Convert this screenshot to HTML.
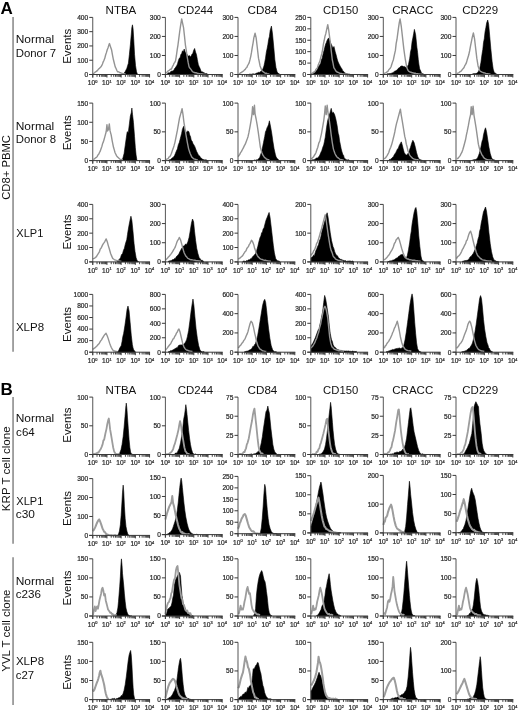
<!DOCTYPE html><html><head><meta charset="utf-8"><style>html,body{margin:0;padding:0;background:#fff;}svg{display:block;filter:blur(0.3px)}</style></head><body>
<svg width="520" height="712" viewBox="0 0 520 712" font-family="Liberation Sans, sans-serif">
<rect width="520" height="712" fill="#fff"/>
<g><path d="M123.23,74.5 L123.23,74.06 L124.15,72.99 L125.08,71.85 L126,69.97 L126.92,68.15 L127.66,65.46 L128.4,63.23 L129.38,54.62 L130.37,44.77 L131.23,34.92 L131.85,27.54 L132.46,24.83 L133.08,28.77 L133.69,38.62 L134.55,54.62 L135.54,65.69 L136.52,71.85 L137.38,74.06 L137.38,74.5 Z" fill="#000" stroke="#000" stroke-width="0.6" stroke-linejoin="round"/><path d="M93.08,73.69 L93.79,73.27 L94.51,72.73 L95.23,72.08 L95.95,71.74 L96.67,71.17 L97.38,70.62 L98.1,69.63 L98.82,68.79 L99.54,68.3 L100.26,67.4 L100.97,66.77 L101.69,65.69 L102.46,63.95 L103.23,61.85 L104,60.2 L104.77,58.31 L105.59,54.99 L106.41,52.63 L107.23,49.69 L107.97,47.94 L108.71,45.6 L109.45,43.54 L110.49,46.68 L111.54,49.69 L112.46,54.9 L113.38,59.54 L114.31,63.27 L115.23,66.92 L116.05,68.52 L116.87,70.5 L117.69,71.85 L118.41,71.75 L119.13,72.12 L119.85,72.68 L120.56,72.59 L121.28,73.17 L122,73.45 L122.74,73.44 L123.48,73.82 L124.22,73.8 L124.95,73.9 L125.69,74.06" fill="none" stroke="#939393" stroke-width="1.4" stroke-linejoin="round"/><path d="M166.92,74.5 L166.92,73.69 L167.69,73.74 L168.46,72.63 L169.23,72.97 L170,72.4 L170.77,71.72 L171.54,70.94 L172.31,71.18 L173.08,70.62 L173.82,70.45 L174.55,68.52 L175.29,68.03 L176.03,66.4 L176.77,65.69 L177.59,63.57 L178.41,60.46 L179.23,58.31 L180.05,57.69 L180.87,54.56 L181.69,53.38 L182.51,50.78 L183.33,52.11 L184.15,49.08 L185.08,51.51 L186,53.38 L186.92,54.1 L187.85,55.85 L188.67,56.12 L189.49,55.55 L190.31,57.08 L191.13,56.02 L191.95,54.24 L192.77,53.38 L193.69,50.35 L194.62,48.46 L195.54,52.09 L196.46,54.62 L197.38,59.65 L198.31,64.46 L199.08,66.39 L199.85,68.01 L200.62,70.04 L201.38,71.85 L202.15,72.25 L202.92,71.7 L203.69,72.7 L204.46,72.84 L205.23,73.65 L206,73.74 L206.77,73.56 L207.54,74.06 L207.54,74.5 Z" fill="#000" stroke="#000" stroke-width="0.6" stroke-linejoin="round"/><path d="M165.69,73.08 L166.46,72.45 L167.23,72.04 L168,70.99 L168.77,70.51 L169.54,70.14 L170.31,69.1 L171.08,69.3 L171.85,68.15 L172.58,66.34 L173.32,65.04 L174.06,63.18 L174.8,62.39 L175.54,60.77 L176.36,55.97 L177.18,49.84 L178,44.77 L178.82,38.44 L179.64,32 L180.46,26.31 L181.69,18.92 L182.62,23.34 L183.54,27.54 L184.46,35.89 L185.38,44.77 L186.31,50.58 L187.23,57.08 L188.15,62.42 L189.08,66.92 L189.82,67.98 L190.55,68.87 L191.29,69.88 L192.03,70.99 L192.77,71.85 L193.54,72.07 L194.31,72.53 L195.08,72.71 L195.85,72.63 L196.62,72.91 L197.38,73.41 L198.15,73.35 L198.92,73.69 L199.69,73.67 L200.46,73.87 L201.23,73.91 L202,73.82 L202.77,74 L203.54,74.14 L204.31,74.27 L205.08,74.31" fill="none" stroke="#939393" stroke-width="1.4" stroke-linejoin="round"/><path d="M249.15,74.5 L249.15,74.22 L249.93,74.1 L250.71,74.19 L251.49,74.23 L252.27,73.98 L253.05,73.73 L253.83,73.93 L254.61,73.97 L255.38,73.75 L256.16,73.26 L256.94,73.12 L257.72,72.84 L258.5,72.33 L259.28,72.4 L260.06,72.19 L260.84,71.22 L261.62,70.35 L262.39,69.86 L263.17,68.2 L263.95,65.96 L264.73,62.3 L265.51,58.17 L266.29,52.39 L267.07,48.83 L267.85,44.73 L268.62,39.48 L269.4,36.56 L270.18,30.45 L271.43,26.08 L272.52,34.03 L273.77,47.27 L274.86,59.73 L275.95,67.52 L277.19,72.19 L277.97,72.75 L278.75,73.61 L279.53,74.06 L279.53,74.5 Z" fill="#000" stroke="#000" stroke-width="0.6" stroke-linejoin="round"/><path d="M239.03,73.75 L239.81,73.39 L240.59,72.76 L241.37,72.55 L242.14,71.9 L242.92,71.41 L243.7,70.69 L244.48,69.92 L245.26,69.34 L246.04,68.01 L246.82,67.52 L247.6,65.48 L248.38,64.29 L249.15,62.85 L249.93,59.89 L250.71,56.62 L251.49,52.39 L252.27,47.27 L253.05,43.02 L253.83,37.92 L255.07,33.25 L256.16,37.92 L257.25,47.27 L258.5,58.17 L259.28,61.98 L260.06,65.96 L260.99,68.32 L261.93,70.63 L262.63,71.43 L263.33,71.81 L264.03,72.35 L264.73,72.97 L265.51,73.32 L266.29,73.11 L267.07,73.59 L267.85,73.83 L268.62,73.86 L269.4,74.06" fill="none" stroke="#939393" stroke-width="1.4" stroke-linejoin="round"/><path d="M311.25,74.5 L311.25,74.22 L312.03,73.92 L312.81,73.71 L313.59,73.38 L314.37,72.97 L315.14,72.17 L315.92,70.88 L316.7,70.6 L317.48,69.08 L318.26,66.58 L319.04,66.14 L319.82,64.4 L320.6,63.68 L321.38,59.68 L322.15,58.17 L323.09,53.93 L324.02,50.38 L324.8,47.2 L325.58,44.15 L326.36,42.53 L327.14,40.26 L327.92,38.91 L328.7,37.92 L329.94,41.04 L331.19,44.15 L331.97,45.69 L332.75,48.05 L333.99,46.49 L335.24,51.94 L336.1,54.79 L336.95,58.17 L337.73,61.01 L338.51,62.85 L339.52,64.89 L340.53,66.74 L341.26,68 L341.99,68.91 L342.72,70.63 L343.73,71.53 L344.74,72.97 L345.52,73.19 L346.3,73.72 L347.08,73.81 L347.86,74.06 L348.63,74.17 L349.41,74.29 L350.19,74.5 L350.19,74.5 Z" fill="#000" stroke="#000" stroke-width="0.6" stroke-linejoin="round"/><path d="M311.25,73.75 L312.03,73.24 L312.81,72.77 L313.59,72.15 L314.37,71.88 L315.14,71.14 L315.92,69.22 L316.7,68.71 L317.48,67.52 L318.26,64.85 L319.04,63.02 L319.82,61.29 L320.83,57.12 L321.84,53.5 L322.62,49.54 L323.4,44.15 L324.18,40.52 L324.96,36.37 L325.74,33.91 L326.52,30.13 L327.76,24.68 L328.7,30.13 L329.94,39.48 L331.19,50.38 L332.28,59.73 L333.06,63.41 L333.84,67.52 L334.62,68.79 L335.39,70.24 L336.17,71.41 L336.95,72.03 L337.73,72.23 L338.51,72.56 L339.29,72.97 L340.07,73.23 L340.85,73.36 L341.62,73.5 L342.4,73.81 L343.18,74.04 L343.96,74.06 L344.74,74.21 L345.52,74.05 L346.3,74.23 L347.08,74.29 L347.86,74.36 L348.63,74.39 L349.41,74.49 L350.19,74.5" fill="none" stroke="#939393" stroke-width="1.4" stroke-linejoin="round"/><path d="M386.37,74.5 L386.37,74.22 L387.14,73.81 L387.92,73.79 L388.7,73.65 L389.48,73.6 L390.26,73.53 L391.04,73.44 L391.82,73.02 L392.6,72.85 L393.38,72.17 L394.15,72.19 L394.93,70.85 L395.71,71.12 L396.49,70.17 L397.27,69.86 L398.05,68.61 L398.83,67.96 L399.61,67.52 L400.62,66.37 L401.63,65.96 L402.36,66.07 L403.08,66.31 L403.81,66.74 L404.51,66.44 L405.21,67.14 L405.91,67.31 L406.62,68.3 L407.55,66.25 L408.48,64.4 L409.73,58.17 L410.51,51.9 L411.29,48.83 L412.07,41.77 L412.85,37.92 L413.62,33.81 L414.4,29.36 L415.65,34.81 L416.9,47.27 L417.6,52.55 L418.3,59.73 L419,64.88 L419.7,69.08 L420.56,70.52 L421.41,72.97 L422.19,73.53 L422.97,73.63 L423.75,74.22 L423.75,74.5 Z" fill="#000" stroke="#000" stroke-width="0.6" stroke-linejoin="round"/><path d="M384.03,73.75 L384.81,73.11 L385.59,72.8 L386.37,72.37 L387.14,71.78 L387.92,71.41 L388.7,69.89 L389.48,69.04 L390.26,68.24 L391.04,66.74 L391.82,64.22 L392.6,61.87 L393.38,59.73 L394.39,54.95 L395.4,50.38 L396.18,43.4 L396.96,39.48 L397.74,33.54 L398.52,27.8 L399.29,22.68 L400.07,18.92 L401.32,26.71 L402.57,37.92 L403.81,48.83 L404.59,54.53 L405.37,59.73 L406.62,66.74 L407.39,69.03 L408.17,70.63 L408.95,71.41 L409.73,71.77 L410.51,72.19 L411.29,72.18 L412.07,72.87 L412.85,72.82 L413.62,73.04 L414.4,73.28 L415.18,73.19 L415.96,73.67 L416.74,73.74 L417.52,73.73 L418.3,73.97 L419.08,74.06 L419.86,74.21 L420.63,74.16 L421.41,74.25 L422.19,74.38 L422.97,74.35 L423.75,74.5" fill="none" stroke="#939393" stroke-width="1.4" stroke-linejoin="round"/><path d="M471.83,74.5 L471.83,74.22 L472.61,73.93 L473.38,73.64 L474.16,73.55 L474.94,73.64 L475.72,73.44 L476.5,73.37 L477.28,72.79 L478.06,72.19 L478.84,70.46 L479.62,69.08 L480.86,62.85 L482.11,53.5 L482.81,49.44 L483.51,42.6 L484.29,38.74 L485.07,31.69 L485.85,27.64 L486.62,23.12 L487.72,20.01 L488.65,24.22 L489.74,36.37 L490.83,48.83 L492.08,61.29 L493.17,69.08 L494.41,72.97 L495.19,72.83 L495.97,73.73 L496.75,74.22 L496.75,74.5 Z" fill="#000" stroke="#000" stroke-width="0.6" stroke-linejoin="round"/><path d="M457.03,73.75 L457.81,73.13 L458.59,72.94 L459.37,72.28 L460.14,71.65 L460.92,71.41 L461.7,70.23 L462.48,69.43 L463.26,68.42 L464.04,67.52 L464.82,65.59 L465.6,64.4 L466.38,62.85 L467.15,60.08 L467.93,57.57 L468.71,55.06 L469.65,50.75 L470.58,45.71 L471.36,41.91 L472.14,37.92 L473.38,32.94 L474.63,39.48 L475.72,48.83 L476.81,58.17 L478.06,65.96 L478.84,68.16 L479.62,70.32 L480.39,71.27 L481.17,71.69 L481.95,72.19 L482.73,72.41 L483.51,72.82 L484.29,72.81 L485.07,73.06 L485.85,73.44 L486.62,73.6 L487.4,73.62 L488.18,73.8 L488.96,73.87 L489.74,74.12 L490.52,74.22" fill="none" stroke="#939393" stroke-width="1.4" stroke-linejoin="round"/><path d="M121.29,160.6 L121.29,160.22 L122.07,159.45 L122.85,158.19 L124.09,153.52 L125.18,145.73 L126.27,137.94 L127.21,131.71 L128.3,132.49 L129.39,123.92 L130.32,116.13 L131.26,112.71 L131.88,108.03 L132.5,114.27 L133.44,122.37 L134.53,136.38 L135.31,147.29 L136.09,155.08 L136.87,159.75 L137.64,160.53 L137.64,160.6 Z" fill="#000" stroke="#000" stroke-width="0.6" stroke-linejoin="round"/><path d="M93.25,159.44 L94.03,159.07 L94.81,158.63 L95.59,157.84 L96.37,157.41 L97.14,156.63 L97.92,155.06 L98.7,154.3 L99.48,152.5 L100.26,151.12 L101.04,148.85 L101.82,146.64 L102.6,143.55 L103.38,141.84 L104.15,139.24 L104.93,136.38 L106.18,131.71 L106.96,124.7 L107.58,130.93 L108.52,129.38 L109.29,123.92 L110.07,130.93 L111.16,134.83 L112.25,141.06 L113.5,147.29 L114.28,149.85 L115.06,152.74 L115.84,154.22 L116.62,155.86 L117.39,156.95 L118.17,157.49 L118.95,158.33 L119.73,158.97 L120.51,159.48 L121.29,159.53 L122.07,159.7 L122.85,160.06" fill="none" stroke="#939393" stroke-width="1.4" stroke-linejoin="round"/><path d="M168.37,160.6 L168.37,160.22 L169.14,160.12 L169.92,159.58 L170.7,159.44 L171.48,158.52 L172.26,157.91 L173.04,157.41 L173.82,156.56 L174.6,155.45 L175.38,153.52 L176.39,151.07 L177.4,148.85 L178.33,144.65 L179.27,142.62 L180.05,139.5 L180.83,136.38 L181.61,133.5 L182.38,129.38 L183.63,126.26 L184.72,129.38 L185.5,130.29 L186.28,132.49 L187.06,131.65 L187.84,130.93 L188.93,131.71 L189.71,135.04 L190.48,136.38 L191.26,140.32 L192.04,141.06 L192.98,143.56 L193.91,144.95 L194.85,146.64 L195.78,149.16 L196.56,151.33 L197.34,152.74 L198.12,154.39 L198.9,155.39 L199.68,156.09 L200.45,157.41 L201.23,158.05 L202.01,158.82 L202.74,159.36 L203.47,159.6 L204.19,159.75 L204.89,159.98 L205.59,159.83 L206.3,159.9 L207,160.22 L207,160.6 Z" fill="#000" stroke="#000" stroke-width="0.6" stroke-linejoin="round"/><path d="M166.03,159.75 L166.81,159.06 L167.59,158.87 L168.37,158.19 L169.14,156.94 L169.92,156.54 L170.7,155.08 L171.48,153.25 L172.26,150.87 L173.04,148.85 L173.97,145.93 L174.91,142.62 L176.15,136.38 L177.4,130.15 L178.49,123.92 L179.58,117.69 L180.83,113.33 L182.07,108.66 L183.01,114.58 L183.94,122.37 L185.19,130.15 L186.28,136.38 L187.37,142.62 L188.62,148.85 L189.39,151.23 L190.17,153.52 L190.95,155.22 L191.73,156.95 L192.51,157.62 L193.29,158.41 L194.07,158.97 L194.85,159.1 L195.62,159.42 L196.4,159.76 L197.18,159.85 L197.96,160.06" fill="none" stroke="#939393" stroke-width="1.4" stroke-linejoin="round"/><path d="M253.83,160.6 L253.83,160.22 L254.61,160.01 L255.38,160.25 L256.16,159.81 L256.94,159.97 L257.72,159.75 L258.73,158.42 L259.75,157.41 L260.52,154.9 L261.3,152.74 L262.39,148.07 L263.48,142.62 L264.73,136.38 L265.51,131.69 L266.29,130.15 L267.07,127.69 L267.85,126.26 L268.62,124.34 L269.4,120.81 L270.65,127.04 L271.74,133.27 L272.83,141.06 L274.08,148.85 L275.32,154.3 L276.1,156.91 L276.88,158.19 L277.82,159.1 L278.75,160.06 L278.75,160.6 Z" fill="#000" stroke="#000" stroke-width="0.6" stroke-linejoin="round"/><path d="M238.25,156.63 L239.03,155.39 L239.81,154.27 L240.59,152.51 L241.37,151.65 L242.3,149.75 L243.23,148.22 L244.25,145.85 L245.26,144.17 L246.27,141.44 L247.28,138.72 L248.06,136.46 L248.84,132.96 L249.93,127.04 L251.02,120.81 L251.96,114.58 L252.58,106.79 L253.52,114.58 L254.45,105.23 L255.07,113.8 L256.16,119.25 L257.25,125.48 L258.19,131.71 L259.28,139.5 L260.37,147.29 L261.15,150.27 L261.93,152.74 L262.94,155.14 L263.95,156.63 L264.73,157.72 L265.51,158.05 L266.29,158.97 L267.07,159.26 L267.85,159.53 L268.62,159.77 L269.4,160.06" fill="none" stroke="#939393" stroke-width="1.4" stroke-linejoin="round"/><path d="M311.25,160.6 L311.25,160.22 L312.03,159.88 L312.81,159.67 L313.59,159.74 L314.37,159.44 L315.14,159.2 L315.92,158.29 L316.7,157.98 L317.48,157.88 L318.26,157.17 L319.04,156.47 L319.82,155.08 L320.83,152.5 L321.84,150.4 L322.78,147.3 L323.71,144.95 L324.49,141.26 L325.27,137.16 L326.52,127.82 L327.61,120.81 L328.7,116.91 L329.94,113.02 L331.19,108.35 L332.28,113.02 L333.37,112.24 L334.62,114.58 L335.86,119.25 L337.11,125.48 L338.2,133.27 L338.9,135.56 L339.6,141.06 L340.38,144.73 L341.16,148.85 L341.94,151.66 L342.72,154.3 L343.49,155.2 L344.27,157.88 L345.29,159.06 L346.3,159.75 L347.08,159.83 L347.86,160.12 L348.63,159.78 L349.41,160.22 L349.41,160.6 Z" fill="#000" stroke="#000" stroke-width="0.6" stroke-linejoin="round"/><path d="M311.25,158.97 L312.03,158.25 L312.81,157.38 L313.59,156.63 L314.37,155.29 L315.14,154.29 L315.92,152.74 L316.86,149.71 L317.79,147.29 L318.8,143.17 L319.82,141.06 L320.6,137.37 L321.38,134.05 L322.62,127.04 L323.71,120.81 L324.49,114.58 L325.27,106.01 L326.2,114.58 L327.14,105.23 L328.07,113.02 L329.16,119.25 L330.25,127.04 L331.19,134.83 L332.28,142.62 L333.37,148.85 L334.15,151.36 L334.93,153.52 L335.94,155.49 L336.95,156.95 L337.73,157.65 L338.51,158.19 L339.29,158.82 L340.07,159.44 L340.85,159.78 L341.62,159.56 L342.4,159.88 L343.18,160.19 L343.96,160.22" fill="none" stroke="#939393" stroke-width="1.4" stroke-linejoin="round"/><path d="M388.7,160.6 L388.7,160.22 L389.48,159.42 L390.26,159.48 L391.04,158.97 L391.82,158 L392.6,157.3 L393.38,156.63 L394.15,154.94 L394.93,153.76 L395.71,152.74 L396.65,150.63 L397.58,148.85 L398.36,148.21 L399.14,145.73 L400.38,143.39 L401.32,141.84 L402.25,144.95 L403.19,148.85 L404.28,152.74 L405.06,153.79 L405.84,155.08 L406.62,154.94 L407.39,154.3 L408.17,153.23 L408.95,151.96 L409.73,149.25 L410.51,147.29 L411.6,143.39 L412.85,140.28 L414.09,142.62 L415.34,147.29 L416.58,152.74 L417.83,156.95 L418.61,158.16 L419.39,159.44 L420.09,159.53 L420.79,159.89 L421.49,160.12 L422.19,160.22 L422.19,160.6 Z" fill="#000" stroke="#000" stroke-width="0.6" stroke-linejoin="round"/><path d="M384.03,158.97 L384.81,158.38 L385.59,157.77 L386.37,156.63 L387.14,155.66 L387.92,154.05 L388.7,152.74 L389.71,149.5 L390.73,147.29 L391.66,144.56 L392.6,141.06 L393.38,137.99 L394.15,134.83 L394.93,131.23 L395.71,127.04 L396.49,123.69 L397.27,120.81 L398.52,116.13 L399.76,111.46 L400.38,109.12 L401.16,114.58 L402.25,120.81 L403.5,128.6 L404.75,136.38 L405.52,139.45 L406.3,144.17 L407.08,146.8 L407.86,150.4 L408.8,152.85 L409.73,155.08 L410.51,156.12 L411.29,156.9 L412.07,157.88 L412.85,158.37 L413.62,158.76 L414.4,159.2 L415.18,159.44 L415.96,159.56 L416.74,159.86 L417.52,159.75 L418.3,160.1 L419.08,160.22" fill="none" stroke="#939393" stroke-width="1.4" stroke-linejoin="round"/><path d="M471.83,160.6 L471.83,160.22 L472.61,160.15 L473.38,159.87 L474.16,159.76 L474.94,159.47 L475.72,159.44 L476.73,158.99 L477.75,157.41 L478.52,155.58 L479.3,153.52 L480.08,150.45 L480.86,147.29 L482.11,141.06 L482.81,139.31 L483.51,134.83 L484.76,129.84 L485.53,127.82 L486.47,131.4 L487.72,139.5 L488.96,147.29 L490.21,153.52 L491.45,157.41 L492.23,158.8 L493.01,159.75 L493.74,159.83 L494.47,159.97 L495.19,160.22 L495.19,160.6 Z" fill="#000" stroke="#000" stroke-width="0.6" stroke-linejoin="round"/><path d="M457.03,158.97 L457.81,158.42 L458.59,157.54 L459.37,156.63 L460.14,155.59 L460.92,153.95 L461.7,152.74 L462.71,150.06 L463.73,146.51 L464.66,143.04 L465.6,139.5 L466.38,135.12 L467.15,131.71 L468.4,125.48 L469.49,119.25 L470.58,114.58 L471.2,106.79 L472.14,114.58 L473.07,106.17 L474.01,115.36 L474.94,120.81 L476.19,128.6 L477.28,136.38 L478.37,144.17 L479.15,147.4 L479.93,150.4 L480.94,152.52 L481.95,155.08 L482.73,155.84 L483.51,157.34 L484.29,158.19 L485.07,158.71 L485.85,159.07 L486.62,159.42 L487.4,159.75 L488.18,159.82 L488.96,160.04 L489.74,159.96 L490.52,160.13 L491.3,160.06 L492.08,160.22" fill="none" stroke="#939393" stroke-width="1.4" stroke-linejoin="round"/><path d="M117.39,261.9 L117.39,261.22 L118.17,260.03 L118.95,259.97 L119.73,258.81 L120.51,257.63 L121.52,254.6 L122.53,253.74 L123.47,250.26 L124.4,248.29 L125.18,244.76 L125.96,242.06 L126.74,239.76 L127.52,234.27 L128.3,229.33 L129.08,224.92 L130.32,218.69 L130.95,216.2 L131.88,220.56 L132.97,231.15 L134.06,243.62 L135,251.4 L136.09,257.63 L137.18,260.75 L138.42,261.53 L138.42,261.9 Z" fill="#000" stroke="#000" stroke-width="0.6" stroke-linejoin="round"/><path d="M92.75,258.88 L94.03,258.41 L94.81,258.03 L95.59,257.16 L96.37,256.86 L97.14,255.29 L97.92,254.2 L98.7,252.96 L99.48,251.54 L100.26,249 L101.04,248.29 L101.82,246.64 L102.6,244.9 L103.38,243.62 L104.15,242.63 L104.93,241.28 L106.18,238.94 L106.88,240.7 L107.58,242.84 L108.36,245.86 L109.14,248.29 L109.92,250.99 L110.7,253.74 L111.71,256.11 L112.72,258.41 L113.5,259.03 L114.28,259.53 L115.06,259.97 L115.84,260.19 L116.62,260.38 L117.39,260.59 L118.17,260.75 L118.95,260.91 L119.73,261.02 L120.51,261.09 L121.29,261.22" fill="none" stroke="#939393" stroke-width="1.4" stroke-linejoin="round"/><path d="M168.37,261.9 L168.37,261.22 L169.14,261.12 L169.92,260.74 L170.7,260.77 L171.48,260.44 L172.26,259.63 L173.04,259.68 L173.82,259.35 L174.6,258.41 L175.38,258.46 L176.15,256.99 L176.93,256.08 L177.95,255.16 L178.96,253.74 L179.74,251.99 L180.52,250.62 L181.76,248.29 L182.46,247.41 L183.16,245.95 L183.94,246.27 L184.72,245.17 L185.5,244.09 L186.28,244.39 L187.06,243.57 L187.84,242.06 L189.08,237.38 L190.17,231.15 L191.42,223.37 L192.51,219 L193.6,221.81 L194.53,231.15 L195.62,240.5 L196.72,248.29 L197.96,253.74 L199.21,257.63 L199.99,258.47 L200.77,259.97 L201.65,260.31 L202.53,260.43 L203.41,261.06 L203.41,261.9 Z" fill="#000" stroke="#000" stroke-width="0.6" stroke-linejoin="round"/><path d="M165.72,259.97 L166.65,259.01 L167.59,257.95 L168.37,256.97 L169.14,256.39 L169.92,255.3 L170.7,254.35 L171.48,253.3 L172.26,252.18 L173.04,250.84 L173.82,249.43 L174.6,248.29 L175.38,246.63 L176.15,244.39 L176.93,242.06 L177.71,240.19 L178.49,239.44 L179.27,237.38 L180.52,239.72 L181.61,243.62 L182.85,248.29 L183.55,250.8 L184.25,252.96 L185.03,254.51 L185.81,256.08 L186.82,257.07 L187.84,258.41 L188.62,258.68 L189.39,259.13 L190.17,259.5 L190.95,259.91 L191.73,259.59 L192.51,259.91 L193.29,260.13 L194.07,260.12 L194.85,260.2 L195.62,260.49 L196.4,260.72 L197.18,260.75 L197.96,260.79 L198.74,261.01 L199.52,260.98 L200.3,261.18 L201.08,261.22" fill="none" stroke="#939393" stroke-width="1.4" stroke-linejoin="round"/><path d="M242.92,261.9 L242.92,261.22 L243.7,261.05 L244.48,261.15 L245.26,261.45 L246.04,260.66 L246.82,260.75 L247.6,260.63 L248.38,259.75 L249.15,259.97 L250.09,259.15 L251.02,258.41 L251.8,258.16 L252.58,256.86 L253.36,255.93 L254.14,255.3 L255.38,253.74 L256.63,250.62 L257.72,246.73 L258.81,242.06 L260.06,237.38 L260.84,236.11 L261.62,232.71 L262.39,232.36 L263.17,228.82 L263.95,228.13 L264.73,224.92 L265.98,220.25 L267.22,217.13 L268.16,214.8 L269.09,212.46 L270.03,217.13 L270.96,224.92 L272.21,235.83 L273.3,245.17 L274.39,252.96 L275.63,258.41 L276.41,259.62 L277.19,260.75 L277.97,260.86 L278.75,261.02 L279.53,261.22 L279.53,261.9 Z" fill="#000" stroke="#000" stroke-width="0.6" stroke-linejoin="round"/><path d="M238.25,259.19 L239.03,258.62 L239.81,258.05 L240.59,257.63 L241.37,256.58 L242.14,256.19 L242.92,255.3 L243.7,253.75 L244.48,252.66 L245.26,251.4 L246.04,250.67 L246.82,248.44 L247.6,247.51 L248.38,246.64 L249.15,244.64 L249.93,243.62 L250.71,241.94 L251.49,240.19 L252.27,241.11 L253.05,242.84 L253.83,244.94 L254.61,248.29 L255.38,250.34 L256.16,252.96 L257.18,255.35 L258.19,256.86 L258.92,257.51 L259.64,258.28 L260.37,258.88 L261.07,259.19 L261.77,259.44 L262.47,259.56 L263.17,259.97 L263.95,260.1 L264.73,260.41 L265.51,260.21 L266.29,260.64 L267.07,260.75 L267.85,260.9 L268.62,261.07 L269.4,261.07 L270.18,261.21 L270.96,261.22" fill="none" stroke="#939393" stroke-width="1.4" stroke-linejoin="round"/><path d="M310.94,261.9 L310.94,258.41 L311.87,256.96 L312.81,256.86 L313.59,254.95 L314.37,255.63 L315.14,252.96 L315.92,250.46 L316.7,248.92 L317.48,246.73 L318.49,244.74 L319.51,240.5 L320.44,238.74 L321.38,234.27 L322.15,230.4 L322.93,228.04 L324.18,223.37 L325.27,219.47 L326.2,215.58 L327.14,212.77 L328.07,217.13 L329.16,224.92 L330.25,232.71 L331.5,240.5 L332.28,243.58 L333.06,246.73 L333.84,248.39 L334.62,251.4 L335.55,253.82 L336.48,255.3 L337.5,255.83 L338.51,257.95 L339.29,258.3 L340.07,259.03 L340.85,259.5 L341.62,259.45 L342.4,259.93 L343.18,260.33 L343.96,260.44 L344.74,260.79 L345.52,260.6 L346.3,261.38 L347.08,261.03 L347.86,261.24 L348.63,261.06 L349.41,260.94 L350.19,260.95 L350.97,261.31 L351.75,261.36 L352.53,261.04 L353.31,261.37 L353.31,261.9 Z" fill="#000" stroke="#000" stroke-width="0.6" stroke-linejoin="round"/><path d="M310.94,255.3 L311.87,254.06 L312.81,252.96 L313.59,250.93 L314.37,249.87 L315.14,248.29 L315.92,245.97 L316.7,243.32 L317.48,242.06 L318.49,239.12 L319.51,235.83 L320.44,232.26 L321.38,229.6 L322.15,226.07 L322.93,223.37 L324.18,218.69 L325.27,214.8 L326.2,220.25 L327.29,228.04 L328.38,235.83 L329.63,243.62 L330.41,247.76 L331.19,250.62 L332.12,252.63 L333.06,255.77 L333.84,257.01 L334.62,257.69 L335.39,258.88 L336.17,259.27 L336.95,259.76 L337.73,260.1 L338.51,260.44 L339.29,260.44 L340.07,260.86 L340.85,260.82 L341.62,261.23 L342.4,261.16 L343.18,261.22" fill="none" stroke="#939393" stroke-width="1.4" stroke-linejoin="round"/><path d="M387.92,261.9 L387.92,261.22 L388.7,261.59 L389.48,261.03 L390.26,260.72 L391.04,261.21 L391.82,260.44 L392.6,260.2 L393.38,260.02 L394.15,259.69 L394.93,259.19 L395.82,258.51 L396.7,258.03 L397.58,257.63 L398.59,256.33 L399.61,256.08 L400.38,254.88 L401.16,254.83 L402.25,254.21 L403.5,255.77 L404.28,257.32 L405.06,258.41 L406.3,258.41 L407.39,255.3 L408.48,249.85 L409.73,242.06 L410.51,235.65 L411.29,231.15 L412.07,224.23 L412.85,219.47 L414.09,212.46 L415.18,208.57 L415.96,207.48 L416.74,211.68 L417.83,223.37 L418.77,235.83 L419.86,246.73 L420.95,256.08 L421.88,259.97 L422.82,260.63 L423.75,261.22 L423.75,261.9 Z" fill="#000" stroke="#000" stroke-width="0.6" stroke-linejoin="round"/><path d="M384.03,259.97 L384.81,259.39 L385.59,258.77 L386.37,257.95 L387.14,257.24 L387.92,256.01 L388.7,255.3 L389.48,254.13 L390.26,252.65 L391.04,251.4 L391.82,250.13 L392.6,248.66 L393.38,246.73 L394.39,243.52 L395.4,242.06 L396.18,239.69 L396.96,238.94 L398.2,237.38 L399.29,239.72 L400.38,243.62 L401.63,248.29 L402.88,252.18 L403.58,253.9 L404.28,256.08 L405.29,257.26 L406.3,258.41 L407.19,258.95 L408.07,258.88 L408.95,259.5 L409.73,259.84 L410.51,259.76 L411.29,259.85 L412.07,260.25 L412.85,260.13 L413.62,260.27 L414.4,260.22 L415.18,260.4 L415.96,260.87 L416.74,260.75 L417.52,260.7 L418.3,261.09 L419.08,261.04 L419.86,261.14 L420.63,261.22" fill="none" stroke="#939393" stroke-width="1.4" stroke-linejoin="round"/><path d="M462.48,261.9 L462.48,261.22 L463.26,261.28 L464.04,260.64 L464.82,260.75 L465.6,260.5 L466.38,260.44 L467.26,260.35 L468.14,259.72 L469.02,258.88 L470.04,256.95 L471.05,256.39 L472.06,255.09 L473.07,253.74 L474.01,251.95 L474.94,249.85 L475.72,247.45 L476.5,245.17 L477.28,242.87 L478.06,238.94 L478.84,236.65 L479.62,231.15 L480.39,228.77 L481.17,223.37 L481.95,219.66 L482.73,215.58 L483.51,211.82 L484.29,210.12 L485.53,207.01 L486.47,210.9 L487.72,220.25 L488.96,232.71 L490.21,243.62 L491.45,251.4 L492.7,256.86 L493.95,259.97 L494.96,260.39 L495.97,261.06 L496.75,261.47 L497.53,261.46 L498.31,261.37 L498.31,261.9 Z" fill="#000" stroke="#000" stroke-width="0.6" stroke-linejoin="round"/><path d="M456.25,258.41 L457.03,257.82 L457.81,256.47 L458.59,256.08 L459.37,255.33 L460.14,254.19 L460.92,252.96 L461.7,251.25 L462.48,249.33 L463.26,248.29 L464.04,246.46 L464.82,244.85 L465.6,243.62 L466.38,240.85 L467.15,240.09 L467.93,237.38 L468.71,234.73 L469.49,232.71 L470.58,231.15 L471.83,235.05 L473.07,240.5 L473.85,243.71 L474.63,246.73 L475.41,249.13 L476.19,252.18 L477.12,254.31 L478.06,256.08 L478.84,256.71 L479.62,257.46 L480.39,258.73 L481.17,258.62 L481.95,259.56 L482.73,259.85 L483.51,260.13 L484.29,260.21 L485.07,260.25 L485.85,260.69 L486.62,260.58 L487.4,260.91 L488.18,261.04 L488.96,260.83 L489.74,261.08 L490.52,261.01 L491.3,261.37 L492.08,261.22" fill="none" stroke="#939393" stroke-width="1.4" stroke-linejoin="round"/><path d="M117.39,352.2 L117.39,351.84 L118.17,351.42 L118.95,349.97 L119.73,348.03 L120.51,346.86 L121.29,345.39 L122.07,341.4 L122.85,336.49 L123.62,333.62 L124.87,325.83 L125.96,318.04 L127.05,309.47 L127.99,306.04 L129.08,311.03 L130.17,322.71 L131.26,335.17 L132.35,344.52 L133.05,347.88 L133.75,349.97 L134.53,350.92 L135.31,351.68 L135.31,352.2 Z" fill="#000" stroke="#000" stroke-width="0.6" stroke-linejoin="round"/><path d="M92.75,349.5 L93.78,348.55 L94.81,347.95 L95.59,347.21 L96.37,346.5 L97.14,345.77 L97.92,344.79 L98.7,343.98 L99.48,342.96 L100.49,341.17 L101.51,339.85 L102.44,338.06 L103.38,336.73 L104.15,335.36 L104.93,334.39 L106.02,333.3 L107.27,335.95 L108.05,338.12 L108.83,340.62 L109.61,343.13 L110.38,345.3 L111.32,347.47 L112.25,349.19 L113.27,350.58 L114.28,351.06 L115.06,351.04 L115.84,351.36 L116.62,351.49 L117.39,351.68" fill="none" stroke="#939393" stroke-width="1.4" stroke-linejoin="round"/><path d="M168.37,352.2 L168.37,351.84 L169.14,351.48 L169.92,351.47 L170.7,350.51 L171.48,350.75 L172.18,350.27 L172.88,350.07 L173.58,349.55 L174.28,349.19 L175.22,348.58 L176.15,347.63 L177.09,348.23 L178.02,346.39 L179.04,345 L180.05,345.3 L180.83,344.85 L181.61,344.96 L182.38,344.52 L183.32,344.68 L184.25,343.74 L185.03,342.84 L185.81,341.4 L186.59,339.72 L187.37,336.73 L188.62,330.5 L189.86,321.15 L191.11,311.03 L192.2,303.71 L192.98,299.03 L193.91,305.58 L194.85,316.17 L196.09,328.94 L197.34,338.29 L198.58,345.3 L199.83,349.5 L200.61,350.94 L201.39,351.37 L202.09,351.93 L202.79,351.76 L203.49,351.64 L204.19,351.84 L204.19,352.2 Z" fill="#000" stroke="#000" stroke-width="0.6" stroke-linejoin="round"/><path d="M165.56,349.97 L166.57,348.87 L167.59,347.63 L168.37,346.44 L169.14,345.5 L169.92,344.52 L170.7,343.69 L171.48,341.95 L172.26,340.62 L173.04,338.97 L173.82,338.52 L174.6,336.73 L175.61,335.11 L176.62,332.84 L177.32,332.02 L178.02,330.19 L178.96,328.94 L180.05,332.06 L181.14,336.73 L182.38,342.18 L183.16,344.68 L183.94,346.86 L184.88,348.35 L185.81,349.5 L186.51,349.98 L187.21,350.38 L187.91,350.3 L188.62,350.75 L189.39,351.06 L190.17,351.08 L190.95,351.26 L191.73,351.43 L192.51,351.53" fill="none" stroke="#939393" stroke-width="1.4" stroke-linejoin="round"/><path d="M244.48,352.2 L244.48,351.84 L245.26,351.47 L246.04,351.5 L246.82,351.12 L247.6,351.06 L248.38,351.06 L249.15,349.94 L249.93,349.97 L250.95,349.28 L251.96,348.41 L252.89,346.35 L253.83,346.39 L254.61,344.49 L255.38,343.74 L256.63,339.85 L257.72,335.17 L258.81,328.94 L260.06,321.15 L261.3,313.37 L262.55,305.58 L263.8,300.9 L264.73,299.35 L265.67,302.46 L266.6,310.25 L267.53,319.6 L268.62,328.94 L269.87,338.29 L271.12,345.3 L271.82,347.38 L272.52,349.5 L273.3,350.6 L274.08,351.53 L274.86,351.94 L275.63,351.65 L276.41,351.84 L276.41,352.2 Z" fill="#000" stroke="#000" stroke-width="0.6" stroke-linejoin="round"/><path d="M238.25,347.95 L239.03,347.05 L239.81,345.89 L240.59,345.3 L241.37,344.1 L242.14,342.97 L242.92,342.18 L243.7,340.69 L244.48,339.62 L245.26,338.29 L246.27,335.77 L247.28,333.62 L248.06,331.24 L248.84,328.16 L250.09,323.49 L251.02,321.15 L252.27,322.71 L253.52,327.38 L254.76,333.62 L255.46,336.43 L256.16,339.85 L256.94,342.83 L257.72,345.3 L258.73,347.19 L259.75,348.88 L260.63,349.36 L261.51,350.07 L262.39,350.75 L263.17,350.91 L263.95,351.07 L264.73,351.24 L265.51,351.38 L266.29,351.53" fill="none" stroke="#939393" stroke-width="1.4" stroke-linejoin="round"/><path d="M310.94,352.2 L310.94,346.08 L311.72,344.67 L312.5,343.74 L313.43,342.12 L314.37,339.85 L315.3,337.84 L316.23,335.17 L317.25,332.53 L318.26,329.72 L319.12,328.6 L319.97,324.27 L320.67,321.74 L321.38,318.04 L322.62,311.81 L323.71,302.46 L324.65,295.45 L325.58,298.57 L326.52,304.02 L327.45,310.25 L328.38,316.48 L329.32,325.83 L330.25,333.62 L331.5,339.85 L332.28,341.21 L333.06,344.52 L333.99,346.38 L334.93,347.32 L335.94,348.22 L336.95,349.19 L337.83,349.58 L338.72,349.88 L339.6,350.28 L340.33,350.47 L341.05,349.98 L341.78,351.27 L342.51,350.77 L343.23,351.15 L343.96,350.91 L344.74,350.96 L345.52,351.09 L346.3,350.95 L347.08,351.14 L347.86,351.09 L348.63,350.95 L349.41,351.27 L350.19,351.22 L350.97,351.44 L351.75,351.45 L352.53,351.1 L353.31,351.29 L354.09,351.73 L354.87,351.23 L355.64,351.5 L356.42,351.37 L356.42,352.2 Z" fill="#000" stroke="#000" stroke-width="0.6" stroke-linejoin="round"/><path d="M310.94,347.95 L311.87,346.91 L312.81,346.08 L313.74,344.48 L314.68,342.96 L315.69,340.2 L316.7,338.29 L317.71,334.72 L318.73,332.06 L319.66,327.45 L320.6,324.27 L321.38,319.89 L322.15,316.48 L323.24,311.03 L324.02,307.91 L324.96,306.36 L325.89,308.38 L326.83,312.59 L327.76,318.04 L328.7,327.38 L329.63,336.73 L330.72,342.96 L331.97,346.86 L332.9,347.54 L333.84,348.88 L334.62,349.24 L335.39,349.6 L336.17,349.97 L336.95,349.95 L337.73,350.35 L338.51,350.76 L339.29,350.75 L340.07,350.8 L340.85,350.89 L341.62,351.18 L342.4,350.89 L343.18,351.23 L343.96,351.22" fill="none" stroke="#939393" stroke-width="1.4" stroke-linejoin="round"/><path d="M386.37,352.2 L386.37,351.68 L387.14,351.42 L387.92,351.63 L388.7,350.9 L389.48,350.75 L390.26,350.45 L391.04,350.08 L391.82,349.97 L392.6,349.41 L393.38,349.63 L394.15,349.19 L394.93,349.29 L395.71,348.66 L396.49,348.57 L397.5,348.39 L398.52,348.26 L399.45,347.96 L400.38,348.57 L401.32,348.16 L402.25,347.95 L403.03,346.97 L403.81,345.3 L405.06,339.85 L406.3,332.06 L407.55,322.71 L408.8,313.37 L410.04,304.02 L411.29,297.01 L412.07,293.89 L412.85,297.79 L413.78,309.47 L414.72,322.71 L415.65,333.62 L416.58,342.96 L417.52,348.41 L418.77,351.06 L419.49,351.35 L420.22,351.92 L420.95,351.68 L420.95,352.2 Z" fill="#000" stroke="#000" stroke-width="0.6" stroke-linejoin="round"/><path d="M383.72,347.95 L384.5,347.63 L385.28,345.83 L386.05,345.3 L386.94,343.53 L387.82,342.38 L388.7,341.4 L389.48,339.69 L390.26,338.52 L391.04,336.73 L391.82,334.97 L392.6,332.75 L393.38,331.28 L394.31,328.36 L395.24,326.61 L396.49,323.49 L397.27,321.15 L398.2,325.05 L399.29,330.5 L400.38,336.73 L401.63,342.18 L402.88,346.08 L403.81,347.17 L404.75,348.88 L405.63,349.5 L406.51,350.19 L407.39,350.44 L408.17,350.66 L408.95,350.83 L409.73,350.82 L410.51,351.01 L411.29,351.22" fill="none" stroke="#939393" stroke-width="1.4" stroke-linejoin="round"/><path d="M461.7,352.2 L461.7,351.84 L462.48,351.64 L463.26,351.49 L464.04,351.45 L464.82,351.06 L465.6,350.75 L466.38,350.4 L467.15,349.97 L468.09,348.87 L469.02,348.41 L469.96,347.48 L470.89,346.08 L471.67,344.71 L472.45,342.96 L473.7,338.29 L474.94,332.06 L476.19,324.27 L477.43,314.92 L478.68,305.58 L479.62,298.57 L480.55,295.61 L481.48,298.57 L482.42,307.13 L483.51,319.6 L484.6,328.94 L485.85,336.73 L487.09,342.96 L487.87,344.73 L488.65,347.63 L489.43,348.43 L490.21,350.44 L490.93,350.85 L491.66,351.48 L492.39,351.68 L492.39,352.2 Z" fill="#000" stroke="#000" stroke-width="0.6" stroke-linejoin="round"/><path d="M456.56,348.41 L457.57,347.24 L458.59,346.08 L459.37,344.68 L460.14,343.53 L460.92,342.96 L461.7,341.65 L462.48,340.32 L463.26,338.29 L464.27,335.36 L465.28,332.84 L466.22,330.58 L467.15,327.38 L467.93,324.41 L468.71,322.71 L469.65,321.15 L470.58,322.71 L471.83,327.38 L473.07,333.62 L474.32,339.85 L475.1,342.65 L475.88,345.3 L476.6,346.5 L477.33,347.89 L478.06,348.88 L478.76,349.67 L479.46,349.91 L480.16,350.27 L480.86,350.75 L481.72,350.97 L482.57,351.07 L483.43,351.24 L484.29,351.53" fill="none" stroke="#939393" stroke-width="1.4" stroke-linejoin="round"/><path d="M118.17,454.5 L118.17,454.37 L118.95,454.11 L119.73,452.97 L120.98,449.86 L122.07,444.4 L123.16,436.62 L124.09,427.27 L125.03,416.37 L125.81,407.02 L126.27,403.12 L126.9,408.58 L127.52,417.92 L128.3,428.83 L129.08,439.73 L129.86,447.52 L130.63,452.19 L131.57,454.06 L132.27,454.27 L132.97,454.37 L132.97,454.5 Z" fill="#000" stroke="#000" stroke-width="0.6" stroke-linejoin="round"/><path d="M93.25,454.06 L94.03,453.78 L94.81,453.71 L95.59,453.62 L96.37,453.75 L97.14,452.65 L97.92,452.81 L98.7,452.19 L99.71,450.43 L100.73,449.08 L101.66,446.86 L102.6,444.4 L103.38,440.47 L104.15,439.73 L105.4,433.5 L106.49,428.83 L107.27,424.15 L108.2,420.1 L108.83,418.55 L109.45,423.38 L110.07,429.14 L110.85,433.5 L111.63,438.17 L112.41,442.85 L113.19,447.52 L114.12,451.41 L115.37,453.44 L116.38,454.04 L117.39,454.06 L118.17,454.07 L118.95,454.27 L119.73,454.22" fill="none" stroke="#9c9c9c" stroke-width="1.8" stroke-linejoin="round"/><path d="M174.6,454.5 L174.6,454.37 L175.38,453.07 L176.15,452.97 L176.93,453.18 L177.71,451.41 L178.49,449.9 L179.27,448.3 L180.52,442.85 L181.61,436.62 L182.7,428.83 L183.63,419.48 L184.57,414.81 L185.19,410.13 L185.81,404.68 L186.43,408.58 L187.06,414.81 L187.84,422.6 L188.62,430.38 L189.55,438.17 L190.48,444.4 L191.42,449.08 L192.51,452.5 L193.29,453.73 L194.07,454.06 L194.85,454.44 L195.62,453.89 L196.4,454.37 L196.4,454.5 Z" fill="#000" stroke="#000" stroke-width="0.6" stroke-linejoin="round"/><path d="M166.03,454.22 L166.81,454.27 L167.59,454.11 L168.37,453.82 L169.14,453.75 L169.92,453.09 L170.7,452.61 L171.48,451.88 L172.42,450.58 L173.35,448.3 L174.13,445.48 L174.91,443.62 L176.15,438.95 L177.4,434.28 L178.49,429.61 L179.27,424.93 L180.05,421.04 L180.83,424.15 L181.45,428.83 L182.07,433.5 L182.85,438.17 L183.63,442.85 L184.41,447.52 L185.5,451.41 L186.28,452.15 L187.06,453.44 L187.84,454.25 L188.62,453.84 L189.39,454.22" fill="none" stroke="#9c9c9c" stroke-width="1.8" stroke-linejoin="round"/><path d="M249.15,454.5 L249.15,454.37 L249.93,454.38 L250.71,454.15 L251.49,453.88 L252.27,454.32 L253.05,454.45 L253.83,453.75 L254.61,453.76 L255.38,453.66 L256.16,452.95 L256.94,452.97 L257.88,451.49 L258.81,451.41 L260.06,448.3 L261.3,442.85 L262.39,436.62 L263.17,430.38 L264.11,424.15 L265.04,417.92 L265.98,411.69 L266.91,410.13 L267.85,406.08 L268.62,410.13 L269.4,413.25 L270.18,421.04 L270.96,428.83 L271.9,436.62 L272.83,444.4 L273.77,449.08 L274.86,452.19 L275.63,452.76 L276.41,453.75 L277.19,454.44 L277.97,454.5 L278.75,454.37 L278.75,454.5 Z" fill="#000" stroke="#000" stroke-width="0.6" stroke-linejoin="round"/><path d="M239.03,454.22 L239.81,453.86 L240.59,453.97 L241.37,454.13 L242.14,453.75 L242.92,453.09 L243.7,452 L244.48,452.19 L245.26,449.95 L246.04,448.3 L246.82,444.4 L247.6,442.85 L248.84,438.17 L249.93,431.94 L251.02,425.71 L251.96,421.04 L252.89,414.81 L253.83,410.45 L254.45,408.58 L255.07,414.03 L255.7,420.26 L256.32,425.71 L256.94,431.94 L257.72,439.73 L258.5,445.96 L259.43,450.63 L260.14,451.62 L260.84,452.97 L261.62,453.47 L262.39,453.41 L263.17,454.06" fill="none" stroke="#9c9c9c" stroke-width="1.8" stroke-linejoin="round"/><path d="M319.04,454.5 L319.04,454.37 L319.82,453.97 L320.6,453.93 L321.38,453.44 L322.15,453 L322.93,451.88 L323.71,450.51 L324.49,449.08 L325.58,444.4 L326.52,438.17 L327.45,430.38 L328.38,422.6 L329.16,414.81 L329.94,408.27 L330.57,402.35 L331.19,407.02 L331.81,414.81 L332.43,422.6 L333.06,430.38 L333.84,438.17 L334.62,444.4 L335.55,449.08 L336.64,452.19 L337.34,453.36 L338.04,453.75 L339.05,454.27 L340.07,454.37 L340.07,454.5 Z" fill="#000" stroke="#000" stroke-width="0.6" stroke-linejoin="round"/><path d="M312.03,454.22 L312.81,454.15 L313.59,454.08 L314.37,454.13 L315.14,453.75 L315.92,453.52 L316.7,451.58 L317.48,451.88 L318.42,449.43 L319.35,448.3 L320.13,444.68 L320.91,442.85 L322.15,438.17 L323.4,433.5 L324.49,428.83 L325.58,424.15 L326.52,419.48 L327.14,418.7 L327.76,424.15 L328.38,430.38 L329.16,436.62 L329.94,442.85 L330.88,448.3 L332.12,451.88 L332.98,453.38 L333.84,453.75 L334.62,453.84 L335.39,454.34 L336.17,454.22" fill="none" stroke="#9c9c9c" stroke-width="1.8" stroke-linejoin="round"/><path d="M389.48,454.5 L389.48,454.37 L390.26,454.1 L391.04,454.14 L391.82,453.94 L392.6,453.75 L393.38,454.43 L394.15,452.73 L394.93,452.97 L395.71,452.47 L396.49,452.2 L397.27,452.19 L398.05,451.98 L398.83,452.73 L399.61,451.41 L400.38,451.6 L401.16,450.93 L401.94,450.63 L402.88,448.99 L403.81,448.3 L404.59,446.66 L405.37,444.4 L406.62,438.17 L407.55,430.38 L408.48,422.6 L409.42,414.81 L410.2,408.58 L410.82,407.8 L411.44,411.69 L412.22,417.92 L413.16,425.71 L414.09,431.94 L415.18,436.62 L416.27,441.29 L417.52,446.74 L418.77,450.63 L420.01,452.97 L420.95,454.11 L421.88,454.06 L422.76,453.84 L423.65,454.38 L424.53,454.37 L424.53,454.5 Z" fill="#000" stroke="#000" stroke-width="0.6" stroke-linejoin="round"/><path d="M384.03,454.22 L384.81,453.69 L385.59,453.83 L386.37,453.94 L387.14,453.75 L388.16,452.32 L389.17,451.88 L389.95,450.4 L390.73,448.3 L391.51,447.17 L392.28,442.85 L393.06,440.31 L393.84,436.62 L395.09,430.38 L396.18,422.6 L397.27,416.37 L398.2,410.13 L398.83,409.36 L399.45,414.81 L400.07,422.6 L400.85,430.38 L401.63,436.62 L402.57,442.85 L403.5,447.52 L404.75,451.41 L405.52,452.66 L406.3,453.75 L407.19,454.24 L408.07,454.08 L408.95,454.22" fill="none" stroke="#9c9c9c" stroke-width="1.8" stroke-linejoin="round"/><path d="M461.7,454.5 L461.7,454.37 L462.48,454.16 L463.26,454.14 L464.04,453.75 L464.82,452.49 L465.6,450.95 L466.53,449.3 L467.47,447.52 L468.4,445.14 L469.33,443.16 L470.58,438.17 L471.83,433.5 L472.76,423.84 L473.38,414.81 L474.01,407.02 L474.94,403.9 L475.88,401.72 L476.81,403.59 L477.75,405.46 L478.52,406.71 L478.99,414.18 L479.93,423.84 L481.17,433.5 L482.11,443.16 L483.04,448.3 L483.82,450.79 L485.07,452.97 L486,453.68 L486.94,454.37 L486.94,454.5 Z" fill="#000" stroke="#000" stroke-width="0.6" stroke-linejoin="round"/><path d="M457.03,454.22 L457.81,454.24 L458.59,454.02 L459.37,453.91 L460.14,453.75 L461.16,452.59 L462.17,452.19 L462.95,450.64 L463.73,449.08 L464.51,446.12 L465.28,444.4 L466.53,438.17 L467.78,431.94 L468.71,425.71 L469.65,419.48 L470.58,413.25 L471.52,408.58 L472.45,407.02 L473.07,410.13 L473.7,416.37 L474.32,424.15 L474.94,431.94 L475.72,439.73 L476.5,445.96 L477.43,450.63 L478.14,452.23 L478.84,453.44 L479.62,453.38 L480.39,453.79 L481.17,454.22" fill="none" stroke="#9c9c9c" stroke-width="1.8" stroke-linejoin="round"/><path d="M117.39,535.4 L117.39,535.4 L118.48,534.19 L119.42,531.08 L120.35,524.85 L121.13,515.5 L121.91,503.04 L122.53,492.13 L123.16,485.12 L123.78,492.13 L124.4,506.15 L125.18,518.62 L125.96,526.4 L126.9,531.08 L127.83,534.19 L129.08,535.4 L129.08,535.4 Z" fill="#000" stroke="#000" stroke-width="0.6" stroke-linejoin="round"/><path d="M92.78,531.08 L94.03,529.52 L94.81,528.11 L95.59,526.4 L96.37,524.33 L97.14,522.51 L98.39,520.17 L99.17,519.39 L100.26,521.73 L101.35,524.85 L102.6,528.74 L103.38,530.13 L104.15,531.86 L105.09,532.16 L106.02,533.88 L106.85,534.54 L107.68,534.53 L108.52,534.97 L109.37,535.19 L110.23,535.4 L111.09,535.2 L111.94,535.4 L112.72,535.4 L113.5,535.4 L114.28,535.29 L115.06,535.1 L115.84,535.4 L116.62,535.4" fill="none" stroke="#9c9c9c" stroke-width="2.0" stroke-linejoin="round"/><path d="M165.4,534.6 L165.4,534.6 L166.13,534.53 L166.86,534.37 L167.59,533.88 L168.37,533.67 L169.14,532.81 L169.92,532.63 L170.86,531.44 L171.79,530.3 L172.57,528.67 L173.35,526.4 L174.13,524.02 L174.91,521.73 L176.15,517.06 L177.24,510.83 L178.18,503.04 L178.96,495.25 L179.74,487.46 L180.52,481.23 L181.14,478.12 L181.76,481.23 L182.38,487.46 L183.16,495.25 L183.94,503.04 L184.88,510.83 L185.81,517.06 L187.06,523.29 L188.3,527.96 L189.08,530.04 L189.86,531.39 L190.8,532.57 L191.73,533.41 L192.51,533.86 L193.29,534.3 L194.07,534.35 L194.85,534.49 L195.62,534.58 L196.4,534.3 L197.18,534.36 L197.96,534.6 L197.96,534.6 Z" fill="#000" stroke="#000" stroke-width="0.6" stroke-linejoin="round"/><path d="M165.4,519.39 L166.03,517.06 L166.81,513.94 L168.05,510.05 L169.14,506.93 L170.23,504.6 L171.48,502.26 L172.26,496.03 L173.04,503.04 L173.97,506.15 L174.91,510.83 L175.84,515.5 L176.93,520.17 L178.02,524.85 L179.27,528.74 L180.05,530.11 L180.83,531.86 L181.61,532.65 L182.38,532.12 L183.16,533.41 L183.94,533.46 L184.72,533.79 L185.5,534.45 L186.28,534.19 L187.06,534.22 L187.84,534.56 L188.62,534.11 L189.39,534.6 L190.17,534.6" fill="none" stroke="#9c9c9c" stroke-width="2.0" stroke-linejoin="round"/><path d="M259.28,533.7 L259.28,533.7 L260.37,532.63 L261.3,527.96 L262.24,518.62 L263.17,506.15 L263.95,493.69 L264.73,484.35 L265.51,487.46 L266.29,498.37 L267.22,509.27 L268.16,518.62 L269.09,524.85 L270.18,528.74 L271.27,531.39 L272.52,532.95 L273.45,533.3 L274.39,533.7 L275.09,533.7 L275.79,533.52 L276.49,533.7 L277.19,533.7 L277.19,533.7 Z" fill="#000" stroke="#000" stroke-width="0.6" stroke-linejoin="round"/><path d="M238,528.74 L239.03,526.4 L239.81,522.96 L240.59,521.73 L241.37,519.29 L242.14,517.84 L242.92,516.5 L243.7,514.72 L244.79,513.94 L245.73,515.5 L246.82,519.39 L247.91,523.29 L249.15,527.18 L249.93,528.5 L250.71,529.83 L251.65,530.98 L252.58,531.39 L253.59,531.34 L254.61,532.63 L255.38,533.38 L256.16,533.57 L256.94,533.41 L257.72,533.48 L258.5,533.68 L259.28,533.64 L260.06,533.7" fill="none" stroke="#9c9c9c" stroke-width="2.0" stroke-linejoin="round"/><path d="M310.94,532.9 L310.94,526.4 L311.72,524.07 L312.81,520.17 L314.05,514.72 L315.14,509.27 L316.39,503.04 L317.48,497.59 L318.42,492.13 L319.35,487.46 L320.28,484.35 L320.91,482.01 L321.53,484.35 L322.15,489.02 L322.93,493.69 L323.71,499.92 L324.65,506.15 L325.58,512.38 L326.52,517.06 L327.61,520.95 L328.7,524.07 L329.94,527.18 L330.72,528.7 L331.5,529.83 L332.43,530.58 L333.37,531.86 L334.38,532.54 L335.39,532.9 L336.17,532.85 L336.95,532.9 L337.73,532.9 L338.51,532.9 L339.29,532.9 L340.07,532.7 L340.85,532.9 L340.85,532.9 Z" fill="#000" stroke="#000" stroke-width="0.6" stroke-linejoin="round"/><path d="M310.94,520.95 L311.72,518.62 L312.81,516.28 L314.05,512.38 L315.14,508.49 L316.23,504.6 L317.17,501.48 L317.95,499.14 L318.57,497.59 L319.35,501.48 L320.13,506.15 L320.91,510.83 L321.69,515.5 L322.62,520.17 L323.71,524.07 L324.49,526.7 L325.27,527.18 L326.2,529 L327.14,529.21 L328.15,530.04 L329.16,530.77 L329.94,531.06 L330.72,531.15 L331.5,531.86 L332.28,531.87 L333.06,532.03 L333.84,532.22 L334.62,532.63 L335.39,532.49 L336.17,532.9 L336.95,532.83 L337.73,532.9" fill="none" stroke="#9c9c9c" stroke-width="2.0" stroke-linejoin="round"/><path d="M403.81,532.9 L403.81,532.9 L404.75,531.08 L405.68,526.4 L406.62,517.06 L407.55,504.6 L408.33,495.25 L408.95,487.46 L409.42,481.23 L410.04,486.68 L410.67,494.47 L411.6,503.04 L412.53,512.38 L413.62,520.17 L414.72,525.62 L415.96,529.52 L417.21,532.32 L417.99,532.9 L418.77,532.9 L418.77,532.9 Z" fill="#000" stroke="#000" stroke-width="0.6" stroke-linejoin="round"/><path d="M383.41,524.85 L384.11,521.69 L384.81,521.73 L385.59,517.79 L386.37,517.06 L387.14,515.8 L387.92,512.38 L389.17,508.49 L390.26,506.15 L391.04,504.6 L391.82,506.93 L392.6,510.83 L393.53,516.28 L394.47,520.95 L395.71,525.62 L396.49,527.37 L397.27,528.74 L398.05,529.24 L398.83,529.58 L399.61,530.77 L400.38,530.47 L401.16,531.61 L401.94,531.86 L402.72,531.98 L403.5,532.2 L404.28,532.68 L405.06,532.9" fill="none" stroke="#9c9c9c" stroke-width="2.0" stroke-linejoin="round"/><path d="M457.81,532.7 L457.81,532.7 L458.59,532.7 L459.37,532.53 L460.14,532.32 L460.92,531.49 L461.7,531.08 L462.48,529.52 L463.26,528.74 L464.04,526.57 L464.82,524.85 L466.06,520.17 L467.15,513.94 L468.09,507.71 L469.02,501.48 L469.96,495.25 L470.89,490.58 L471.67,488.24 L472.45,491.36 L473.38,493.69 L474.32,496.03 L475.25,499.92 L476.19,506.15 L477.12,512.38 L478.06,518.62 L478.99,523.29 L479.93,527.18 L480.86,529.83 L482.11,531.86 L482.83,532.48 L483.56,532.39 L484.29,532.7 L485.07,532.7 L485.85,532.56 L486.62,532.59 L487.4,532.7 L487.4,532.7 Z" fill="#000" stroke="#000" stroke-width="0.6" stroke-linejoin="round"/><path d="M456.72,521.73 L457.81,518.62 L459.05,514.72 L460.14,510.83 L461.23,507.71 L462.17,504.6 L463.1,501.48 L463.73,499.14 L464.51,502.26 L465.28,506.15 L466.06,510.83 L467,515.5 L468.09,520.17 L469.33,524.07 L470.11,526.12 L470.89,527.18 L471.83,528.84 L472.76,529.52 L473.49,530.18 L474.22,529.77 L474.94,531.08 L475.72,531.08 L476.5,532.07 L477.28,531.7 L478.06,532.32 L478.84,532.16 L479.62,532.7 L480.39,532.7 L481.17,532.7" fill="none" stroke="#9c9c9c" stroke-width="2.0" stroke-linejoin="round"/><path d="M114.28,616 L114.28,615.75 L115.06,615.42 L115.84,614.97 L116.93,612.63 L117.86,607.96 L118.48,601.73 L119.11,593.94 L119.73,586.15 L120.35,576.81 L120.98,564.35 L121.44,558.89 L122.07,565.9 L122.53,573.69 L123.16,579.92 L123.78,586.15 L124.4,593.94 L125.18,601.73 L125.96,607.96 L126.9,611.86 L127.83,614.19 L129.08,615.44 L129.86,616 L130.63,616 L131.41,615.75 L131.41,616 Z" fill="#000" stroke="#000" stroke-width="0.6" stroke-linejoin="round"/><path d="M92.94,614.97 L94.03,609.52 L94.81,606.4 L95.59,611.08 L96.37,607.96 L97.14,606.4 L97.92,608.74 L98.7,604.85 L99.48,600.17 L100.26,597.06 L101.04,593.94 L101.82,589.27 L102.6,587.71 L103.38,590.83 L104.15,595.5 L104.93,593.94 L105.71,600.17 L106.49,603.29 L107.27,606.4 L108.05,609.52 L109.14,611.08 L110.38,612.95 L111.16,612.65 L111.94,614.19 L112.72,613.89 L113.5,615.63 L114.28,615.13 L115.06,615.37 L115.84,614.95 L116.62,615.44" fill="none" stroke="#9c9c9c" stroke-width="1.8" stroke-linejoin="round"/><path d="M165.4,616 L165.4,615.44 L166.18,613.3 L166.96,612.01 L167.7,609.17 L168.44,608.58 L169.18,608.51 L169.92,607.03 L170.94,606.6 L171.95,602.98 L172.73,598.19 L173.51,595.03 L174.44,585.06 L175.53,579.92 L176.47,578.05 L177.4,576.03 L178.49,574 L179.43,572.45 L180.52,576.03 L181.14,585.06 L181.92,595.03 L183.01,602.04 L183.71,606.13 L184.41,607.03 L185.19,608.2 L185.97,611.08 L186.98,613.24 L187.99,613.57 L188.73,613.31 L189.47,613.38 L190.21,615.11 L190.95,615.44 L191.73,615.17 L192.51,615.84 L193.29,615.91 L193.29,616 Z" fill="#000" stroke="#000" stroke-width="0.6" stroke-linejoin="round"/><path d="M165.4,614.04 L166.18,609.39 L166.96,605.94 L167.98,602.85 L168.99,602.04 L169.77,599.53 L170.55,597.99 L171.25,593.43 L171.95,592.07 L173.04,585.06 L173.97,579.92 L175.06,578.05 L176,569.95 L176.78,567.11 L177.56,566.06 L178.49,574.94 L179.43,585.06 L180.52,592.07 L181.45,597.99 L182.23,599.43 L183.01,604.07 L184.02,604.96 L185.03,609.05 L185.77,610.72 L186.51,610.77 L187.25,610.37 L187.99,612.95 L188.8,612.97 L189.61,613.8 L190.42,613.12 L191.23,616 L192.04,614.97" fill="none" stroke="#9c9c9c" stroke-width="1.8" stroke-linejoin="round"/><path d="M253.52,616 L253.52,615.75 L254.76,613.41 L255.54,608.74 L256.01,601.73 L256.48,595.03 L257.25,587.71 L258.19,581.48 L259.12,576.81 L260.06,573.69 L260.99,571.82 L261.62,570.58 L262.39,572.13 L263.17,576.03 L264.11,579.92 L265.04,581.79 L265.82,586.15 L266.44,591.61 L267.07,595.81 L267.69,601.73 L268.31,607.96 L269.25,612.63 L270.34,614.97 L271.12,615.49 L271.9,615.75 L271.9,616 Z" fill="#000" stroke="#000" stroke-width="0.6" stroke-linejoin="round"/><path d="M238.72,614.19 L239.81,609.52 L240.59,605.62 L241.37,609.52 L242.14,608.74 L242.92,609.52 L243.7,606.4 L244.48,601.73 L245.26,598.62 L246.04,593.94 L246.82,589.27 L247.6,586.93 L248.38,590.83 L249.15,593.94 L249.93,593.16 L250.71,598.62 L251.49,604.85 L252.27,608.74 L253.52,611.08 L254.76,612.63 L255.46,612.33 L256.16,613.88 L256.94,614.06 L257.72,614.66 L258.5,614.36 L259.28,614.88 L260.06,615.13" fill="none" stroke="#9c9c9c" stroke-width="1.8" stroke-linejoin="round"/><path d="M316.7,616 L316.7,615.44 L317.48,615.47 L318.26,614.19 L319.04,613.34 L319.82,611.86 L321.06,609.52 L321.84,606.4 L322.62,604.85 L323.4,604.85 L324.18,600.17 L324.96,595.5 L325.74,589.27 L326.52,586.15 L327.29,581.48 L328.07,578.37 L328.7,575.25 L329.16,573.69 L329.79,578.37 L330.41,584.6 L331.19,590.83 L331.97,595.5 L332.75,600.17 L333.68,604.85 L334.62,608.74 L335.86,611.86 L337.11,613.88 L337.81,613.91 L338.51,615.13 L339.29,614.83 L340.07,616 L340.85,615.59 L340.85,616 Z" fill="#000" stroke="#000" stroke-width="0.6" stroke-linejoin="round"/><path d="M311.25,614.19 L312.34,609.52 L313.12,605.62 L313.9,610.3 L314.68,608.74 L315.61,609.52 L316.39,606.4 L317.17,601.73 L317.95,598.62 L318.73,595.5 L319.51,590.83 L320.28,587.71 L320.91,590.05 L321.53,592.38 L322.15,595.5 L322.93,600.17 L323.71,604.85 L324.49,608.74 L325.58,611.08 L326.83,612.95 L327.61,613.9 L328.38,614.19 L329.16,613.89 L329.94,614.87 L330.72,614.97 L331.5,614.67 L332.28,614.95 L333.06,615.44" fill="none" stroke="#9c9c9c" stroke-width="1.8" stroke-linejoin="round"/><path d="M400.38,616 L400.38,615.59 L401.32,613.41 L402.25,608.74 L403.03,601.73 L403.81,593.94 L404.43,586.15 L405.06,578.37 L405.68,570.58 L406.3,563.57 L406.62,561.23 L407.08,565.9 L407.55,572.13 L408.17,579.92 L408.8,587.71 L409.42,595.5 L410.04,601.73 L410.67,607.18 L411.29,611.08 L412.07,613.88 L413.16,615.28 L413.94,615.6 L414.72,615.59 L414.72,616 Z" fill="#000" stroke="#000" stroke-width="0.6" stroke-linejoin="round"/><path d="M384.03,612.63 L385.12,614.19 L386.05,611.08 L387.14,607.18 L387.92,601.73 L388.7,600.17 L389.48,601.73 L390.26,598.62 L391.04,593.94 L391.82,590.83 L392.6,586.15 L393.22,576.81 L393.84,583.04 L394.47,590.83 L395.24,595.5 L396.02,600.17 L396.96,604.85 L398.05,608.74 L399.14,611.86 L400.38,613.88 L401.16,613.84 L401.94,614.97 L402.72,614.77 L403.5,614.72 L404.28,615.44" fill="none" stroke="#9c9c9c" stroke-width="1.8" stroke-linejoin="round"/><path d="M467.15,616 L467.15,615.59 L467.93,616 L468.71,614.97 L469.49,613.47 L470.27,613.41 L471.52,610.3 L472.61,608.74 L473.38,604.85 L474.16,598.62 L474.94,590.83 L475.57,584.6 L476.19,580.7 L476.81,578.37 L477.43,580.7 L478.06,584.6 L478.68,589.27 L479.3,595.5 L479.93,601.73 L480.55,607.18 L481.48,611.08 L482.73,613.41 L483.51,614.28 L484.29,614.66 L485.07,614.69 L485.85,615.03 L486.62,615.28 L487.4,615.23 L488.18,615.9 L488.96,615.59 L488.96,616 Z" fill="#000" stroke="#000" stroke-width="0.6" stroke-linejoin="round"/><path d="M457.03,614.97 L458.12,609.52 L458.9,605.62 L459.68,610.3 L460.46,608.74 L461.39,609.52 L462.17,606.4 L462.95,601.73 L463.73,598.62 L464.51,593.94 L465.28,590.05 L466.06,587.71 L466.84,590.83 L467.62,593.94 L468.4,598.62 L469.18,603.29 L469.96,607.96 L470.89,610.3 L472.14,611.39 L473.38,612.95 L474.16,613.18 L474.94,614.19 L475.72,613.93 L476.5,613.89 L477.28,615.13 L478.06,614.83 L478.84,615.95 L479.62,615.12 L480.39,615.3 L481.17,615.59" fill="none" stroke="#9c9c9c" stroke-width="1.8" stroke-linejoin="round"/><path d="M110.38,699.6 L110.38,699.37 L111.16,698.93 L111.94,699.08 L112.72,698.45 L113.5,698.75 L114.28,698.32 L115.06,699 L115.84,699.04 L116.62,698.44 L117.39,698.53 L118.17,697.8 L118.95,697.97 L119.73,697.2 L120.51,696.88 L121.29,695.51 L122.07,695.63 L123.16,693.3 L124.09,690.18 L125.18,684.73 L126.27,676.94 L127.21,669.15 L128.14,661.37 L129.08,655.13 L130.01,652.02 L130.63,650.46 L131.26,655.13 L131.88,664.48 L132.5,676.94 L133.13,687.85 L133.75,694.86 L134.53,698.44 L135.31,699.37 L135.31,699.6 Z" fill="#000" stroke="#000" stroke-width="0.6" stroke-linejoin="round"/><path d="M92.78,689.4 L93.56,690.96 L94.5,689.4 L95.59,686.29 L96.68,683.17 L97.61,680.84 L98.39,678.5 L99.17,675.38 L99.79,672.27 L100.42,670.71 L101.04,673.83 L101.82,676.16 L102.6,678.5 L103.38,681.62 L104.15,684.73 L104.93,689.4 L105.71,693.3 L106.65,696.41 L107.58,698.44 L108.83,699.22" fill="none" stroke="#9c9c9c" stroke-width="2.0" stroke-linejoin="round"/><path d="M166.03,699.6 L166.03,699.22 L166.81,699.31 L167.59,698.83 L168.37,698.44 L169.14,697.54 L169.92,697.39 L170.7,696.88 L171.71,695.46 L172.73,694.08 L173.51,692.02 L174.28,690.96 L175.38,687.85 L176.15,684.73 L176.93,680.06 L177.71,673.83 L178.49,667.6 L179.27,662.92 L179.89,659.81 L180.52,658.25 L181.14,662.14 L181.76,669.15 L182.38,676.94 L183.16,684.73 L183.94,690.96 L184.88,694.86 L186.12,697.19 L186.98,697.9 L187.84,698.44 L188.62,698.57 L189.39,699.01 L190.17,699.36 L190.95,699.22 L190.95,699.6 Z" fill="#000" stroke="#000" stroke-width="0.6" stroke-linejoin="round"/><path d="M165.4,697.97 L166.34,694.08 L167.28,690.18 L168.37,686.29 L169.61,683.17 L170.7,681.62 L171.79,680.06 L173.04,678.81 L173.97,679.28 L174.91,680.84 L175.69,683.17 L176.47,686.29 L177.4,689.4 L178.33,692.52 L179.27,694.86 L180.52,696.41 L181.45,697.03 L182.38,697.97 L183.16,698.11 L183.94,698.24 L184.72,698.75 L185.5,698.85 L186.28,698.97 L187.06,699.42 L187.84,699.22" fill="none" stroke="#9c9c9c" stroke-width="2.0" stroke-linejoin="round"/><path d="M238.41,699.6 L238.41,698.91 L239.12,697.71 L239.84,697.51 L240.56,696.4 L241.27,696.83 L241.99,695.63 L242.87,694.3 L243.75,693.92 L244.64,693.14 L245.47,692.01 L246.3,692.56 L247.13,690.49 L247.86,687.44 L248.58,688.6 L249.31,686.13 L250.4,685.51 L251.49,683.95 L251.96,681.77 L252.58,675.38 L253.2,668.69 L253.9,669.19 L254.61,667.91 L255.85,665.26 L256.63,664.72 L257.41,662.61 L258.19,662.73 L258.97,666.04 L260.21,671.33 L260.91,673.6 L261.62,678.34 L262.86,685.35 L263.72,687.76 L264.57,692.36 L265.43,694.73 L266.29,696.57 L267.15,697.5 L268,698.44 L268.78,698.93 L269.56,698.81 L270.34,698.69 L271.12,699.17 L271.9,699.37 L271.9,699.6 Z" fill="#000" stroke="#000" stroke-width="0.6" stroke-linejoin="round"/><path d="M238,688.16 L238.87,687.07 L239.76,683.43 L240.64,679.54 L241.52,676.63 L242.25,674.43 L242.97,672.42 L243.7,667.91 L244.64,661.37 L245.42,656.54 L246.19,659.81 L247.13,662.61 L247.99,667.25 L248.84,668.69 L250.09,674.76 L251.02,681.77 L252.27,687.85 L253.2,692.36 L254.06,694.15 L254.92,697.19 L255.93,697.54 L256.94,698.44 L257.72,698.86 L258.5,699.45 L259.28,699.06" fill="none" stroke="#9c9c9c" stroke-width="2.0" stroke-linejoin="round"/><path d="M310.94,699.6 L310.94,690.96 L312.03,689.4 L313.12,687.07 L314.37,684.73 L315.46,682.39 L316.39,680.06 L317.48,676.94 L318.42,673.83 L319.04,672.27 L319.82,674.61 L320.6,675.38 L321.53,678.5 L322.47,682.39 L323.4,686.29 L324.33,690.18 L325.27,694.08 L326.2,696.88 L326.9,697.82 L327.61,698.44 L328.38,698.74 L329.16,698.64 L329.94,699.22 L329.94,699.6 Z" fill="#000" stroke="#000" stroke-width="0.6" stroke-linejoin="round"/><path d="M310.94,683.95 L311.72,684.73 L312.5,683.17 L313.27,681.62 L314.37,679.28 L315.46,676.16 L316.39,672.27 L317.17,667.6 L317.95,662.92 L318.57,656.69 L319.35,661.37 L320.13,662.92 L320.91,666.04 L321.69,670.71 L322.62,676.94 L323.4,683.17 L324.18,687.85 L324.96,691.74 L325.89,694.86 L327.14,696.88 L328.15,697.84 L329.16,697.97 L329.94,698.14 L330.72,698.93 L331.5,698.77 L332.28,698.75 L333.06,698.61 L333.84,699.09 L334.62,699.05 L335.39,698.58 L336.17,699.14 L336.95,699.34 L337.73,699.22" fill="none" stroke="#9c9c9c" stroke-width="2.0" stroke-linejoin="round"/><path d="M390.26,699.6 L390.26,699.22 L391.04,699.05 L391.82,698.44 L392.6,698.18 L393.38,698.4 L394.15,697.97 L394.93,697.91 L395.71,697.45 L396.49,697.66 L397.5,697.11 L398.52,696.88 L399.45,695.85 L400.38,695.63 L401.32,694.72 L402.25,694.39 L403.27,693.92 L404.28,692.83 L405.06,691.25 L405.84,690.96 L407.08,686.29 L408.17,676.94 L409.11,666.04 L409.89,655.13 L410.51,647.35 L411.13,652.02 L411.76,661.37 L412.53,672.27 L413.31,681.62 L414.09,689.4 L415.03,694.86 L415.96,697.97 L416.74,698.07 L417.52,699.22 L417.52,699.6 Z" fill="#000" stroke="#000" stroke-width="0.6" stroke-linejoin="round"/><path d="M383.72,697.19 L384.81,694.08 L386.05,690.18 L387.14,687.07 L388.23,684.73 L389.48,682.39 L390.73,680.84 L391.82,679.28 L392.91,678.19 L393.84,677.72 L394.62,680.06 L395.4,683.17 L396.18,687.07 L396.96,690.96 L397.74,694.08 L398.83,696.41 L399.61,697.53 L400.38,697.97 L401.16,698.29 L401.94,697.77 L402.72,698.75 L403.5,698.92 L404.28,698.98 L405.06,699.2 L405.84,699.22" fill="none" stroke="#9c9c9c" stroke-width="2.0" stroke-linejoin="round"/><path d="M467.15,699.6 L467.15,699.22 L467.93,699.04 L468.71,699.02 L469.49,698.75 L470.5,697.67 L471.52,697.97 L472.45,698.59 L473.38,696.41 L474.63,694.08 L475.72,690.18 L476.81,684.73 L477.75,676.94 L478.68,669.15 L479.62,661.37 L480.24,656.69 L480.86,661.37 L481.48,670.71 L482.11,680.06 L482.73,687.85 L483.51,693.3 L484.29,696.88 L485.53,698.75 L486.47,699.15 L487.4,699.22 L487.4,699.6 Z" fill="#000" stroke="#000" stroke-width="0.6" stroke-linejoin="round"/><path d="M456.72,694.08 L457.81,692.52 L459.05,690.18 L460.14,687.85 L461.23,685.51 L462.48,683.17 L463.42,680.84 L464.35,678.81 L465.28,681.62 L466.22,684.73 L467.15,687.85 L468.09,690.96 L469.02,694.08 L470.27,696.41 L471.05,697.58 L471.83,697.97 L472.61,698.11 L473.38,698.46 L474.16,698.75 L474.94,698.65 L475.72,698.94 L476.5,699.43 L477.28,699.22" fill="none" stroke="#9c9c9c" stroke-width="2.0" stroke-linejoin="round"/></g>
<g stroke="#3a3a3a" stroke-width="1"><line x1="92.75" y1="17.4" x2="92.75" y2="77.5" stroke="#555"/><line x1="89.25" y1="74.5" x2="150.05" y2="74.5"/><line x1="89.25" y1="17.4" x2="92.75" y2="17.4"/><line x1="89.25" y1="31.67" x2="92.75" y2="31.67"/><line x1="89.25" y1="45.95" x2="92.75" y2="45.95"/><line x1="89.25" y1="60.23" x2="92.75" y2="60.23"/><line x1="89.25" y1="74.5" x2="92.75" y2="74.5"/><line x1="92.75" y1="74.5" x2="92.75" y2="77.5"/><line x1="97.02" y1="74.5" x2="97.02" y2="76.8" stroke-width="0.95"/><line x1="99.53" y1="74.5" x2="99.53" y2="76.8" stroke-width="0.95"/><line x1="101.3" y1="74.5" x2="101.3" y2="76.8" stroke-width="0.95"/><line x1="102.68" y1="74.5" x2="102.68" y2="76.8" stroke-width="0.95"/><line x1="103.8" y1="74.5" x2="103.8" y2="76.8" stroke-width="0.95"/><line x1="104.75" y1="74.5" x2="104.75" y2="76.8" stroke-width="0.95"/><line x1="105.57" y1="74.5" x2="105.57" y2="76.8" stroke-width="0.95"/><line x1="106.3" y1="74.5" x2="106.3" y2="76.8" stroke-width="0.95"/><line x1="106.95" y1="74.5" x2="106.95" y2="77.5"/><line x1="111.22" y1="74.5" x2="111.22" y2="76.8" stroke-width="0.95"/><line x1="113.73" y1="74.5" x2="113.73" y2="76.8" stroke-width="0.95"/><line x1="115.5" y1="74.5" x2="115.5" y2="76.8" stroke-width="0.95"/><line x1="116.88" y1="74.5" x2="116.88" y2="76.8" stroke-width="0.95"/><line x1="118" y1="74.5" x2="118" y2="76.8" stroke-width="0.95"/><line x1="118.95" y1="74.5" x2="118.95" y2="76.8" stroke-width="0.95"/><line x1="119.77" y1="74.5" x2="119.77" y2="76.8" stroke-width="0.95"/><line x1="120.5" y1="74.5" x2="120.5" y2="76.8" stroke-width="0.95"/><line x1="121.15" y1="74.5" x2="121.15" y2="77.5"/><line x1="125.42" y1="74.5" x2="125.42" y2="76.8" stroke-width="0.95"/><line x1="127.93" y1="74.5" x2="127.93" y2="76.8" stroke-width="0.95"/><line x1="129.7" y1="74.5" x2="129.7" y2="76.8" stroke-width="0.95"/><line x1="131.08" y1="74.5" x2="131.08" y2="76.8" stroke-width="0.95"/><line x1="132.2" y1="74.5" x2="132.2" y2="76.8" stroke-width="0.95"/><line x1="133.15" y1="74.5" x2="133.15" y2="76.8" stroke-width="0.95"/><line x1="133.97" y1="74.5" x2="133.97" y2="76.8" stroke-width="0.95"/><line x1="134.7" y1="74.5" x2="134.7" y2="76.8" stroke-width="0.95"/><line x1="135.35" y1="74.5" x2="135.35" y2="77.5"/><line x1="139.62" y1="74.5" x2="139.62" y2="76.8" stroke-width="0.95"/><line x1="142.13" y1="74.5" x2="142.13" y2="76.8" stroke-width="0.95"/><line x1="143.9" y1="74.5" x2="143.9" y2="76.8" stroke-width="0.95"/><line x1="145.28" y1="74.5" x2="145.28" y2="76.8" stroke-width="0.95"/><line x1="146.4" y1="74.5" x2="146.4" y2="76.8" stroke-width="0.95"/><line x1="147.35" y1="74.5" x2="147.35" y2="76.8" stroke-width="0.95"/><line x1="148.17" y1="74.5" x2="148.17" y2="76.8" stroke-width="0.95"/><line x1="148.9" y1="74.5" x2="148.9" y2="76.8" stroke-width="0.95"/><line x1="149.55" y1="74.5" x2="149.55" y2="77.5"/><line x1="165.4" y1="17.4" x2="165.4" y2="77.5" stroke="#555"/><line x1="161.9" y1="74.5" x2="222.7" y2="74.5"/><line x1="161.9" y1="17.4" x2="165.4" y2="17.4"/><line x1="161.9" y1="36.43" x2="165.4" y2="36.43"/><line x1="161.9" y1="55.47" x2="165.4" y2="55.47"/><line x1="161.9" y1="74.5" x2="165.4" y2="74.5"/><line x1="165.4" y1="74.5" x2="165.4" y2="77.5"/><line x1="169.67" y1="74.5" x2="169.67" y2="76.8" stroke-width="0.95"/><line x1="172.18" y1="74.5" x2="172.18" y2="76.8" stroke-width="0.95"/><line x1="173.95" y1="74.5" x2="173.95" y2="76.8" stroke-width="0.95"/><line x1="175.33" y1="74.5" x2="175.33" y2="76.8" stroke-width="0.95"/><line x1="176.45" y1="74.5" x2="176.45" y2="76.8" stroke-width="0.95"/><line x1="177.4" y1="74.5" x2="177.4" y2="76.8" stroke-width="0.95"/><line x1="178.22" y1="74.5" x2="178.22" y2="76.8" stroke-width="0.95"/><line x1="178.95" y1="74.5" x2="178.95" y2="76.8" stroke-width="0.95"/><line x1="179.6" y1="74.5" x2="179.6" y2="77.5"/><line x1="183.87" y1="74.5" x2="183.87" y2="76.8" stroke-width="0.95"/><line x1="186.38" y1="74.5" x2="186.38" y2="76.8" stroke-width="0.95"/><line x1="188.15" y1="74.5" x2="188.15" y2="76.8" stroke-width="0.95"/><line x1="189.53" y1="74.5" x2="189.53" y2="76.8" stroke-width="0.95"/><line x1="190.65" y1="74.5" x2="190.65" y2="76.8" stroke-width="0.95"/><line x1="191.6" y1="74.5" x2="191.6" y2="76.8" stroke-width="0.95"/><line x1="192.42" y1="74.5" x2="192.42" y2="76.8" stroke-width="0.95"/><line x1="193.15" y1="74.5" x2="193.15" y2="76.8" stroke-width="0.95"/><line x1="193.8" y1="74.5" x2="193.8" y2="77.5"/><line x1="198.07" y1="74.5" x2="198.07" y2="76.8" stroke-width="0.95"/><line x1="200.58" y1="74.5" x2="200.58" y2="76.8" stroke-width="0.95"/><line x1="202.35" y1="74.5" x2="202.35" y2="76.8" stroke-width="0.95"/><line x1="203.73" y1="74.5" x2="203.73" y2="76.8" stroke-width="0.95"/><line x1="204.85" y1="74.5" x2="204.85" y2="76.8" stroke-width="0.95"/><line x1="205.8" y1="74.5" x2="205.8" y2="76.8" stroke-width="0.95"/><line x1="206.62" y1="74.5" x2="206.62" y2="76.8" stroke-width="0.95"/><line x1="207.35" y1="74.5" x2="207.35" y2="76.8" stroke-width="0.95"/><line x1="208" y1="74.5" x2="208" y2="77.5"/><line x1="212.27" y1="74.5" x2="212.27" y2="76.8" stroke-width="0.95"/><line x1="214.78" y1="74.5" x2="214.78" y2="76.8" stroke-width="0.95"/><line x1="216.55" y1="74.5" x2="216.55" y2="76.8" stroke-width="0.95"/><line x1="217.93" y1="74.5" x2="217.93" y2="76.8" stroke-width="0.95"/><line x1="219.05" y1="74.5" x2="219.05" y2="76.8" stroke-width="0.95"/><line x1="220" y1="74.5" x2="220" y2="76.8" stroke-width="0.95"/><line x1="220.82" y1="74.5" x2="220.82" y2="76.8" stroke-width="0.95"/><line x1="221.55" y1="74.5" x2="221.55" y2="76.8" stroke-width="0.95"/><line x1="222.2" y1="74.5" x2="222.2" y2="77.5"/><line x1="238" y1="17.4" x2="238" y2="77.5" stroke="#555"/><line x1="234.5" y1="74.5" x2="295.3" y2="74.5"/><line x1="234.5" y1="17.4" x2="238" y2="17.4"/><line x1="234.5" y1="36.43" x2="238" y2="36.43"/><line x1="234.5" y1="55.47" x2="238" y2="55.47"/><line x1="234.5" y1="74.5" x2="238" y2="74.5"/><line x1="238" y1="74.5" x2="238" y2="77.5"/><line x1="242.27" y1="74.5" x2="242.27" y2="76.8" stroke-width="0.95"/><line x1="244.78" y1="74.5" x2="244.78" y2="76.8" stroke-width="0.95"/><line x1="246.55" y1="74.5" x2="246.55" y2="76.8" stroke-width="0.95"/><line x1="247.93" y1="74.5" x2="247.93" y2="76.8" stroke-width="0.95"/><line x1="249.05" y1="74.5" x2="249.05" y2="76.8" stroke-width="0.95"/><line x1="250" y1="74.5" x2="250" y2="76.8" stroke-width="0.95"/><line x1="250.82" y1="74.5" x2="250.82" y2="76.8" stroke-width="0.95"/><line x1="251.55" y1="74.5" x2="251.55" y2="76.8" stroke-width="0.95"/><line x1="252.2" y1="74.5" x2="252.2" y2="77.5"/><line x1="256.47" y1="74.5" x2="256.47" y2="76.8" stroke-width="0.95"/><line x1="258.98" y1="74.5" x2="258.98" y2="76.8" stroke-width="0.95"/><line x1="260.75" y1="74.5" x2="260.75" y2="76.8" stroke-width="0.95"/><line x1="262.13" y1="74.5" x2="262.13" y2="76.8" stroke-width="0.95"/><line x1="263.25" y1="74.5" x2="263.25" y2="76.8" stroke-width="0.95"/><line x1="264.2" y1="74.5" x2="264.2" y2="76.8" stroke-width="0.95"/><line x1="265.02" y1="74.5" x2="265.02" y2="76.8" stroke-width="0.95"/><line x1="265.75" y1="74.5" x2="265.75" y2="76.8" stroke-width="0.95"/><line x1="266.4" y1="74.5" x2="266.4" y2="77.5"/><line x1="270.67" y1="74.5" x2="270.67" y2="76.8" stroke-width="0.95"/><line x1="273.18" y1="74.5" x2="273.18" y2="76.8" stroke-width="0.95"/><line x1="274.95" y1="74.5" x2="274.95" y2="76.8" stroke-width="0.95"/><line x1="276.33" y1="74.5" x2="276.33" y2="76.8" stroke-width="0.95"/><line x1="277.45" y1="74.5" x2="277.45" y2="76.8" stroke-width="0.95"/><line x1="278.4" y1="74.5" x2="278.4" y2="76.8" stroke-width="0.95"/><line x1="279.22" y1="74.5" x2="279.22" y2="76.8" stroke-width="0.95"/><line x1="279.95" y1="74.5" x2="279.95" y2="76.8" stroke-width="0.95"/><line x1="280.6" y1="74.5" x2="280.6" y2="77.5"/><line x1="284.87" y1="74.5" x2="284.87" y2="76.8" stroke-width="0.95"/><line x1="287.38" y1="74.5" x2="287.38" y2="76.8" stroke-width="0.95"/><line x1="289.15" y1="74.5" x2="289.15" y2="76.8" stroke-width="0.95"/><line x1="290.53" y1="74.5" x2="290.53" y2="76.8" stroke-width="0.95"/><line x1="291.65" y1="74.5" x2="291.65" y2="76.8" stroke-width="0.95"/><line x1="292.6" y1="74.5" x2="292.6" y2="76.8" stroke-width="0.95"/><line x1="293.42" y1="74.5" x2="293.42" y2="76.8" stroke-width="0.95"/><line x1="294.15" y1="74.5" x2="294.15" y2="76.8" stroke-width="0.95"/><line x1="294.8" y1="74.5" x2="294.8" y2="77.5"/><line x1="310.8" y1="17.4" x2="310.8" y2="77.5" stroke="#555"/><line x1="307.3" y1="74.5" x2="368.1" y2="74.5"/><line x1="307.3" y1="17.4" x2="310.8" y2="17.4"/><line x1="307.3" y1="28.82" x2="310.8" y2="28.82"/><line x1="307.3" y1="40.24" x2="310.8" y2="40.24"/><line x1="307.3" y1="51.66" x2="310.8" y2="51.66"/><line x1="307.3" y1="63.08" x2="310.8" y2="63.08"/><line x1="307.3" y1="74.5" x2="310.8" y2="74.5"/><line x1="310.8" y1="74.5" x2="310.8" y2="77.5"/><line x1="315.07" y1="74.5" x2="315.07" y2="76.8" stroke-width="0.95"/><line x1="317.58" y1="74.5" x2="317.58" y2="76.8" stroke-width="0.95"/><line x1="319.35" y1="74.5" x2="319.35" y2="76.8" stroke-width="0.95"/><line x1="320.73" y1="74.5" x2="320.73" y2="76.8" stroke-width="0.95"/><line x1="321.85" y1="74.5" x2="321.85" y2="76.8" stroke-width="0.95"/><line x1="322.8" y1="74.5" x2="322.8" y2="76.8" stroke-width="0.95"/><line x1="323.62" y1="74.5" x2="323.62" y2="76.8" stroke-width="0.95"/><line x1="324.35" y1="74.5" x2="324.35" y2="76.8" stroke-width="0.95"/><line x1="325" y1="74.5" x2="325" y2="77.5"/><line x1="329.27" y1="74.5" x2="329.27" y2="76.8" stroke-width="0.95"/><line x1="331.78" y1="74.5" x2="331.78" y2="76.8" stroke-width="0.95"/><line x1="333.55" y1="74.5" x2="333.55" y2="76.8" stroke-width="0.95"/><line x1="334.93" y1="74.5" x2="334.93" y2="76.8" stroke-width="0.95"/><line x1="336.05" y1="74.5" x2="336.05" y2="76.8" stroke-width="0.95"/><line x1="337" y1="74.5" x2="337" y2="76.8" stroke-width="0.95"/><line x1="337.82" y1="74.5" x2="337.82" y2="76.8" stroke-width="0.95"/><line x1="338.55" y1="74.5" x2="338.55" y2="76.8" stroke-width="0.95"/><line x1="339.2" y1="74.5" x2="339.2" y2="77.5"/><line x1="343.47" y1="74.5" x2="343.47" y2="76.8" stroke-width="0.95"/><line x1="345.98" y1="74.5" x2="345.98" y2="76.8" stroke-width="0.95"/><line x1="347.75" y1="74.5" x2="347.75" y2="76.8" stroke-width="0.95"/><line x1="349.13" y1="74.5" x2="349.13" y2="76.8" stroke-width="0.95"/><line x1="350.25" y1="74.5" x2="350.25" y2="76.8" stroke-width="0.95"/><line x1="351.2" y1="74.5" x2="351.2" y2="76.8" stroke-width="0.95"/><line x1="352.02" y1="74.5" x2="352.02" y2="76.8" stroke-width="0.95"/><line x1="352.75" y1="74.5" x2="352.75" y2="76.8" stroke-width="0.95"/><line x1="353.4" y1="74.5" x2="353.4" y2="77.5"/><line x1="357.67" y1="74.5" x2="357.67" y2="76.8" stroke-width="0.95"/><line x1="360.18" y1="74.5" x2="360.18" y2="76.8" stroke-width="0.95"/><line x1="361.95" y1="74.5" x2="361.95" y2="76.8" stroke-width="0.95"/><line x1="363.33" y1="74.5" x2="363.33" y2="76.8" stroke-width="0.95"/><line x1="364.45" y1="74.5" x2="364.45" y2="76.8" stroke-width="0.95"/><line x1="365.4" y1="74.5" x2="365.4" y2="76.8" stroke-width="0.95"/><line x1="366.22" y1="74.5" x2="366.22" y2="76.8" stroke-width="0.95"/><line x1="366.95" y1="74.5" x2="366.95" y2="76.8" stroke-width="0.95"/><line x1="367.6" y1="74.5" x2="367.6" y2="77.5"/><line x1="383.3" y1="17.4" x2="383.3" y2="77.5" stroke="#555"/><line x1="379.8" y1="74.5" x2="440.6" y2="74.5"/><line x1="379.8" y1="17.4" x2="383.3" y2="17.4"/><line x1="379.8" y1="36.43" x2="383.3" y2="36.43"/><line x1="379.8" y1="55.47" x2="383.3" y2="55.47"/><line x1="379.8" y1="74.5" x2="383.3" y2="74.5"/><line x1="383.3" y1="74.5" x2="383.3" y2="77.5"/><line x1="387.57" y1="74.5" x2="387.57" y2="76.8" stroke-width="0.95"/><line x1="390.08" y1="74.5" x2="390.08" y2="76.8" stroke-width="0.95"/><line x1="391.85" y1="74.5" x2="391.85" y2="76.8" stroke-width="0.95"/><line x1="393.23" y1="74.5" x2="393.23" y2="76.8" stroke-width="0.95"/><line x1="394.35" y1="74.5" x2="394.35" y2="76.8" stroke-width="0.95"/><line x1="395.3" y1="74.5" x2="395.3" y2="76.8" stroke-width="0.95"/><line x1="396.12" y1="74.5" x2="396.12" y2="76.8" stroke-width="0.95"/><line x1="396.85" y1="74.5" x2="396.85" y2="76.8" stroke-width="0.95"/><line x1="397.5" y1="74.5" x2="397.5" y2="77.5"/><line x1="401.77" y1="74.5" x2="401.77" y2="76.8" stroke-width="0.95"/><line x1="404.28" y1="74.5" x2="404.28" y2="76.8" stroke-width="0.95"/><line x1="406.05" y1="74.5" x2="406.05" y2="76.8" stroke-width="0.95"/><line x1="407.43" y1="74.5" x2="407.43" y2="76.8" stroke-width="0.95"/><line x1="408.55" y1="74.5" x2="408.55" y2="76.8" stroke-width="0.95"/><line x1="409.5" y1="74.5" x2="409.5" y2="76.8" stroke-width="0.95"/><line x1="410.32" y1="74.5" x2="410.32" y2="76.8" stroke-width="0.95"/><line x1="411.05" y1="74.5" x2="411.05" y2="76.8" stroke-width="0.95"/><line x1="411.7" y1="74.5" x2="411.7" y2="77.5"/><line x1="415.97" y1="74.5" x2="415.97" y2="76.8" stroke-width="0.95"/><line x1="418.48" y1="74.5" x2="418.48" y2="76.8" stroke-width="0.95"/><line x1="420.25" y1="74.5" x2="420.25" y2="76.8" stroke-width="0.95"/><line x1="421.63" y1="74.5" x2="421.63" y2="76.8" stroke-width="0.95"/><line x1="422.75" y1="74.5" x2="422.75" y2="76.8" stroke-width="0.95"/><line x1="423.7" y1="74.5" x2="423.7" y2="76.8" stroke-width="0.95"/><line x1="424.52" y1="74.5" x2="424.52" y2="76.8" stroke-width="0.95"/><line x1="425.25" y1="74.5" x2="425.25" y2="76.8" stroke-width="0.95"/><line x1="425.9" y1="74.5" x2="425.9" y2="77.5"/><line x1="430.17" y1="74.5" x2="430.17" y2="76.8" stroke-width="0.95"/><line x1="432.68" y1="74.5" x2="432.68" y2="76.8" stroke-width="0.95"/><line x1="434.45" y1="74.5" x2="434.45" y2="76.8" stroke-width="0.95"/><line x1="435.83" y1="74.5" x2="435.83" y2="76.8" stroke-width="0.95"/><line x1="436.95" y1="74.5" x2="436.95" y2="76.8" stroke-width="0.95"/><line x1="437.9" y1="74.5" x2="437.9" y2="76.8" stroke-width="0.95"/><line x1="438.72" y1="74.5" x2="438.72" y2="76.8" stroke-width="0.95"/><line x1="439.45" y1="74.5" x2="439.45" y2="76.8" stroke-width="0.95"/><line x1="440.1" y1="74.5" x2="440.1" y2="77.5"/><line x1="456" y1="17.4" x2="456" y2="77.5" stroke="#555"/><line x1="452.5" y1="74.5" x2="513.3" y2="74.5"/><line x1="452.5" y1="17.4" x2="456" y2="17.4"/><line x1="452.5" y1="36.43" x2="456" y2="36.43"/><line x1="452.5" y1="55.47" x2="456" y2="55.47"/><line x1="452.5" y1="74.5" x2="456" y2="74.5"/><line x1="456" y1="74.5" x2="456" y2="77.5"/><line x1="460.27" y1="74.5" x2="460.27" y2="76.8" stroke-width="0.95"/><line x1="462.78" y1="74.5" x2="462.78" y2="76.8" stroke-width="0.95"/><line x1="464.55" y1="74.5" x2="464.55" y2="76.8" stroke-width="0.95"/><line x1="465.93" y1="74.5" x2="465.93" y2="76.8" stroke-width="0.95"/><line x1="467.05" y1="74.5" x2="467.05" y2="76.8" stroke-width="0.95"/><line x1="468" y1="74.5" x2="468" y2="76.8" stroke-width="0.95"/><line x1="468.82" y1="74.5" x2="468.82" y2="76.8" stroke-width="0.95"/><line x1="469.55" y1="74.5" x2="469.55" y2="76.8" stroke-width="0.95"/><line x1="470.2" y1="74.5" x2="470.2" y2="77.5"/><line x1="474.47" y1="74.5" x2="474.47" y2="76.8" stroke-width="0.95"/><line x1="476.98" y1="74.5" x2="476.98" y2="76.8" stroke-width="0.95"/><line x1="478.75" y1="74.5" x2="478.75" y2="76.8" stroke-width="0.95"/><line x1="480.13" y1="74.5" x2="480.13" y2="76.8" stroke-width="0.95"/><line x1="481.25" y1="74.5" x2="481.25" y2="76.8" stroke-width="0.95"/><line x1="482.2" y1="74.5" x2="482.2" y2="76.8" stroke-width="0.95"/><line x1="483.02" y1="74.5" x2="483.02" y2="76.8" stroke-width="0.95"/><line x1="483.75" y1="74.5" x2="483.75" y2="76.8" stroke-width="0.95"/><line x1="484.4" y1="74.5" x2="484.4" y2="77.5"/><line x1="488.67" y1="74.5" x2="488.67" y2="76.8" stroke-width="0.95"/><line x1="491.18" y1="74.5" x2="491.18" y2="76.8" stroke-width="0.95"/><line x1="492.95" y1="74.5" x2="492.95" y2="76.8" stroke-width="0.95"/><line x1="494.33" y1="74.5" x2="494.33" y2="76.8" stroke-width="0.95"/><line x1="495.45" y1="74.5" x2="495.45" y2="76.8" stroke-width="0.95"/><line x1="496.4" y1="74.5" x2="496.4" y2="76.8" stroke-width="0.95"/><line x1="497.22" y1="74.5" x2="497.22" y2="76.8" stroke-width="0.95"/><line x1="497.95" y1="74.5" x2="497.95" y2="76.8" stroke-width="0.95"/><line x1="498.6" y1="74.5" x2="498.6" y2="77.5"/><line x1="502.87" y1="74.5" x2="502.87" y2="76.8" stroke-width="0.95"/><line x1="505.38" y1="74.5" x2="505.38" y2="76.8" stroke-width="0.95"/><line x1="507.15" y1="74.5" x2="507.15" y2="76.8" stroke-width="0.95"/><line x1="508.53" y1="74.5" x2="508.53" y2="76.8" stroke-width="0.95"/><line x1="509.65" y1="74.5" x2="509.65" y2="76.8" stroke-width="0.95"/><line x1="510.6" y1="74.5" x2="510.6" y2="76.8" stroke-width="0.95"/><line x1="511.42" y1="74.5" x2="511.42" y2="76.8" stroke-width="0.95"/><line x1="512.15" y1="74.5" x2="512.15" y2="76.8" stroke-width="0.95"/><line x1="512.8" y1="74.5" x2="512.8" y2="77.5"/><line x1="92.75" y1="103.1" x2="92.75" y2="163.6" stroke="#555"/><line x1="89.25" y1="160.6" x2="150.05" y2="160.6"/><line x1="89.25" y1="103.1" x2="92.75" y2="103.1"/><line x1="89.25" y1="122.27" x2="92.75" y2="122.27"/><line x1="89.25" y1="141.43" x2="92.75" y2="141.43"/><line x1="89.25" y1="160.6" x2="92.75" y2="160.6"/><line x1="92.75" y1="160.6" x2="92.75" y2="163.6"/><line x1="97.02" y1="160.6" x2="97.02" y2="162.9" stroke-width="0.95"/><line x1="99.53" y1="160.6" x2="99.53" y2="162.9" stroke-width="0.95"/><line x1="101.3" y1="160.6" x2="101.3" y2="162.9" stroke-width="0.95"/><line x1="102.68" y1="160.6" x2="102.68" y2="162.9" stroke-width="0.95"/><line x1="103.8" y1="160.6" x2="103.8" y2="162.9" stroke-width="0.95"/><line x1="104.75" y1="160.6" x2="104.75" y2="162.9" stroke-width="0.95"/><line x1="105.57" y1="160.6" x2="105.57" y2="162.9" stroke-width="0.95"/><line x1="106.3" y1="160.6" x2="106.3" y2="162.9" stroke-width="0.95"/><line x1="106.95" y1="160.6" x2="106.95" y2="163.6"/><line x1="111.22" y1="160.6" x2="111.22" y2="162.9" stroke-width="0.95"/><line x1="113.73" y1="160.6" x2="113.73" y2="162.9" stroke-width="0.95"/><line x1="115.5" y1="160.6" x2="115.5" y2="162.9" stroke-width="0.95"/><line x1="116.88" y1="160.6" x2="116.88" y2="162.9" stroke-width="0.95"/><line x1="118" y1="160.6" x2="118" y2="162.9" stroke-width="0.95"/><line x1="118.95" y1="160.6" x2="118.95" y2="162.9" stroke-width="0.95"/><line x1="119.77" y1="160.6" x2="119.77" y2="162.9" stroke-width="0.95"/><line x1="120.5" y1="160.6" x2="120.5" y2="162.9" stroke-width="0.95"/><line x1="121.15" y1="160.6" x2="121.15" y2="163.6"/><line x1="125.42" y1="160.6" x2="125.42" y2="162.9" stroke-width="0.95"/><line x1="127.93" y1="160.6" x2="127.93" y2="162.9" stroke-width="0.95"/><line x1="129.7" y1="160.6" x2="129.7" y2="162.9" stroke-width="0.95"/><line x1="131.08" y1="160.6" x2="131.08" y2="162.9" stroke-width="0.95"/><line x1="132.2" y1="160.6" x2="132.2" y2="162.9" stroke-width="0.95"/><line x1="133.15" y1="160.6" x2="133.15" y2="162.9" stroke-width="0.95"/><line x1="133.97" y1="160.6" x2="133.97" y2="162.9" stroke-width="0.95"/><line x1="134.7" y1="160.6" x2="134.7" y2="162.9" stroke-width="0.95"/><line x1="135.35" y1="160.6" x2="135.35" y2="163.6"/><line x1="139.62" y1="160.6" x2="139.62" y2="162.9" stroke-width="0.95"/><line x1="142.13" y1="160.6" x2="142.13" y2="162.9" stroke-width="0.95"/><line x1="143.9" y1="160.6" x2="143.9" y2="162.9" stroke-width="0.95"/><line x1="145.28" y1="160.6" x2="145.28" y2="162.9" stroke-width="0.95"/><line x1="146.4" y1="160.6" x2="146.4" y2="162.9" stroke-width="0.95"/><line x1="147.35" y1="160.6" x2="147.35" y2="162.9" stroke-width="0.95"/><line x1="148.17" y1="160.6" x2="148.17" y2="162.9" stroke-width="0.95"/><line x1="148.9" y1="160.6" x2="148.9" y2="162.9" stroke-width="0.95"/><line x1="149.55" y1="160.6" x2="149.55" y2="163.6"/><line x1="165.4" y1="103.1" x2="165.4" y2="163.6" stroke="#555"/><line x1="161.9" y1="160.6" x2="222.7" y2="160.6"/><line x1="161.9" y1="103.1" x2="165.4" y2="103.1"/><line x1="161.9" y1="131.85" x2="165.4" y2="131.85"/><line x1="161.9" y1="160.6" x2="165.4" y2="160.6"/><line x1="165.4" y1="160.6" x2="165.4" y2="163.6"/><line x1="169.67" y1="160.6" x2="169.67" y2="162.9" stroke-width="0.95"/><line x1="172.18" y1="160.6" x2="172.18" y2="162.9" stroke-width="0.95"/><line x1="173.95" y1="160.6" x2="173.95" y2="162.9" stroke-width="0.95"/><line x1="175.33" y1="160.6" x2="175.33" y2="162.9" stroke-width="0.95"/><line x1="176.45" y1="160.6" x2="176.45" y2="162.9" stroke-width="0.95"/><line x1="177.4" y1="160.6" x2="177.4" y2="162.9" stroke-width="0.95"/><line x1="178.22" y1="160.6" x2="178.22" y2="162.9" stroke-width="0.95"/><line x1="178.95" y1="160.6" x2="178.95" y2="162.9" stroke-width="0.95"/><line x1="179.6" y1="160.6" x2="179.6" y2="163.6"/><line x1="183.87" y1="160.6" x2="183.87" y2="162.9" stroke-width="0.95"/><line x1="186.38" y1="160.6" x2="186.38" y2="162.9" stroke-width="0.95"/><line x1="188.15" y1="160.6" x2="188.15" y2="162.9" stroke-width="0.95"/><line x1="189.53" y1="160.6" x2="189.53" y2="162.9" stroke-width="0.95"/><line x1="190.65" y1="160.6" x2="190.65" y2="162.9" stroke-width="0.95"/><line x1="191.6" y1="160.6" x2="191.6" y2="162.9" stroke-width="0.95"/><line x1="192.42" y1="160.6" x2="192.42" y2="162.9" stroke-width="0.95"/><line x1="193.15" y1="160.6" x2="193.15" y2="162.9" stroke-width="0.95"/><line x1="193.8" y1="160.6" x2="193.8" y2="163.6"/><line x1="198.07" y1="160.6" x2="198.07" y2="162.9" stroke-width="0.95"/><line x1="200.58" y1="160.6" x2="200.58" y2="162.9" stroke-width="0.95"/><line x1="202.35" y1="160.6" x2="202.35" y2="162.9" stroke-width="0.95"/><line x1="203.73" y1="160.6" x2="203.73" y2="162.9" stroke-width="0.95"/><line x1="204.85" y1="160.6" x2="204.85" y2="162.9" stroke-width="0.95"/><line x1="205.8" y1="160.6" x2="205.8" y2="162.9" stroke-width="0.95"/><line x1="206.62" y1="160.6" x2="206.62" y2="162.9" stroke-width="0.95"/><line x1="207.35" y1="160.6" x2="207.35" y2="162.9" stroke-width="0.95"/><line x1="208" y1="160.6" x2="208" y2="163.6"/><line x1="212.27" y1="160.6" x2="212.27" y2="162.9" stroke-width="0.95"/><line x1="214.78" y1="160.6" x2="214.78" y2="162.9" stroke-width="0.95"/><line x1="216.55" y1="160.6" x2="216.55" y2="162.9" stroke-width="0.95"/><line x1="217.93" y1="160.6" x2="217.93" y2="162.9" stroke-width="0.95"/><line x1="219.05" y1="160.6" x2="219.05" y2="162.9" stroke-width="0.95"/><line x1="220" y1="160.6" x2="220" y2="162.9" stroke-width="0.95"/><line x1="220.82" y1="160.6" x2="220.82" y2="162.9" stroke-width="0.95"/><line x1="221.55" y1="160.6" x2="221.55" y2="162.9" stroke-width="0.95"/><line x1="222.2" y1="160.6" x2="222.2" y2="163.6"/><line x1="238" y1="103.1" x2="238" y2="163.6" stroke="#555"/><line x1="234.5" y1="160.6" x2="295.3" y2="160.6"/><line x1="234.5" y1="103.1" x2="238" y2="103.1"/><line x1="234.5" y1="131.85" x2="238" y2="131.85"/><line x1="234.5" y1="160.6" x2="238" y2="160.6"/><line x1="238" y1="160.6" x2="238" y2="163.6"/><line x1="242.27" y1="160.6" x2="242.27" y2="162.9" stroke-width="0.95"/><line x1="244.78" y1="160.6" x2="244.78" y2="162.9" stroke-width="0.95"/><line x1="246.55" y1="160.6" x2="246.55" y2="162.9" stroke-width="0.95"/><line x1="247.93" y1="160.6" x2="247.93" y2="162.9" stroke-width="0.95"/><line x1="249.05" y1="160.6" x2="249.05" y2="162.9" stroke-width="0.95"/><line x1="250" y1="160.6" x2="250" y2="162.9" stroke-width="0.95"/><line x1="250.82" y1="160.6" x2="250.82" y2="162.9" stroke-width="0.95"/><line x1="251.55" y1="160.6" x2="251.55" y2="162.9" stroke-width="0.95"/><line x1="252.2" y1="160.6" x2="252.2" y2="163.6"/><line x1="256.47" y1="160.6" x2="256.47" y2="162.9" stroke-width="0.95"/><line x1="258.98" y1="160.6" x2="258.98" y2="162.9" stroke-width="0.95"/><line x1="260.75" y1="160.6" x2="260.75" y2="162.9" stroke-width="0.95"/><line x1="262.13" y1="160.6" x2="262.13" y2="162.9" stroke-width="0.95"/><line x1="263.25" y1="160.6" x2="263.25" y2="162.9" stroke-width="0.95"/><line x1="264.2" y1="160.6" x2="264.2" y2="162.9" stroke-width="0.95"/><line x1="265.02" y1="160.6" x2="265.02" y2="162.9" stroke-width="0.95"/><line x1="265.75" y1="160.6" x2="265.75" y2="162.9" stroke-width="0.95"/><line x1="266.4" y1="160.6" x2="266.4" y2="163.6"/><line x1="270.67" y1="160.6" x2="270.67" y2="162.9" stroke-width="0.95"/><line x1="273.18" y1="160.6" x2="273.18" y2="162.9" stroke-width="0.95"/><line x1="274.95" y1="160.6" x2="274.95" y2="162.9" stroke-width="0.95"/><line x1="276.33" y1="160.6" x2="276.33" y2="162.9" stroke-width="0.95"/><line x1="277.45" y1="160.6" x2="277.45" y2="162.9" stroke-width="0.95"/><line x1="278.4" y1="160.6" x2="278.4" y2="162.9" stroke-width="0.95"/><line x1="279.22" y1="160.6" x2="279.22" y2="162.9" stroke-width="0.95"/><line x1="279.95" y1="160.6" x2="279.95" y2="162.9" stroke-width="0.95"/><line x1="280.6" y1="160.6" x2="280.6" y2="163.6"/><line x1="284.87" y1="160.6" x2="284.87" y2="162.9" stroke-width="0.95"/><line x1="287.38" y1="160.6" x2="287.38" y2="162.9" stroke-width="0.95"/><line x1="289.15" y1="160.6" x2="289.15" y2="162.9" stroke-width="0.95"/><line x1="290.53" y1="160.6" x2="290.53" y2="162.9" stroke-width="0.95"/><line x1="291.65" y1="160.6" x2="291.65" y2="162.9" stroke-width="0.95"/><line x1="292.6" y1="160.6" x2="292.6" y2="162.9" stroke-width="0.95"/><line x1="293.42" y1="160.6" x2="293.42" y2="162.9" stroke-width="0.95"/><line x1="294.15" y1="160.6" x2="294.15" y2="162.9" stroke-width="0.95"/><line x1="294.8" y1="160.6" x2="294.8" y2="163.6"/><line x1="310.8" y1="103.1" x2="310.8" y2="163.6" stroke="#555"/><line x1="307.3" y1="160.6" x2="368.1" y2="160.6"/><line x1="307.3" y1="103.1" x2="310.8" y2="103.1"/><line x1="307.3" y1="131.85" x2="310.8" y2="131.85"/><line x1="307.3" y1="160.6" x2="310.8" y2="160.6"/><line x1="310.8" y1="160.6" x2="310.8" y2="163.6"/><line x1="315.07" y1="160.6" x2="315.07" y2="162.9" stroke-width="0.95"/><line x1="317.58" y1="160.6" x2="317.58" y2="162.9" stroke-width="0.95"/><line x1="319.35" y1="160.6" x2="319.35" y2="162.9" stroke-width="0.95"/><line x1="320.73" y1="160.6" x2="320.73" y2="162.9" stroke-width="0.95"/><line x1="321.85" y1="160.6" x2="321.85" y2="162.9" stroke-width="0.95"/><line x1="322.8" y1="160.6" x2="322.8" y2="162.9" stroke-width="0.95"/><line x1="323.62" y1="160.6" x2="323.62" y2="162.9" stroke-width="0.95"/><line x1="324.35" y1="160.6" x2="324.35" y2="162.9" stroke-width="0.95"/><line x1="325" y1="160.6" x2="325" y2="163.6"/><line x1="329.27" y1="160.6" x2="329.27" y2="162.9" stroke-width="0.95"/><line x1="331.78" y1="160.6" x2="331.78" y2="162.9" stroke-width="0.95"/><line x1="333.55" y1="160.6" x2="333.55" y2="162.9" stroke-width="0.95"/><line x1="334.93" y1="160.6" x2="334.93" y2="162.9" stroke-width="0.95"/><line x1="336.05" y1="160.6" x2="336.05" y2="162.9" stroke-width="0.95"/><line x1="337" y1="160.6" x2="337" y2="162.9" stroke-width="0.95"/><line x1="337.82" y1="160.6" x2="337.82" y2="162.9" stroke-width="0.95"/><line x1="338.55" y1="160.6" x2="338.55" y2="162.9" stroke-width="0.95"/><line x1="339.2" y1="160.6" x2="339.2" y2="163.6"/><line x1="343.47" y1="160.6" x2="343.47" y2="162.9" stroke-width="0.95"/><line x1="345.98" y1="160.6" x2="345.98" y2="162.9" stroke-width="0.95"/><line x1="347.75" y1="160.6" x2="347.75" y2="162.9" stroke-width="0.95"/><line x1="349.13" y1="160.6" x2="349.13" y2="162.9" stroke-width="0.95"/><line x1="350.25" y1="160.6" x2="350.25" y2="162.9" stroke-width="0.95"/><line x1="351.2" y1="160.6" x2="351.2" y2="162.9" stroke-width="0.95"/><line x1="352.02" y1="160.6" x2="352.02" y2="162.9" stroke-width="0.95"/><line x1="352.75" y1="160.6" x2="352.75" y2="162.9" stroke-width="0.95"/><line x1="353.4" y1="160.6" x2="353.4" y2="163.6"/><line x1="357.67" y1="160.6" x2="357.67" y2="162.9" stroke-width="0.95"/><line x1="360.18" y1="160.6" x2="360.18" y2="162.9" stroke-width="0.95"/><line x1="361.95" y1="160.6" x2="361.95" y2="162.9" stroke-width="0.95"/><line x1="363.33" y1="160.6" x2="363.33" y2="162.9" stroke-width="0.95"/><line x1="364.45" y1="160.6" x2="364.45" y2="162.9" stroke-width="0.95"/><line x1="365.4" y1="160.6" x2="365.4" y2="162.9" stroke-width="0.95"/><line x1="366.22" y1="160.6" x2="366.22" y2="162.9" stroke-width="0.95"/><line x1="366.95" y1="160.6" x2="366.95" y2="162.9" stroke-width="0.95"/><line x1="367.6" y1="160.6" x2="367.6" y2="163.6"/><line x1="383.3" y1="103.1" x2="383.3" y2="163.6" stroke="#555"/><line x1="379.8" y1="160.6" x2="440.6" y2="160.6"/><line x1="379.8" y1="103.1" x2="383.3" y2="103.1"/><line x1="379.8" y1="131.85" x2="383.3" y2="131.85"/><line x1="379.8" y1="160.6" x2="383.3" y2="160.6"/><line x1="383.3" y1="160.6" x2="383.3" y2="163.6"/><line x1="387.57" y1="160.6" x2="387.57" y2="162.9" stroke-width="0.95"/><line x1="390.08" y1="160.6" x2="390.08" y2="162.9" stroke-width="0.95"/><line x1="391.85" y1="160.6" x2="391.85" y2="162.9" stroke-width="0.95"/><line x1="393.23" y1="160.6" x2="393.23" y2="162.9" stroke-width="0.95"/><line x1="394.35" y1="160.6" x2="394.35" y2="162.9" stroke-width="0.95"/><line x1="395.3" y1="160.6" x2="395.3" y2="162.9" stroke-width="0.95"/><line x1="396.12" y1="160.6" x2="396.12" y2="162.9" stroke-width="0.95"/><line x1="396.85" y1="160.6" x2="396.85" y2="162.9" stroke-width="0.95"/><line x1="397.5" y1="160.6" x2="397.5" y2="163.6"/><line x1="401.77" y1="160.6" x2="401.77" y2="162.9" stroke-width="0.95"/><line x1="404.28" y1="160.6" x2="404.28" y2="162.9" stroke-width="0.95"/><line x1="406.05" y1="160.6" x2="406.05" y2="162.9" stroke-width="0.95"/><line x1="407.43" y1="160.6" x2="407.43" y2="162.9" stroke-width="0.95"/><line x1="408.55" y1="160.6" x2="408.55" y2="162.9" stroke-width="0.95"/><line x1="409.5" y1="160.6" x2="409.5" y2="162.9" stroke-width="0.95"/><line x1="410.32" y1="160.6" x2="410.32" y2="162.9" stroke-width="0.95"/><line x1="411.05" y1="160.6" x2="411.05" y2="162.9" stroke-width="0.95"/><line x1="411.7" y1="160.6" x2="411.7" y2="163.6"/><line x1="415.97" y1="160.6" x2="415.97" y2="162.9" stroke-width="0.95"/><line x1="418.48" y1="160.6" x2="418.48" y2="162.9" stroke-width="0.95"/><line x1="420.25" y1="160.6" x2="420.25" y2="162.9" stroke-width="0.95"/><line x1="421.63" y1="160.6" x2="421.63" y2="162.9" stroke-width="0.95"/><line x1="422.75" y1="160.6" x2="422.75" y2="162.9" stroke-width="0.95"/><line x1="423.7" y1="160.6" x2="423.7" y2="162.9" stroke-width="0.95"/><line x1="424.52" y1="160.6" x2="424.52" y2="162.9" stroke-width="0.95"/><line x1="425.25" y1="160.6" x2="425.25" y2="162.9" stroke-width="0.95"/><line x1="425.9" y1="160.6" x2="425.9" y2="163.6"/><line x1="430.17" y1="160.6" x2="430.17" y2="162.9" stroke-width="0.95"/><line x1="432.68" y1="160.6" x2="432.68" y2="162.9" stroke-width="0.95"/><line x1="434.45" y1="160.6" x2="434.45" y2="162.9" stroke-width="0.95"/><line x1="435.83" y1="160.6" x2="435.83" y2="162.9" stroke-width="0.95"/><line x1="436.95" y1="160.6" x2="436.95" y2="162.9" stroke-width="0.95"/><line x1="437.9" y1="160.6" x2="437.9" y2="162.9" stroke-width="0.95"/><line x1="438.72" y1="160.6" x2="438.72" y2="162.9" stroke-width="0.95"/><line x1="439.45" y1="160.6" x2="439.45" y2="162.9" stroke-width="0.95"/><line x1="440.1" y1="160.6" x2="440.1" y2="163.6"/><line x1="456" y1="103.1" x2="456" y2="163.6" stroke="#555"/><line x1="452.5" y1="160.6" x2="513.3" y2="160.6"/><line x1="452.5" y1="103.1" x2="456" y2="103.1"/><line x1="452.5" y1="131.85" x2="456" y2="131.85"/><line x1="452.5" y1="160.6" x2="456" y2="160.6"/><line x1="456" y1="160.6" x2="456" y2="163.6"/><line x1="460.27" y1="160.6" x2="460.27" y2="162.9" stroke-width="0.95"/><line x1="462.78" y1="160.6" x2="462.78" y2="162.9" stroke-width="0.95"/><line x1="464.55" y1="160.6" x2="464.55" y2="162.9" stroke-width="0.95"/><line x1="465.93" y1="160.6" x2="465.93" y2="162.9" stroke-width="0.95"/><line x1="467.05" y1="160.6" x2="467.05" y2="162.9" stroke-width="0.95"/><line x1="468" y1="160.6" x2="468" y2="162.9" stroke-width="0.95"/><line x1="468.82" y1="160.6" x2="468.82" y2="162.9" stroke-width="0.95"/><line x1="469.55" y1="160.6" x2="469.55" y2="162.9" stroke-width="0.95"/><line x1="470.2" y1="160.6" x2="470.2" y2="163.6"/><line x1="474.47" y1="160.6" x2="474.47" y2="162.9" stroke-width="0.95"/><line x1="476.98" y1="160.6" x2="476.98" y2="162.9" stroke-width="0.95"/><line x1="478.75" y1="160.6" x2="478.75" y2="162.9" stroke-width="0.95"/><line x1="480.13" y1="160.6" x2="480.13" y2="162.9" stroke-width="0.95"/><line x1="481.25" y1="160.6" x2="481.25" y2="162.9" stroke-width="0.95"/><line x1="482.2" y1="160.6" x2="482.2" y2="162.9" stroke-width="0.95"/><line x1="483.02" y1="160.6" x2="483.02" y2="162.9" stroke-width="0.95"/><line x1="483.75" y1="160.6" x2="483.75" y2="162.9" stroke-width="0.95"/><line x1="484.4" y1="160.6" x2="484.4" y2="163.6"/><line x1="488.67" y1="160.6" x2="488.67" y2="162.9" stroke-width="0.95"/><line x1="491.18" y1="160.6" x2="491.18" y2="162.9" stroke-width="0.95"/><line x1="492.95" y1="160.6" x2="492.95" y2="162.9" stroke-width="0.95"/><line x1="494.33" y1="160.6" x2="494.33" y2="162.9" stroke-width="0.95"/><line x1="495.45" y1="160.6" x2="495.45" y2="162.9" stroke-width="0.95"/><line x1="496.4" y1="160.6" x2="496.4" y2="162.9" stroke-width="0.95"/><line x1="497.22" y1="160.6" x2="497.22" y2="162.9" stroke-width="0.95"/><line x1="497.95" y1="160.6" x2="497.95" y2="162.9" stroke-width="0.95"/><line x1="498.6" y1="160.6" x2="498.6" y2="163.6"/><line x1="502.87" y1="160.6" x2="502.87" y2="162.9" stroke-width="0.95"/><line x1="505.38" y1="160.6" x2="505.38" y2="162.9" stroke-width="0.95"/><line x1="507.15" y1="160.6" x2="507.15" y2="162.9" stroke-width="0.95"/><line x1="508.53" y1="160.6" x2="508.53" y2="162.9" stroke-width="0.95"/><line x1="509.65" y1="160.6" x2="509.65" y2="162.9" stroke-width="0.95"/><line x1="510.6" y1="160.6" x2="510.6" y2="162.9" stroke-width="0.95"/><line x1="511.42" y1="160.6" x2="511.42" y2="162.9" stroke-width="0.95"/><line x1="512.15" y1="160.6" x2="512.15" y2="162.9" stroke-width="0.95"/><line x1="512.8" y1="160.6" x2="512.8" y2="163.6"/><line x1="92.75" y1="204.4" x2="92.75" y2="264.9" stroke="#555"/><line x1="89.25" y1="261.9" x2="150.05" y2="261.9"/><line x1="89.25" y1="204.4" x2="92.75" y2="204.4"/><line x1="89.25" y1="218.78" x2="92.75" y2="218.78"/><line x1="89.25" y1="233.15" x2="92.75" y2="233.15"/><line x1="89.25" y1="247.52" x2="92.75" y2="247.52"/><line x1="89.25" y1="261.9" x2="92.75" y2="261.9"/><line x1="92.75" y1="261.9" x2="92.75" y2="264.9"/><line x1="97.02" y1="261.9" x2="97.02" y2="264.2" stroke-width="0.95"/><line x1="99.53" y1="261.9" x2="99.53" y2="264.2" stroke-width="0.95"/><line x1="101.3" y1="261.9" x2="101.3" y2="264.2" stroke-width="0.95"/><line x1="102.68" y1="261.9" x2="102.68" y2="264.2" stroke-width="0.95"/><line x1="103.8" y1="261.9" x2="103.8" y2="264.2" stroke-width="0.95"/><line x1="104.75" y1="261.9" x2="104.75" y2="264.2" stroke-width="0.95"/><line x1="105.57" y1="261.9" x2="105.57" y2="264.2" stroke-width="0.95"/><line x1="106.3" y1="261.9" x2="106.3" y2="264.2" stroke-width="0.95"/><line x1="106.95" y1="261.9" x2="106.95" y2="264.9"/><line x1="111.22" y1="261.9" x2="111.22" y2="264.2" stroke-width="0.95"/><line x1="113.73" y1="261.9" x2="113.73" y2="264.2" stroke-width="0.95"/><line x1="115.5" y1="261.9" x2="115.5" y2="264.2" stroke-width="0.95"/><line x1="116.88" y1="261.9" x2="116.88" y2="264.2" stroke-width="0.95"/><line x1="118" y1="261.9" x2="118" y2="264.2" stroke-width="0.95"/><line x1="118.95" y1="261.9" x2="118.95" y2="264.2" stroke-width="0.95"/><line x1="119.77" y1="261.9" x2="119.77" y2="264.2" stroke-width="0.95"/><line x1="120.5" y1="261.9" x2="120.5" y2="264.2" stroke-width="0.95"/><line x1="121.15" y1="261.9" x2="121.15" y2="264.9"/><line x1="125.42" y1="261.9" x2="125.42" y2="264.2" stroke-width="0.95"/><line x1="127.93" y1="261.9" x2="127.93" y2="264.2" stroke-width="0.95"/><line x1="129.7" y1="261.9" x2="129.7" y2="264.2" stroke-width="0.95"/><line x1="131.08" y1="261.9" x2="131.08" y2="264.2" stroke-width="0.95"/><line x1="132.2" y1="261.9" x2="132.2" y2="264.2" stroke-width="0.95"/><line x1="133.15" y1="261.9" x2="133.15" y2="264.2" stroke-width="0.95"/><line x1="133.97" y1="261.9" x2="133.97" y2="264.2" stroke-width="0.95"/><line x1="134.7" y1="261.9" x2="134.7" y2="264.2" stroke-width="0.95"/><line x1="135.35" y1="261.9" x2="135.35" y2="264.9"/><line x1="139.62" y1="261.9" x2="139.62" y2="264.2" stroke-width="0.95"/><line x1="142.13" y1="261.9" x2="142.13" y2="264.2" stroke-width="0.95"/><line x1="143.9" y1="261.9" x2="143.9" y2="264.2" stroke-width="0.95"/><line x1="145.28" y1="261.9" x2="145.28" y2="264.2" stroke-width="0.95"/><line x1="146.4" y1="261.9" x2="146.4" y2="264.2" stroke-width="0.95"/><line x1="147.35" y1="261.9" x2="147.35" y2="264.2" stroke-width="0.95"/><line x1="148.17" y1="261.9" x2="148.17" y2="264.2" stroke-width="0.95"/><line x1="148.9" y1="261.9" x2="148.9" y2="264.2" stroke-width="0.95"/><line x1="149.55" y1="261.9" x2="149.55" y2="264.9"/><line x1="165.4" y1="204.4" x2="165.4" y2="264.9" stroke="#555"/><line x1="161.9" y1="261.9" x2="222.7" y2="261.9"/><line x1="161.9" y1="204.4" x2="165.4" y2="204.4"/><line x1="161.9" y1="223.57" x2="165.4" y2="223.57"/><line x1="161.9" y1="242.73" x2="165.4" y2="242.73"/><line x1="161.9" y1="261.9" x2="165.4" y2="261.9"/><line x1="165.4" y1="261.9" x2="165.4" y2="264.9"/><line x1="169.67" y1="261.9" x2="169.67" y2="264.2" stroke-width="0.95"/><line x1="172.18" y1="261.9" x2="172.18" y2="264.2" stroke-width="0.95"/><line x1="173.95" y1="261.9" x2="173.95" y2="264.2" stroke-width="0.95"/><line x1="175.33" y1="261.9" x2="175.33" y2="264.2" stroke-width="0.95"/><line x1="176.45" y1="261.9" x2="176.45" y2="264.2" stroke-width="0.95"/><line x1="177.4" y1="261.9" x2="177.4" y2="264.2" stroke-width="0.95"/><line x1="178.22" y1="261.9" x2="178.22" y2="264.2" stroke-width="0.95"/><line x1="178.95" y1="261.9" x2="178.95" y2="264.2" stroke-width="0.95"/><line x1="179.6" y1="261.9" x2="179.6" y2="264.9"/><line x1="183.87" y1="261.9" x2="183.87" y2="264.2" stroke-width="0.95"/><line x1="186.38" y1="261.9" x2="186.38" y2="264.2" stroke-width="0.95"/><line x1="188.15" y1="261.9" x2="188.15" y2="264.2" stroke-width="0.95"/><line x1="189.53" y1="261.9" x2="189.53" y2="264.2" stroke-width="0.95"/><line x1="190.65" y1="261.9" x2="190.65" y2="264.2" stroke-width="0.95"/><line x1="191.6" y1="261.9" x2="191.6" y2="264.2" stroke-width="0.95"/><line x1="192.42" y1="261.9" x2="192.42" y2="264.2" stroke-width="0.95"/><line x1="193.15" y1="261.9" x2="193.15" y2="264.2" stroke-width="0.95"/><line x1="193.8" y1="261.9" x2="193.8" y2="264.9"/><line x1="198.07" y1="261.9" x2="198.07" y2="264.2" stroke-width="0.95"/><line x1="200.58" y1="261.9" x2="200.58" y2="264.2" stroke-width="0.95"/><line x1="202.35" y1="261.9" x2="202.35" y2="264.2" stroke-width="0.95"/><line x1="203.73" y1="261.9" x2="203.73" y2="264.2" stroke-width="0.95"/><line x1="204.85" y1="261.9" x2="204.85" y2="264.2" stroke-width="0.95"/><line x1="205.8" y1="261.9" x2="205.8" y2="264.2" stroke-width="0.95"/><line x1="206.62" y1="261.9" x2="206.62" y2="264.2" stroke-width="0.95"/><line x1="207.35" y1="261.9" x2="207.35" y2="264.2" stroke-width="0.95"/><line x1="208" y1="261.9" x2="208" y2="264.9"/><line x1="212.27" y1="261.9" x2="212.27" y2="264.2" stroke-width="0.95"/><line x1="214.78" y1="261.9" x2="214.78" y2="264.2" stroke-width="0.95"/><line x1="216.55" y1="261.9" x2="216.55" y2="264.2" stroke-width="0.95"/><line x1="217.93" y1="261.9" x2="217.93" y2="264.2" stroke-width="0.95"/><line x1="219.05" y1="261.9" x2="219.05" y2="264.2" stroke-width="0.95"/><line x1="220" y1="261.9" x2="220" y2="264.2" stroke-width="0.95"/><line x1="220.82" y1="261.9" x2="220.82" y2="264.2" stroke-width="0.95"/><line x1="221.55" y1="261.9" x2="221.55" y2="264.2" stroke-width="0.95"/><line x1="222.2" y1="261.9" x2="222.2" y2="264.9"/><line x1="238" y1="204.4" x2="238" y2="264.9" stroke="#555"/><line x1="234.5" y1="261.9" x2="295.3" y2="261.9"/><line x1="234.5" y1="204.4" x2="238" y2="204.4"/><line x1="234.5" y1="218.78" x2="238" y2="218.78"/><line x1="234.5" y1="233.15" x2="238" y2="233.15"/><line x1="234.5" y1="247.52" x2="238" y2="247.52"/><line x1="234.5" y1="261.9" x2="238" y2="261.9"/><line x1="238" y1="261.9" x2="238" y2="264.9"/><line x1="242.27" y1="261.9" x2="242.27" y2="264.2" stroke-width="0.95"/><line x1="244.78" y1="261.9" x2="244.78" y2="264.2" stroke-width="0.95"/><line x1="246.55" y1="261.9" x2="246.55" y2="264.2" stroke-width="0.95"/><line x1="247.93" y1="261.9" x2="247.93" y2="264.2" stroke-width="0.95"/><line x1="249.05" y1="261.9" x2="249.05" y2="264.2" stroke-width="0.95"/><line x1="250" y1="261.9" x2="250" y2="264.2" stroke-width="0.95"/><line x1="250.82" y1="261.9" x2="250.82" y2="264.2" stroke-width="0.95"/><line x1="251.55" y1="261.9" x2="251.55" y2="264.2" stroke-width="0.95"/><line x1="252.2" y1="261.9" x2="252.2" y2="264.9"/><line x1="256.47" y1="261.9" x2="256.47" y2="264.2" stroke-width="0.95"/><line x1="258.98" y1="261.9" x2="258.98" y2="264.2" stroke-width="0.95"/><line x1="260.75" y1="261.9" x2="260.75" y2="264.2" stroke-width="0.95"/><line x1="262.13" y1="261.9" x2="262.13" y2="264.2" stroke-width="0.95"/><line x1="263.25" y1="261.9" x2="263.25" y2="264.2" stroke-width="0.95"/><line x1="264.2" y1="261.9" x2="264.2" y2="264.2" stroke-width="0.95"/><line x1="265.02" y1="261.9" x2="265.02" y2="264.2" stroke-width="0.95"/><line x1="265.75" y1="261.9" x2="265.75" y2="264.2" stroke-width="0.95"/><line x1="266.4" y1="261.9" x2="266.4" y2="264.9"/><line x1="270.67" y1="261.9" x2="270.67" y2="264.2" stroke-width="0.95"/><line x1="273.18" y1="261.9" x2="273.18" y2="264.2" stroke-width="0.95"/><line x1="274.95" y1="261.9" x2="274.95" y2="264.2" stroke-width="0.95"/><line x1="276.33" y1="261.9" x2="276.33" y2="264.2" stroke-width="0.95"/><line x1="277.45" y1="261.9" x2="277.45" y2="264.2" stroke-width="0.95"/><line x1="278.4" y1="261.9" x2="278.4" y2="264.2" stroke-width="0.95"/><line x1="279.22" y1="261.9" x2="279.22" y2="264.2" stroke-width="0.95"/><line x1="279.95" y1="261.9" x2="279.95" y2="264.2" stroke-width="0.95"/><line x1="280.6" y1="261.9" x2="280.6" y2="264.9"/><line x1="284.87" y1="261.9" x2="284.87" y2="264.2" stroke-width="0.95"/><line x1="287.38" y1="261.9" x2="287.38" y2="264.2" stroke-width="0.95"/><line x1="289.15" y1="261.9" x2="289.15" y2="264.2" stroke-width="0.95"/><line x1="290.53" y1="261.9" x2="290.53" y2="264.2" stroke-width="0.95"/><line x1="291.65" y1="261.9" x2="291.65" y2="264.2" stroke-width="0.95"/><line x1="292.6" y1="261.9" x2="292.6" y2="264.2" stroke-width="0.95"/><line x1="293.42" y1="261.9" x2="293.42" y2="264.2" stroke-width="0.95"/><line x1="294.15" y1="261.9" x2="294.15" y2="264.2" stroke-width="0.95"/><line x1="294.8" y1="261.9" x2="294.8" y2="264.9"/><line x1="310.8" y1="204.4" x2="310.8" y2="264.9" stroke="#555"/><line x1="307.3" y1="261.9" x2="368.1" y2="261.9"/><line x1="307.3" y1="204.4" x2="310.8" y2="204.4"/><line x1="307.3" y1="233.15" x2="310.8" y2="233.15"/><line x1="307.3" y1="261.9" x2="310.8" y2="261.9"/><line x1="310.8" y1="261.9" x2="310.8" y2="264.9"/><line x1="315.07" y1="261.9" x2="315.07" y2="264.2" stroke-width="0.95"/><line x1="317.58" y1="261.9" x2="317.58" y2="264.2" stroke-width="0.95"/><line x1="319.35" y1="261.9" x2="319.35" y2="264.2" stroke-width="0.95"/><line x1="320.73" y1="261.9" x2="320.73" y2="264.2" stroke-width="0.95"/><line x1="321.85" y1="261.9" x2="321.85" y2="264.2" stroke-width="0.95"/><line x1="322.8" y1="261.9" x2="322.8" y2="264.2" stroke-width="0.95"/><line x1="323.62" y1="261.9" x2="323.62" y2="264.2" stroke-width="0.95"/><line x1="324.35" y1="261.9" x2="324.35" y2="264.2" stroke-width="0.95"/><line x1="325" y1="261.9" x2="325" y2="264.9"/><line x1="329.27" y1="261.9" x2="329.27" y2="264.2" stroke-width="0.95"/><line x1="331.78" y1="261.9" x2="331.78" y2="264.2" stroke-width="0.95"/><line x1="333.55" y1="261.9" x2="333.55" y2="264.2" stroke-width="0.95"/><line x1="334.93" y1="261.9" x2="334.93" y2="264.2" stroke-width="0.95"/><line x1="336.05" y1="261.9" x2="336.05" y2="264.2" stroke-width="0.95"/><line x1="337" y1="261.9" x2="337" y2="264.2" stroke-width="0.95"/><line x1="337.82" y1="261.9" x2="337.82" y2="264.2" stroke-width="0.95"/><line x1="338.55" y1="261.9" x2="338.55" y2="264.2" stroke-width="0.95"/><line x1="339.2" y1="261.9" x2="339.2" y2="264.9"/><line x1="343.47" y1="261.9" x2="343.47" y2="264.2" stroke-width="0.95"/><line x1="345.98" y1="261.9" x2="345.98" y2="264.2" stroke-width="0.95"/><line x1="347.75" y1="261.9" x2="347.75" y2="264.2" stroke-width="0.95"/><line x1="349.13" y1="261.9" x2="349.13" y2="264.2" stroke-width="0.95"/><line x1="350.25" y1="261.9" x2="350.25" y2="264.2" stroke-width="0.95"/><line x1="351.2" y1="261.9" x2="351.2" y2="264.2" stroke-width="0.95"/><line x1="352.02" y1="261.9" x2="352.02" y2="264.2" stroke-width="0.95"/><line x1="352.75" y1="261.9" x2="352.75" y2="264.2" stroke-width="0.95"/><line x1="353.4" y1="261.9" x2="353.4" y2="264.9"/><line x1="357.67" y1="261.9" x2="357.67" y2="264.2" stroke-width="0.95"/><line x1="360.18" y1="261.9" x2="360.18" y2="264.2" stroke-width="0.95"/><line x1="361.95" y1="261.9" x2="361.95" y2="264.2" stroke-width="0.95"/><line x1="363.33" y1="261.9" x2="363.33" y2="264.2" stroke-width="0.95"/><line x1="364.45" y1="261.9" x2="364.45" y2="264.2" stroke-width="0.95"/><line x1="365.4" y1="261.9" x2="365.4" y2="264.2" stroke-width="0.95"/><line x1="366.22" y1="261.9" x2="366.22" y2="264.2" stroke-width="0.95"/><line x1="366.95" y1="261.9" x2="366.95" y2="264.2" stroke-width="0.95"/><line x1="367.6" y1="261.9" x2="367.6" y2="264.9"/><line x1="383.3" y1="204.4" x2="383.3" y2="264.9" stroke="#555"/><line x1="379.8" y1="261.9" x2="440.6" y2="261.9"/><line x1="379.8" y1="204.4" x2="383.3" y2="204.4"/><line x1="379.8" y1="223.57" x2="383.3" y2="223.57"/><line x1="379.8" y1="242.73" x2="383.3" y2="242.73"/><line x1="379.8" y1="261.9" x2="383.3" y2="261.9"/><line x1="383.3" y1="261.9" x2="383.3" y2="264.9"/><line x1="387.57" y1="261.9" x2="387.57" y2="264.2" stroke-width="0.95"/><line x1="390.08" y1="261.9" x2="390.08" y2="264.2" stroke-width="0.95"/><line x1="391.85" y1="261.9" x2="391.85" y2="264.2" stroke-width="0.95"/><line x1="393.23" y1="261.9" x2="393.23" y2="264.2" stroke-width="0.95"/><line x1="394.35" y1="261.9" x2="394.35" y2="264.2" stroke-width="0.95"/><line x1="395.3" y1="261.9" x2="395.3" y2="264.2" stroke-width="0.95"/><line x1="396.12" y1="261.9" x2="396.12" y2="264.2" stroke-width="0.95"/><line x1="396.85" y1="261.9" x2="396.85" y2="264.2" stroke-width="0.95"/><line x1="397.5" y1="261.9" x2="397.5" y2="264.9"/><line x1="401.77" y1="261.9" x2="401.77" y2="264.2" stroke-width="0.95"/><line x1="404.28" y1="261.9" x2="404.28" y2="264.2" stroke-width="0.95"/><line x1="406.05" y1="261.9" x2="406.05" y2="264.2" stroke-width="0.95"/><line x1="407.43" y1="261.9" x2="407.43" y2="264.2" stroke-width="0.95"/><line x1="408.55" y1="261.9" x2="408.55" y2="264.2" stroke-width="0.95"/><line x1="409.5" y1="261.9" x2="409.5" y2="264.2" stroke-width="0.95"/><line x1="410.32" y1="261.9" x2="410.32" y2="264.2" stroke-width="0.95"/><line x1="411.05" y1="261.9" x2="411.05" y2="264.2" stroke-width="0.95"/><line x1="411.7" y1="261.9" x2="411.7" y2="264.9"/><line x1="415.97" y1="261.9" x2="415.97" y2="264.2" stroke-width="0.95"/><line x1="418.48" y1="261.9" x2="418.48" y2="264.2" stroke-width="0.95"/><line x1="420.25" y1="261.9" x2="420.25" y2="264.2" stroke-width="0.95"/><line x1="421.63" y1="261.9" x2="421.63" y2="264.2" stroke-width="0.95"/><line x1="422.75" y1="261.9" x2="422.75" y2="264.2" stroke-width="0.95"/><line x1="423.7" y1="261.9" x2="423.7" y2="264.2" stroke-width="0.95"/><line x1="424.52" y1="261.9" x2="424.52" y2="264.2" stroke-width="0.95"/><line x1="425.25" y1="261.9" x2="425.25" y2="264.2" stroke-width="0.95"/><line x1="425.9" y1="261.9" x2="425.9" y2="264.9"/><line x1="430.17" y1="261.9" x2="430.17" y2="264.2" stroke-width="0.95"/><line x1="432.68" y1="261.9" x2="432.68" y2="264.2" stroke-width="0.95"/><line x1="434.45" y1="261.9" x2="434.45" y2="264.2" stroke-width="0.95"/><line x1="435.83" y1="261.9" x2="435.83" y2="264.2" stroke-width="0.95"/><line x1="436.95" y1="261.9" x2="436.95" y2="264.2" stroke-width="0.95"/><line x1="437.9" y1="261.9" x2="437.9" y2="264.2" stroke-width="0.95"/><line x1="438.72" y1="261.9" x2="438.72" y2="264.2" stroke-width="0.95"/><line x1="439.45" y1="261.9" x2="439.45" y2="264.2" stroke-width="0.95"/><line x1="440.1" y1="261.9" x2="440.1" y2="264.9"/><line x1="456" y1="204.4" x2="456" y2="264.9" stroke="#555"/><line x1="452.5" y1="261.9" x2="513.3" y2="261.9"/><line x1="452.5" y1="204.4" x2="456" y2="204.4"/><line x1="452.5" y1="223.57" x2="456" y2="223.57"/><line x1="452.5" y1="242.73" x2="456" y2="242.73"/><line x1="452.5" y1="261.9" x2="456" y2="261.9"/><line x1="456" y1="261.9" x2="456" y2="264.9"/><line x1="460.27" y1="261.9" x2="460.27" y2="264.2" stroke-width="0.95"/><line x1="462.78" y1="261.9" x2="462.78" y2="264.2" stroke-width="0.95"/><line x1="464.55" y1="261.9" x2="464.55" y2="264.2" stroke-width="0.95"/><line x1="465.93" y1="261.9" x2="465.93" y2="264.2" stroke-width="0.95"/><line x1="467.05" y1="261.9" x2="467.05" y2="264.2" stroke-width="0.95"/><line x1="468" y1="261.9" x2="468" y2="264.2" stroke-width="0.95"/><line x1="468.82" y1="261.9" x2="468.82" y2="264.2" stroke-width="0.95"/><line x1="469.55" y1="261.9" x2="469.55" y2="264.2" stroke-width="0.95"/><line x1="470.2" y1="261.9" x2="470.2" y2="264.9"/><line x1="474.47" y1="261.9" x2="474.47" y2="264.2" stroke-width="0.95"/><line x1="476.98" y1="261.9" x2="476.98" y2="264.2" stroke-width="0.95"/><line x1="478.75" y1="261.9" x2="478.75" y2="264.2" stroke-width="0.95"/><line x1="480.13" y1="261.9" x2="480.13" y2="264.2" stroke-width="0.95"/><line x1="481.25" y1="261.9" x2="481.25" y2="264.2" stroke-width="0.95"/><line x1="482.2" y1="261.9" x2="482.2" y2="264.2" stroke-width="0.95"/><line x1="483.02" y1="261.9" x2="483.02" y2="264.2" stroke-width="0.95"/><line x1="483.75" y1="261.9" x2="483.75" y2="264.2" stroke-width="0.95"/><line x1="484.4" y1="261.9" x2="484.4" y2="264.9"/><line x1="488.67" y1="261.9" x2="488.67" y2="264.2" stroke-width="0.95"/><line x1="491.18" y1="261.9" x2="491.18" y2="264.2" stroke-width="0.95"/><line x1="492.95" y1="261.9" x2="492.95" y2="264.2" stroke-width="0.95"/><line x1="494.33" y1="261.9" x2="494.33" y2="264.2" stroke-width="0.95"/><line x1="495.45" y1="261.9" x2="495.45" y2="264.2" stroke-width="0.95"/><line x1="496.4" y1="261.9" x2="496.4" y2="264.2" stroke-width="0.95"/><line x1="497.22" y1="261.9" x2="497.22" y2="264.2" stroke-width="0.95"/><line x1="497.95" y1="261.9" x2="497.95" y2="264.2" stroke-width="0.95"/><line x1="498.6" y1="261.9" x2="498.6" y2="264.9"/><line x1="502.87" y1="261.9" x2="502.87" y2="264.2" stroke-width="0.95"/><line x1="505.38" y1="261.9" x2="505.38" y2="264.2" stroke-width="0.95"/><line x1="507.15" y1="261.9" x2="507.15" y2="264.2" stroke-width="0.95"/><line x1="508.53" y1="261.9" x2="508.53" y2="264.2" stroke-width="0.95"/><line x1="509.65" y1="261.9" x2="509.65" y2="264.2" stroke-width="0.95"/><line x1="510.6" y1="261.9" x2="510.6" y2="264.2" stroke-width="0.95"/><line x1="511.42" y1="261.9" x2="511.42" y2="264.2" stroke-width="0.95"/><line x1="512.15" y1="261.9" x2="512.15" y2="264.2" stroke-width="0.95"/><line x1="512.8" y1="261.9" x2="512.8" y2="264.9"/><line x1="92.75" y1="294.4" x2="92.75" y2="355.2" stroke="#555"/><line x1="89.25" y1="352.2" x2="150.05" y2="352.2"/><line x1="89.25" y1="294.4" x2="92.75" y2="294.4"/><line x1="89.25" y1="305.96" x2="92.75" y2="305.96"/><line x1="89.25" y1="317.52" x2="92.75" y2="317.52"/><line x1="89.25" y1="329.08" x2="92.75" y2="329.08"/><line x1="89.25" y1="340.64" x2="92.75" y2="340.64"/><line x1="89.25" y1="352.2" x2="92.75" y2="352.2"/><line x1="92.75" y1="352.2" x2="92.75" y2="355.2"/><line x1="97.02" y1="352.2" x2="97.02" y2="354.5" stroke-width="0.95"/><line x1="99.53" y1="352.2" x2="99.53" y2="354.5" stroke-width="0.95"/><line x1="101.3" y1="352.2" x2="101.3" y2="354.5" stroke-width="0.95"/><line x1="102.68" y1="352.2" x2="102.68" y2="354.5" stroke-width="0.95"/><line x1="103.8" y1="352.2" x2="103.8" y2="354.5" stroke-width="0.95"/><line x1="104.75" y1="352.2" x2="104.75" y2="354.5" stroke-width="0.95"/><line x1="105.57" y1="352.2" x2="105.57" y2="354.5" stroke-width="0.95"/><line x1="106.3" y1="352.2" x2="106.3" y2="354.5" stroke-width="0.95"/><line x1="106.95" y1="352.2" x2="106.95" y2="355.2"/><line x1="111.22" y1="352.2" x2="111.22" y2="354.5" stroke-width="0.95"/><line x1="113.73" y1="352.2" x2="113.73" y2="354.5" stroke-width="0.95"/><line x1="115.5" y1="352.2" x2="115.5" y2="354.5" stroke-width="0.95"/><line x1="116.88" y1="352.2" x2="116.88" y2="354.5" stroke-width="0.95"/><line x1="118" y1="352.2" x2="118" y2="354.5" stroke-width="0.95"/><line x1="118.95" y1="352.2" x2="118.95" y2="354.5" stroke-width="0.95"/><line x1="119.77" y1="352.2" x2="119.77" y2="354.5" stroke-width="0.95"/><line x1="120.5" y1="352.2" x2="120.5" y2="354.5" stroke-width="0.95"/><line x1="121.15" y1="352.2" x2="121.15" y2="355.2"/><line x1="125.42" y1="352.2" x2="125.42" y2="354.5" stroke-width="0.95"/><line x1="127.93" y1="352.2" x2="127.93" y2="354.5" stroke-width="0.95"/><line x1="129.7" y1="352.2" x2="129.7" y2="354.5" stroke-width="0.95"/><line x1="131.08" y1="352.2" x2="131.08" y2="354.5" stroke-width="0.95"/><line x1="132.2" y1="352.2" x2="132.2" y2="354.5" stroke-width="0.95"/><line x1="133.15" y1="352.2" x2="133.15" y2="354.5" stroke-width="0.95"/><line x1="133.97" y1="352.2" x2="133.97" y2="354.5" stroke-width="0.95"/><line x1="134.7" y1="352.2" x2="134.7" y2="354.5" stroke-width="0.95"/><line x1="135.35" y1="352.2" x2="135.35" y2="355.2"/><line x1="139.62" y1="352.2" x2="139.62" y2="354.5" stroke-width="0.95"/><line x1="142.13" y1="352.2" x2="142.13" y2="354.5" stroke-width="0.95"/><line x1="143.9" y1="352.2" x2="143.9" y2="354.5" stroke-width="0.95"/><line x1="145.28" y1="352.2" x2="145.28" y2="354.5" stroke-width="0.95"/><line x1="146.4" y1="352.2" x2="146.4" y2="354.5" stroke-width="0.95"/><line x1="147.35" y1="352.2" x2="147.35" y2="354.5" stroke-width="0.95"/><line x1="148.17" y1="352.2" x2="148.17" y2="354.5" stroke-width="0.95"/><line x1="148.9" y1="352.2" x2="148.9" y2="354.5" stroke-width="0.95"/><line x1="149.55" y1="352.2" x2="149.55" y2="355.2"/><line x1="165.4" y1="294.4" x2="165.4" y2="355.2" stroke="#555"/><line x1="161.9" y1="352.2" x2="222.7" y2="352.2"/><line x1="161.9" y1="294.4" x2="165.4" y2="294.4"/><line x1="161.9" y1="308.85" x2="165.4" y2="308.85"/><line x1="161.9" y1="323.3" x2="165.4" y2="323.3"/><line x1="161.9" y1="337.75" x2="165.4" y2="337.75"/><line x1="161.9" y1="352.2" x2="165.4" y2="352.2"/><line x1="165.4" y1="352.2" x2="165.4" y2="355.2"/><line x1="169.67" y1="352.2" x2="169.67" y2="354.5" stroke-width="0.95"/><line x1="172.18" y1="352.2" x2="172.18" y2="354.5" stroke-width="0.95"/><line x1="173.95" y1="352.2" x2="173.95" y2="354.5" stroke-width="0.95"/><line x1="175.33" y1="352.2" x2="175.33" y2="354.5" stroke-width="0.95"/><line x1="176.45" y1="352.2" x2="176.45" y2="354.5" stroke-width="0.95"/><line x1="177.4" y1="352.2" x2="177.4" y2="354.5" stroke-width="0.95"/><line x1="178.22" y1="352.2" x2="178.22" y2="354.5" stroke-width="0.95"/><line x1="178.95" y1="352.2" x2="178.95" y2="354.5" stroke-width="0.95"/><line x1="179.6" y1="352.2" x2="179.6" y2="355.2"/><line x1="183.87" y1="352.2" x2="183.87" y2="354.5" stroke-width="0.95"/><line x1="186.38" y1="352.2" x2="186.38" y2="354.5" stroke-width="0.95"/><line x1="188.15" y1="352.2" x2="188.15" y2="354.5" stroke-width="0.95"/><line x1="189.53" y1="352.2" x2="189.53" y2="354.5" stroke-width="0.95"/><line x1="190.65" y1="352.2" x2="190.65" y2="354.5" stroke-width="0.95"/><line x1="191.6" y1="352.2" x2="191.6" y2="354.5" stroke-width="0.95"/><line x1="192.42" y1="352.2" x2="192.42" y2="354.5" stroke-width="0.95"/><line x1="193.15" y1="352.2" x2="193.15" y2="354.5" stroke-width="0.95"/><line x1="193.8" y1="352.2" x2="193.8" y2="355.2"/><line x1="198.07" y1="352.2" x2="198.07" y2="354.5" stroke-width="0.95"/><line x1="200.58" y1="352.2" x2="200.58" y2="354.5" stroke-width="0.95"/><line x1="202.35" y1="352.2" x2="202.35" y2="354.5" stroke-width="0.95"/><line x1="203.73" y1="352.2" x2="203.73" y2="354.5" stroke-width="0.95"/><line x1="204.85" y1="352.2" x2="204.85" y2="354.5" stroke-width="0.95"/><line x1="205.8" y1="352.2" x2="205.8" y2="354.5" stroke-width="0.95"/><line x1="206.62" y1="352.2" x2="206.62" y2="354.5" stroke-width="0.95"/><line x1="207.35" y1="352.2" x2="207.35" y2="354.5" stroke-width="0.95"/><line x1="208" y1="352.2" x2="208" y2="355.2"/><line x1="212.27" y1="352.2" x2="212.27" y2="354.5" stroke-width="0.95"/><line x1="214.78" y1="352.2" x2="214.78" y2="354.5" stroke-width="0.95"/><line x1="216.55" y1="352.2" x2="216.55" y2="354.5" stroke-width="0.95"/><line x1="217.93" y1="352.2" x2="217.93" y2="354.5" stroke-width="0.95"/><line x1="219.05" y1="352.2" x2="219.05" y2="354.5" stroke-width="0.95"/><line x1="220" y1="352.2" x2="220" y2="354.5" stroke-width="0.95"/><line x1="220.82" y1="352.2" x2="220.82" y2="354.5" stroke-width="0.95"/><line x1="221.55" y1="352.2" x2="221.55" y2="354.5" stroke-width="0.95"/><line x1="222.2" y1="352.2" x2="222.2" y2="355.2"/><line x1="238" y1="294.4" x2="238" y2="355.2" stroke="#555"/><line x1="234.5" y1="352.2" x2="295.3" y2="352.2"/><line x1="234.5" y1="294.4" x2="238" y2="294.4"/><line x1="234.5" y1="313.67" x2="238" y2="313.67"/><line x1="234.5" y1="332.93" x2="238" y2="332.93"/><line x1="234.5" y1="352.2" x2="238" y2="352.2"/><line x1="238" y1="352.2" x2="238" y2="355.2"/><line x1="242.27" y1="352.2" x2="242.27" y2="354.5" stroke-width="0.95"/><line x1="244.78" y1="352.2" x2="244.78" y2="354.5" stroke-width="0.95"/><line x1="246.55" y1="352.2" x2="246.55" y2="354.5" stroke-width="0.95"/><line x1="247.93" y1="352.2" x2="247.93" y2="354.5" stroke-width="0.95"/><line x1="249.05" y1="352.2" x2="249.05" y2="354.5" stroke-width="0.95"/><line x1="250" y1="352.2" x2="250" y2="354.5" stroke-width="0.95"/><line x1="250.82" y1="352.2" x2="250.82" y2="354.5" stroke-width="0.95"/><line x1="251.55" y1="352.2" x2="251.55" y2="354.5" stroke-width="0.95"/><line x1="252.2" y1="352.2" x2="252.2" y2="355.2"/><line x1="256.47" y1="352.2" x2="256.47" y2="354.5" stroke-width="0.95"/><line x1="258.98" y1="352.2" x2="258.98" y2="354.5" stroke-width="0.95"/><line x1="260.75" y1="352.2" x2="260.75" y2="354.5" stroke-width="0.95"/><line x1="262.13" y1="352.2" x2="262.13" y2="354.5" stroke-width="0.95"/><line x1="263.25" y1="352.2" x2="263.25" y2="354.5" stroke-width="0.95"/><line x1="264.2" y1="352.2" x2="264.2" y2="354.5" stroke-width="0.95"/><line x1="265.02" y1="352.2" x2="265.02" y2="354.5" stroke-width="0.95"/><line x1="265.75" y1="352.2" x2="265.75" y2="354.5" stroke-width="0.95"/><line x1="266.4" y1="352.2" x2="266.4" y2="355.2"/><line x1="270.67" y1="352.2" x2="270.67" y2="354.5" stroke-width="0.95"/><line x1="273.18" y1="352.2" x2="273.18" y2="354.5" stroke-width="0.95"/><line x1="274.95" y1="352.2" x2="274.95" y2="354.5" stroke-width="0.95"/><line x1="276.33" y1="352.2" x2="276.33" y2="354.5" stroke-width="0.95"/><line x1="277.45" y1="352.2" x2="277.45" y2="354.5" stroke-width="0.95"/><line x1="278.4" y1="352.2" x2="278.4" y2="354.5" stroke-width="0.95"/><line x1="279.22" y1="352.2" x2="279.22" y2="354.5" stroke-width="0.95"/><line x1="279.95" y1="352.2" x2="279.95" y2="354.5" stroke-width="0.95"/><line x1="280.6" y1="352.2" x2="280.6" y2="355.2"/><line x1="284.87" y1="352.2" x2="284.87" y2="354.5" stroke-width="0.95"/><line x1="287.38" y1="352.2" x2="287.38" y2="354.5" stroke-width="0.95"/><line x1="289.15" y1="352.2" x2="289.15" y2="354.5" stroke-width="0.95"/><line x1="290.53" y1="352.2" x2="290.53" y2="354.5" stroke-width="0.95"/><line x1="291.65" y1="352.2" x2="291.65" y2="354.5" stroke-width="0.95"/><line x1="292.6" y1="352.2" x2="292.6" y2="354.5" stroke-width="0.95"/><line x1="293.42" y1="352.2" x2="293.42" y2="354.5" stroke-width="0.95"/><line x1="294.15" y1="352.2" x2="294.15" y2="354.5" stroke-width="0.95"/><line x1="294.8" y1="352.2" x2="294.8" y2="355.2"/><line x1="310.8" y1="294.4" x2="310.8" y2="355.2" stroke="#555"/><line x1="307.3" y1="352.2" x2="368.1" y2="352.2"/><line x1="307.3" y1="294.4" x2="310.8" y2="294.4"/><line x1="307.3" y1="308.85" x2="310.8" y2="308.85"/><line x1="307.3" y1="323.3" x2="310.8" y2="323.3"/><line x1="307.3" y1="337.75" x2="310.8" y2="337.75"/><line x1="307.3" y1="352.2" x2="310.8" y2="352.2"/><line x1="310.8" y1="352.2" x2="310.8" y2="355.2"/><line x1="315.07" y1="352.2" x2="315.07" y2="354.5" stroke-width="0.95"/><line x1="317.58" y1="352.2" x2="317.58" y2="354.5" stroke-width="0.95"/><line x1="319.35" y1="352.2" x2="319.35" y2="354.5" stroke-width="0.95"/><line x1="320.73" y1="352.2" x2="320.73" y2="354.5" stroke-width="0.95"/><line x1="321.85" y1="352.2" x2="321.85" y2="354.5" stroke-width="0.95"/><line x1="322.8" y1="352.2" x2="322.8" y2="354.5" stroke-width="0.95"/><line x1="323.62" y1="352.2" x2="323.62" y2="354.5" stroke-width="0.95"/><line x1="324.35" y1="352.2" x2="324.35" y2="354.5" stroke-width="0.95"/><line x1="325" y1="352.2" x2="325" y2="355.2"/><line x1="329.27" y1="352.2" x2="329.27" y2="354.5" stroke-width="0.95"/><line x1="331.78" y1="352.2" x2="331.78" y2="354.5" stroke-width="0.95"/><line x1="333.55" y1="352.2" x2="333.55" y2="354.5" stroke-width="0.95"/><line x1="334.93" y1="352.2" x2="334.93" y2="354.5" stroke-width="0.95"/><line x1="336.05" y1="352.2" x2="336.05" y2="354.5" stroke-width="0.95"/><line x1="337" y1="352.2" x2="337" y2="354.5" stroke-width="0.95"/><line x1="337.82" y1="352.2" x2="337.82" y2="354.5" stroke-width="0.95"/><line x1="338.55" y1="352.2" x2="338.55" y2="354.5" stroke-width="0.95"/><line x1="339.2" y1="352.2" x2="339.2" y2="355.2"/><line x1="343.47" y1="352.2" x2="343.47" y2="354.5" stroke-width="0.95"/><line x1="345.98" y1="352.2" x2="345.98" y2="354.5" stroke-width="0.95"/><line x1="347.75" y1="352.2" x2="347.75" y2="354.5" stroke-width="0.95"/><line x1="349.13" y1="352.2" x2="349.13" y2="354.5" stroke-width="0.95"/><line x1="350.25" y1="352.2" x2="350.25" y2="354.5" stroke-width="0.95"/><line x1="351.2" y1="352.2" x2="351.2" y2="354.5" stroke-width="0.95"/><line x1="352.02" y1="352.2" x2="352.02" y2="354.5" stroke-width="0.95"/><line x1="352.75" y1="352.2" x2="352.75" y2="354.5" stroke-width="0.95"/><line x1="353.4" y1="352.2" x2="353.4" y2="355.2"/><line x1="357.67" y1="352.2" x2="357.67" y2="354.5" stroke-width="0.95"/><line x1="360.18" y1="352.2" x2="360.18" y2="354.5" stroke-width="0.95"/><line x1="361.95" y1="352.2" x2="361.95" y2="354.5" stroke-width="0.95"/><line x1="363.33" y1="352.2" x2="363.33" y2="354.5" stroke-width="0.95"/><line x1="364.45" y1="352.2" x2="364.45" y2="354.5" stroke-width="0.95"/><line x1="365.4" y1="352.2" x2="365.4" y2="354.5" stroke-width="0.95"/><line x1="366.22" y1="352.2" x2="366.22" y2="354.5" stroke-width="0.95"/><line x1="366.95" y1="352.2" x2="366.95" y2="354.5" stroke-width="0.95"/><line x1="367.6" y1="352.2" x2="367.6" y2="355.2"/><line x1="383.3" y1="294.4" x2="383.3" y2="355.2" stroke="#555"/><line x1="379.8" y1="352.2" x2="440.6" y2="352.2"/><line x1="379.8" y1="294.4" x2="383.3" y2="294.4"/><line x1="379.8" y1="313.67" x2="383.3" y2="313.67"/><line x1="379.8" y1="332.93" x2="383.3" y2="332.93"/><line x1="379.8" y1="352.2" x2="383.3" y2="352.2"/><line x1="383.3" y1="352.2" x2="383.3" y2="355.2"/><line x1="387.57" y1="352.2" x2="387.57" y2="354.5" stroke-width="0.95"/><line x1="390.08" y1="352.2" x2="390.08" y2="354.5" stroke-width="0.95"/><line x1="391.85" y1="352.2" x2="391.85" y2="354.5" stroke-width="0.95"/><line x1="393.23" y1="352.2" x2="393.23" y2="354.5" stroke-width="0.95"/><line x1="394.35" y1="352.2" x2="394.35" y2="354.5" stroke-width="0.95"/><line x1="395.3" y1="352.2" x2="395.3" y2="354.5" stroke-width="0.95"/><line x1="396.12" y1="352.2" x2="396.12" y2="354.5" stroke-width="0.95"/><line x1="396.85" y1="352.2" x2="396.85" y2="354.5" stroke-width="0.95"/><line x1="397.5" y1="352.2" x2="397.5" y2="355.2"/><line x1="401.77" y1="352.2" x2="401.77" y2="354.5" stroke-width="0.95"/><line x1="404.28" y1="352.2" x2="404.28" y2="354.5" stroke-width="0.95"/><line x1="406.05" y1="352.2" x2="406.05" y2="354.5" stroke-width="0.95"/><line x1="407.43" y1="352.2" x2="407.43" y2="354.5" stroke-width="0.95"/><line x1="408.55" y1="352.2" x2="408.55" y2="354.5" stroke-width="0.95"/><line x1="409.5" y1="352.2" x2="409.5" y2="354.5" stroke-width="0.95"/><line x1="410.32" y1="352.2" x2="410.32" y2="354.5" stroke-width="0.95"/><line x1="411.05" y1="352.2" x2="411.05" y2="354.5" stroke-width="0.95"/><line x1="411.7" y1="352.2" x2="411.7" y2="355.2"/><line x1="415.97" y1="352.2" x2="415.97" y2="354.5" stroke-width="0.95"/><line x1="418.48" y1="352.2" x2="418.48" y2="354.5" stroke-width="0.95"/><line x1="420.25" y1="352.2" x2="420.25" y2="354.5" stroke-width="0.95"/><line x1="421.63" y1="352.2" x2="421.63" y2="354.5" stroke-width="0.95"/><line x1="422.75" y1="352.2" x2="422.75" y2="354.5" stroke-width="0.95"/><line x1="423.7" y1="352.2" x2="423.7" y2="354.5" stroke-width="0.95"/><line x1="424.52" y1="352.2" x2="424.52" y2="354.5" stroke-width="0.95"/><line x1="425.25" y1="352.2" x2="425.25" y2="354.5" stroke-width="0.95"/><line x1="425.9" y1="352.2" x2="425.9" y2="355.2"/><line x1="430.17" y1="352.2" x2="430.17" y2="354.5" stroke-width="0.95"/><line x1="432.68" y1="352.2" x2="432.68" y2="354.5" stroke-width="0.95"/><line x1="434.45" y1="352.2" x2="434.45" y2="354.5" stroke-width="0.95"/><line x1="435.83" y1="352.2" x2="435.83" y2="354.5" stroke-width="0.95"/><line x1="436.95" y1="352.2" x2="436.95" y2="354.5" stroke-width="0.95"/><line x1="437.9" y1="352.2" x2="437.9" y2="354.5" stroke-width="0.95"/><line x1="438.72" y1="352.2" x2="438.72" y2="354.5" stroke-width="0.95"/><line x1="439.45" y1="352.2" x2="439.45" y2="354.5" stroke-width="0.95"/><line x1="440.1" y1="352.2" x2="440.1" y2="355.2"/><line x1="456" y1="294.4" x2="456" y2="355.2" stroke="#555"/><line x1="452.5" y1="352.2" x2="513.3" y2="352.2"/><line x1="452.5" y1="294.4" x2="456" y2="294.4"/><line x1="452.5" y1="313.67" x2="456" y2="313.67"/><line x1="452.5" y1="332.93" x2="456" y2="332.93"/><line x1="452.5" y1="352.2" x2="456" y2="352.2"/><line x1="456" y1="352.2" x2="456" y2="355.2"/><line x1="460.27" y1="352.2" x2="460.27" y2="354.5" stroke-width="0.95"/><line x1="462.78" y1="352.2" x2="462.78" y2="354.5" stroke-width="0.95"/><line x1="464.55" y1="352.2" x2="464.55" y2="354.5" stroke-width="0.95"/><line x1="465.93" y1="352.2" x2="465.93" y2="354.5" stroke-width="0.95"/><line x1="467.05" y1="352.2" x2="467.05" y2="354.5" stroke-width="0.95"/><line x1="468" y1="352.2" x2="468" y2="354.5" stroke-width="0.95"/><line x1="468.82" y1="352.2" x2="468.82" y2="354.5" stroke-width="0.95"/><line x1="469.55" y1="352.2" x2="469.55" y2="354.5" stroke-width="0.95"/><line x1="470.2" y1="352.2" x2="470.2" y2="355.2"/><line x1="474.47" y1="352.2" x2="474.47" y2="354.5" stroke-width="0.95"/><line x1="476.98" y1="352.2" x2="476.98" y2="354.5" stroke-width="0.95"/><line x1="478.75" y1="352.2" x2="478.75" y2="354.5" stroke-width="0.95"/><line x1="480.13" y1="352.2" x2="480.13" y2="354.5" stroke-width="0.95"/><line x1="481.25" y1="352.2" x2="481.25" y2="354.5" stroke-width="0.95"/><line x1="482.2" y1="352.2" x2="482.2" y2="354.5" stroke-width="0.95"/><line x1="483.02" y1="352.2" x2="483.02" y2="354.5" stroke-width="0.95"/><line x1="483.75" y1="352.2" x2="483.75" y2="354.5" stroke-width="0.95"/><line x1="484.4" y1="352.2" x2="484.4" y2="355.2"/><line x1="488.67" y1="352.2" x2="488.67" y2="354.5" stroke-width="0.95"/><line x1="491.18" y1="352.2" x2="491.18" y2="354.5" stroke-width="0.95"/><line x1="492.95" y1="352.2" x2="492.95" y2="354.5" stroke-width="0.95"/><line x1="494.33" y1="352.2" x2="494.33" y2="354.5" stroke-width="0.95"/><line x1="495.45" y1="352.2" x2="495.45" y2="354.5" stroke-width="0.95"/><line x1="496.4" y1="352.2" x2="496.4" y2="354.5" stroke-width="0.95"/><line x1="497.22" y1="352.2" x2="497.22" y2="354.5" stroke-width="0.95"/><line x1="497.95" y1="352.2" x2="497.95" y2="354.5" stroke-width="0.95"/><line x1="498.6" y1="352.2" x2="498.6" y2="355.2"/><line x1="502.87" y1="352.2" x2="502.87" y2="354.5" stroke-width="0.95"/><line x1="505.38" y1="352.2" x2="505.38" y2="354.5" stroke-width="0.95"/><line x1="507.15" y1="352.2" x2="507.15" y2="354.5" stroke-width="0.95"/><line x1="508.53" y1="352.2" x2="508.53" y2="354.5" stroke-width="0.95"/><line x1="509.65" y1="352.2" x2="509.65" y2="354.5" stroke-width="0.95"/><line x1="510.6" y1="352.2" x2="510.6" y2="354.5" stroke-width="0.95"/><line x1="511.42" y1="352.2" x2="511.42" y2="354.5" stroke-width="0.95"/><line x1="512.15" y1="352.2" x2="512.15" y2="354.5" stroke-width="0.95"/><line x1="512.8" y1="352.2" x2="512.8" y2="355.2"/><line x1="92.75" y1="397.1" x2="92.75" y2="457.5" stroke="#555"/><line x1="89.25" y1="454.5" x2="150.05" y2="454.5"/><line x1="89.25" y1="397.1" x2="92.75" y2="397.1"/><line x1="89.25" y1="425.8" x2="92.75" y2="425.8"/><line x1="89.25" y1="454.5" x2="92.75" y2="454.5"/><line x1="92.75" y1="454.5" x2="92.75" y2="457.5"/><line x1="97.02" y1="454.5" x2="97.02" y2="456.8" stroke-width="0.95"/><line x1="99.53" y1="454.5" x2="99.53" y2="456.8" stroke-width="0.95"/><line x1="101.3" y1="454.5" x2="101.3" y2="456.8" stroke-width="0.95"/><line x1="102.68" y1="454.5" x2="102.68" y2="456.8" stroke-width="0.95"/><line x1="103.8" y1="454.5" x2="103.8" y2="456.8" stroke-width="0.95"/><line x1="104.75" y1="454.5" x2="104.75" y2="456.8" stroke-width="0.95"/><line x1="105.57" y1="454.5" x2="105.57" y2="456.8" stroke-width="0.95"/><line x1="106.3" y1="454.5" x2="106.3" y2="456.8" stroke-width="0.95"/><line x1="106.95" y1="454.5" x2="106.95" y2="457.5"/><line x1="111.22" y1="454.5" x2="111.22" y2="456.8" stroke-width="0.95"/><line x1="113.73" y1="454.5" x2="113.73" y2="456.8" stroke-width="0.95"/><line x1="115.5" y1="454.5" x2="115.5" y2="456.8" stroke-width="0.95"/><line x1="116.88" y1="454.5" x2="116.88" y2="456.8" stroke-width="0.95"/><line x1="118" y1="454.5" x2="118" y2="456.8" stroke-width="0.95"/><line x1="118.95" y1="454.5" x2="118.95" y2="456.8" stroke-width="0.95"/><line x1="119.77" y1="454.5" x2="119.77" y2="456.8" stroke-width="0.95"/><line x1="120.5" y1="454.5" x2="120.5" y2="456.8" stroke-width="0.95"/><line x1="121.15" y1="454.5" x2="121.15" y2="457.5"/><line x1="125.42" y1="454.5" x2="125.42" y2="456.8" stroke-width="0.95"/><line x1="127.93" y1="454.5" x2="127.93" y2="456.8" stroke-width="0.95"/><line x1="129.7" y1="454.5" x2="129.7" y2="456.8" stroke-width="0.95"/><line x1="131.08" y1="454.5" x2="131.08" y2="456.8" stroke-width="0.95"/><line x1="132.2" y1="454.5" x2="132.2" y2="456.8" stroke-width="0.95"/><line x1="133.15" y1="454.5" x2="133.15" y2="456.8" stroke-width="0.95"/><line x1="133.97" y1="454.5" x2="133.97" y2="456.8" stroke-width="0.95"/><line x1="134.7" y1="454.5" x2="134.7" y2="456.8" stroke-width="0.95"/><line x1="135.35" y1="454.5" x2="135.35" y2="457.5"/><line x1="139.62" y1="454.5" x2="139.62" y2="456.8" stroke-width="0.95"/><line x1="142.13" y1="454.5" x2="142.13" y2="456.8" stroke-width="0.95"/><line x1="143.9" y1="454.5" x2="143.9" y2="456.8" stroke-width="0.95"/><line x1="145.28" y1="454.5" x2="145.28" y2="456.8" stroke-width="0.95"/><line x1="146.4" y1="454.5" x2="146.4" y2="456.8" stroke-width="0.95"/><line x1="147.35" y1="454.5" x2="147.35" y2="456.8" stroke-width="0.95"/><line x1="148.17" y1="454.5" x2="148.17" y2="456.8" stroke-width="0.95"/><line x1="148.9" y1="454.5" x2="148.9" y2="456.8" stroke-width="0.95"/><line x1="149.55" y1="454.5" x2="149.55" y2="457.5"/><line x1="165.4" y1="397.1" x2="165.4" y2="457.5" stroke="#555"/><line x1="161.9" y1="454.5" x2="222.7" y2="454.5"/><line x1="161.9" y1="397.1" x2="165.4" y2="397.1"/><line x1="161.9" y1="425.8" x2="165.4" y2="425.8"/><line x1="161.9" y1="454.5" x2="165.4" y2="454.5"/><line x1="165.4" y1="454.5" x2="165.4" y2="457.5"/><line x1="169.67" y1="454.5" x2="169.67" y2="456.8" stroke-width="0.95"/><line x1="172.18" y1="454.5" x2="172.18" y2="456.8" stroke-width="0.95"/><line x1="173.95" y1="454.5" x2="173.95" y2="456.8" stroke-width="0.95"/><line x1="175.33" y1="454.5" x2="175.33" y2="456.8" stroke-width="0.95"/><line x1="176.45" y1="454.5" x2="176.45" y2="456.8" stroke-width="0.95"/><line x1="177.4" y1="454.5" x2="177.4" y2="456.8" stroke-width="0.95"/><line x1="178.22" y1="454.5" x2="178.22" y2="456.8" stroke-width="0.95"/><line x1="178.95" y1="454.5" x2="178.95" y2="456.8" stroke-width="0.95"/><line x1="179.6" y1="454.5" x2="179.6" y2="457.5"/><line x1="183.87" y1="454.5" x2="183.87" y2="456.8" stroke-width="0.95"/><line x1="186.38" y1="454.5" x2="186.38" y2="456.8" stroke-width="0.95"/><line x1="188.15" y1="454.5" x2="188.15" y2="456.8" stroke-width="0.95"/><line x1="189.53" y1="454.5" x2="189.53" y2="456.8" stroke-width="0.95"/><line x1="190.65" y1="454.5" x2="190.65" y2="456.8" stroke-width="0.95"/><line x1="191.6" y1="454.5" x2="191.6" y2="456.8" stroke-width="0.95"/><line x1="192.42" y1="454.5" x2="192.42" y2="456.8" stroke-width="0.95"/><line x1="193.15" y1="454.5" x2="193.15" y2="456.8" stroke-width="0.95"/><line x1="193.8" y1="454.5" x2="193.8" y2="457.5"/><line x1="198.07" y1="454.5" x2="198.07" y2="456.8" stroke-width="0.95"/><line x1="200.58" y1="454.5" x2="200.58" y2="456.8" stroke-width="0.95"/><line x1="202.35" y1="454.5" x2="202.35" y2="456.8" stroke-width="0.95"/><line x1="203.73" y1="454.5" x2="203.73" y2="456.8" stroke-width="0.95"/><line x1="204.85" y1="454.5" x2="204.85" y2="456.8" stroke-width="0.95"/><line x1="205.8" y1="454.5" x2="205.8" y2="456.8" stroke-width="0.95"/><line x1="206.62" y1="454.5" x2="206.62" y2="456.8" stroke-width="0.95"/><line x1="207.35" y1="454.5" x2="207.35" y2="456.8" stroke-width="0.95"/><line x1="208" y1="454.5" x2="208" y2="457.5"/><line x1="212.27" y1="454.5" x2="212.27" y2="456.8" stroke-width="0.95"/><line x1="214.78" y1="454.5" x2="214.78" y2="456.8" stroke-width="0.95"/><line x1="216.55" y1="454.5" x2="216.55" y2="456.8" stroke-width="0.95"/><line x1="217.93" y1="454.5" x2="217.93" y2="456.8" stroke-width="0.95"/><line x1="219.05" y1="454.5" x2="219.05" y2="456.8" stroke-width="0.95"/><line x1="220" y1="454.5" x2="220" y2="456.8" stroke-width="0.95"/><line x1="220.82" y1="454.5" x2="220.82" y2="456.8" stroke-width="0.95"/><line x1="221.55" y1="454.5" x2="221.55" y2="456.8" stroke-width="0.95"/><line x1="222.2" y1="454.5" x2="222.2" y2="457.5"/><line x1="238" y1="397.1" x2="238" y2="457.5" stroke="#555"/><line x1="234.5" y1="454.5" x2="295.3" y2="454.5"/><line x1="234.5" y1="397.1" x2="238" y2="397.1"/><line x1="234.5" y1="416.23" x2="238" y2="416.23"/><line x1="234.5" y1="435.37" x2="238" y2="435.37"/><line x1="234.5" y1="454.5" x2="238" y2="454.5"/><line x1="238" y1="454.5" x2="238" y2="457.5"/><line x1="242.27" y1="454.5" x2="242.27" y2="456.8" stroke-width="0.95"/><line x1="244.78" y1="454.5" x2="244.78" y2="456.8" stroke-width="0.95"/><line x1="246.55" y1="454.5" x2="246.55" y2="456.8" stroke-width="0.95"/><line x1="247.93" y1="454.5" x2="247.93" y2="456.8" stroke-width="0.95"/><line x1="249.05" y1="454.5" x2="249.05" y2="456.8" stroke-width="0.95"/><line x1="250" y1="454.5" x2="250" y2="456.8" stroke-width="0.95"/><line x1="250.82" y1="454.5" x2="250.82" y2="456.8" stroke-width="0.95"/><line x1="251.55" y1="454.5" x2="251.55" y2="456.8" stroke-width="0.95"/><line x1="252.2" y1="454.5" x2="252.2" y2="457.5"/><line x1="256.47" y1="454.5" x2="256.47" y2="456.8" stroke-width="0.95"/><line x1="258.98" y1="454.5" x2="258.98" y2="456.8" stroke-width="0.95"/><line x1="260.75" y1="454.5" x2="260.75" y2="456.8" stroke-width="0.95"/><line x1="262.13" y1="454.5" x2="262.13" y2="456.8" stroke-width="0.95"/><line x1="263.25" y1="454.5" x2="263.25" y2="456.8" stroke-width="0.95"/><line x1="264.2" y1="454.5" x2="264.2" y2="456.8" stroke-width="0.95"/><line x1="265.02" y1="454.5" x2="265.02" y2="456.8" stroke-width="0.95"/><line x1="265.75" y1="454.5" x2="265.75" y2="456.8" stroke-width="0.95"/><line x1="266.4" y1="454.5" x2="266.4" y2="457.5"/><line x1="270.67" y1="454.5" x2="270.67" y2="456.8" stroke-width="0.95"/><line x1="273.18" y1="454.5" x2="273.18" y2="456.8" stroke-width="0.95"/><line x1="274.95" y1="454.5" x2="274.95" y2="456.8" stroke-width="0.95"/><line x1="276.33" y1="454.5" x2="276.33" y2="456.8" stroke-width="0.95"/><line x1="277.45" y1="454.5" x2="277.45" y2="456.8" stroke-width="0.95"/><line x1="278.4" y1="454.5" x2="278.4" y2="456.8" stroke-width="0.95"/><line x1="279.22" y1="454.5" x2="279.22" y2="456.8" stroke-width="0.95"/><line x1="279.95" y1="454.5" x2="279.95" y2="456.8" stroke-width="0.95"/><line x1="280.6" y1="454.5" x2="280.6" y2="457.5"/><line x1="284.87" y1="454.5" x2="284.87" y2="456.8" stroke-width="0.95"/><line x1="287.38" y1="454.5" x2="287.38" y2="456.8" stroke-width="0.95"/><line x1="289.15" y1="454.5" x2="289.15" y2="456.8" stroke-width="0.95"/><line x1="290.53" y1="454.5" x2="290.53" y2="456.8" stroke-width="0.95"/><line x1="291.65" y1="454.5" x2="291.65" y2="456.8" stroke-width="0.95"/><line x1="292.6" y1="454.5" x2="292.6" y2="456.8" stroke-width="0.95"/><line x1="293.42" y1="454.5" x2="293.42" y2="456.8" stroke-width="0.95"/><line x1="294.15" y1="454.5" x2="294.15" y2="456.8" stroke-width="0.95"/><line x1="294.8" y1="454.5" x2="294.8" y2="457.5"/><line x1="310.8" y1="397.1" x2="310.8" y2="457.5" stroke="#555"/><line x1="307.3" y1="454.5" x2="368.1" y2="454.5"/><line x1="307.3" y1="397.1" x2="310.8" y2="397.1"/><line x1="307.3" y1="425.8" x2="310.8" y2="425.8"/><line x1="307.3" y1="454.5" x2="310.8" y2="454.5"/><line x1="310.8" y1="454.5" x2="310.8" y2="457.5"/><line x1="315.07" y1="454.5" x2="315.07" y2="456.8" stroke-width="0.95"/><line x1="317.58" y1="454.5" x2="317.58" y2="456.8" stroke-width="0.95"/><line x1="319.35" y1="454.5" x2="319.35" y2="456.8" stroke-width="0.95"/><line x1="320.73" y1="454.5" x2="320.73" y2="456.8" stroke-width="0.95"/><line x1="321.85" y1="454.5" x2="321.85" y2="456.8" stroke-width="0.95"/><line x1="322.8" y1="454.5" x2="322.8" y2="456.8" stroke-width="0.95"/><line x1="323.62" y1="454.5" x2="323.62" y2="456.8" stroke-width="0.95"/><line x1="324.35" y1="454.5" x2="324.35" y2="456.8" stroke-width="0.95"/><line x1="325" y1="454.5" x2="325" y2="457.5"/><line x1="329.27" y1="454.5" x2="329.27" y2="456.8" stroke-width="0.95"/><line x1="331.78" y1="454.5" x2="331.78" y2="456.8" stroke-width="0.95"/><line x1="333.55" y1="454.5" x2="333.55" y2="456.8" stroke-width="0.95"/><line x1="334.93" y1="454.5" x2="334.93" y2="456.8" stroke-width="0.95"/><line x1="336.05" y1="454.5" x2="336.05" y2="456.8" stroke-width="0.95"/><line x1="337" y1="454.5" x2="337" y2="456.8" stroke-width="0.95"/><line x1="337.82" y1="454.5" x2="337.82" y2="456.8" stroke-width="0.95"/><line x1="338.55" y1="454.5" x2="338.55" y2="456.8" stroke-width="0.95"/><line x1="339.2" y1="454.5" x2="339.2" y2="457.5"/><line x1="343.47" y1="454.5" x2="343.47" y2="456.8" stroke-width="0.95"/><line x1="345.98" y1="454.5" x2="345.98" y2="456.8" stroke-width="0.95"/><line x1="347.75" y1="454.5" x2="347.75" y2="456.8" stroke-width="0.95"/><line x1="349.13" y1="454.5" x2="349.13" y2="456.8" stroke-width="0.95"/><line x1="350.25" y1="454.5" x2="350.25" y2="456.8" stroke-width="0.95"/><line x1="351.2" y1="454.5" x2="351.2" y2="456.8" stroke-width="0.95"/><line x1="352.02" y1="454.5" x2="352.02" y2="456.8" stroke-width="0.95"/><line x1="352.75" y1="454.5" x2="352.75" y2="456.8" stroke-width="0.95"/><line x1="353.4" y1="454.5" x2="353.4" y2="457.5"/><line x1="357.67" y1="454.5" x2="357.67" y2="456.8" stroke-width="0.95"/><line x1="360.18" y1="454.5" x2="360.18" y2="456.8" stroke-width="0.95"/><line x1="361.95" y1="454.5" x2="361.95" y2="456.8" stroke-width="0.95"/><line x1="363.33" y1="454.5" x2="363.33" y2="456.8" stroke-width="0.95"/><line x1="364.45" y1="454.5" x2="364.45" y2="456.8" stroke-width="0.95"/><line x1="365.4" y1="454.5" x2="365.4" y2="456.8" stroke-width="0.95"/><line x1="366.22" y1="454.5" x2="366.22" y2="456.8" stroke-width="0.95"/><line x1="366.95" y1="454.5" x2="366.95" y2="456.8" stroke-width="0.95"/><line x1="367.6" y1="454.5" x2="367.6" y2="457.5"/><line x1="383.3" y1="397.1" x2="383.3" y2="457.5" stroke="#555"/><line x1="379.8" y1="454.5" x2="440.6" y2="454.5"/><line x1="379.8" y1="397.1" x2="383.3" y2="397.1"/><line x1="379.8" y1="416.23" x2="383.3" y2="416.23"/><line x1="379.8" y1="435.37" x2="383.3" y2="435.37"/><line x1="379.8" y1="454.5" x2="383.3" y2="454.5"/><line x1="383.3" y1="454.5" x2="383.3" y2="457.5"/><line x1="387.57" y1="454.5" x2="387.57" y2="456.8" stroke-width="0.95"/><line x1="390.08" y1="454.5" x2="390.08" y2="456.8" stroke-width="0.95"/><line x1="391.85" y1="454.5" x2="391.85" y2="456.8" stroke-width="0.95"/><line x1="393.23" y1="454.5" x2="393.23" y2="456.8" stroke-width="0.95"/><line x1="394.35" y1="454.5" x2="394.35" y2="456.8" stroke-width="0.95"/><line x1="395.3" y1="454.5" x2="395.3" y2="456.8" stroke-width="0.95"/><line x1="396.12" y1="454.5" x2="396.12" y2="456.8" stroke-width="0.95"/><line x1="396.85" y1="454.5" x2="396.85" y2="456.8" stroke-width="0.95"/><line x1="397.5" y1="454.5" x2="397.5" y2="457.5"/><line x1="401.77" y1="454.5" x2="401.77" y2="456.8" stroke-width="0.95"/><line x1="404.28" y1="454.5" x2="404.28" y2="456.8" stroke-width="0.95"/><line x1="406.05" y1="454.5" x2="406.05" y2="456.8" stroke-width="0.95"/><line x1="407.43" y1="454.5" x2="407.43" y2="456.8" stroke-width="0.95"/><line x1="408.55" y1="454.5" x2="408.55" y2="456.8" stroke-width="0.95"/><line x1="409.5" y1="454.5" x2="409.5" y2="456.8" stroke-width="0.95"/><line x1="410.32" y1="454.5" x2="410.32" y2="456.8" stroke-width="0.95"/><line x1="411.05" y1="454.5" x2="411.05" y2="456.8" stroke-width="0.95"/><line x1="411.7" y1="454.5" x2="411.7" y2="457.5"/><line x1="415.97" y1="454.5" x2="415.97" y2="456.8" stroke-width="0.95"/><line x1="418.48" y1="454.5" x2="418.48" y2="456.8" stroke-width="0.95"/><line x1="420.25" y1="454.5" x2="420.25" y2="456.8" stroke-width="0.95"/><line x1="421.63" y1="454.5" x2="421.63" y2="456.8" stroke-width="0.95"/><line x1="422.75" y1="454.5" x2="422.75" y2="456.8" stroke-width="0.95"/><line x1="423.7" y1="454.5" x2="423.7" y2="456.8" stroke-width="0.95"/><line x1="424.52" y1="454.5" x2="424.52" y2="456.8" stroke-width="0.95"/><line x1="425.25" y1="454.5" x2="425.25" y2="456.8" stroke-width="0.95"/><line x1="425.9" y1="454.5" x2="425.9" y2="457.5"/><line x1="430.17" y1="454.5" x2="430.17" y2="456.8" stroke-width="0.95"/><line x1="432.68" y1="454.5" x2="432.68" y2="456.8" stroke-width="0.95"/><line x1="434.45" y1="454.5" x2="434.45" y2="456.8" stroke-width="0.95"/><line x1="435.83" y1="454.5" x2="435.83" y2="456.8" stroke-width="0.95"/><line x1="436.95" y1="454.5" x2="436.95" y2="456.8" stroke-width="0.95"/><line x1="437.9" y1="454.5" x2="437.9" y2="456.8" stroke-width="0.95"/><line x1="438.72" y1="454.5" x2="438.72" y2="456.8" stroke-width="0.95"/><line x1="439.45" y1="454.5" x2="439.45" y2="456.8" stroke-width="0.95"/><line x1="440.1" y1="454.5" x2="440.1" y2="457.5"/><line x1="456" y1="397.1" x2="456" y2="457.5" stroke="#555"/><line x1="452.5" y1="454.5" x2="513.3" y2="454.5"/><line x1="452.5" y1="397.1" x2="456" y2="397.1"/><line x1="452.5" y1="416.23" x2="456" y2="416.23"/><line x1="452.5" y1="435.37" x2="456" y2="435.37"/><line x1="452.5" y1="454.5" x2="456" y2="454.5"/><line x1="456" y1="454.5" x2="456" y2="457.5"/><line x1="460.27" y1="454.5" x2="460.27" y2="456.8" stroke-width="0.95"/><line x1="462.78" y1="454.5" x2="462.78" y2="456.8" stroke-width="0.95"/><line x1="464.55" y1="454.5" x2="464.55" y2="456.8" stroke-width="0.95"/><line x1="465.93" y1="454.5" x2="465.93" y2="456.8" stroke-width="0.95"/><line x1="467.05" y1="454.5" x2="467.05" y2="456.8" stroke-width="0.95"/><line x1="468" y1="454.5" x2="468" y2="456.8" stroke-width="0.95"/><line x1="468.82" y1="454.5" x2="468.82" y2="456.8" stroke-width="0.95"/><line x1="469.55" y1="454.5" x2="469.55" y2="456.8" stroke-width="0.95"/><line x1="470.2" y1="454.5" x2="470.2" y2="457.5"/><line x1="474.47" y1="454.5" x2="474.47" y2="456.8" stroke-width="0.95"/><line x1="476.98" y1="454.5" x2="476.98" y2="456.8" stroke-width="0.95"/><line x1="478.75" y1="454.5" x2="478.75" y2="456.8" stroke-width="0.95"/><line x1="480.13" y1="454.5" x2="480.13" y2="456.8" stroke-width="0.95"/><line x1="481.25" y1="454.5" x2="481.25" y2="456.8" stroke-width="0.95"/><line x1="482.2" y1="454.5" x2="482.2" y2="456.8" stroke-width="0.95"/><line x1="483.02" y1="454.5" x2="483.02" y2="456.8" stroke-width="0.95"/><line x1="483.75" y1="454.5" x2="483.75" y2="456.8" stroke-width="0.95"/><line x1="484.4" y1="454.5" x2="484.4" y2="457.5"/><line x1="488.67" y1="454.5" x2="488.67" y2="456.8" stroke-width="0.95"/><line x1="491.18" y1="454.5" x2="491.18" y2="456.8" stroke-width="0.95"/><line x1="492.95" y1="454.5" x2="492.95" y2="456.8" stroke-width="0.95"/><line x1="494.33" y1="454.5" x2="494.33" y2="456.8" stroke-width="0.95"/><line x1="495.45" y1="454.5" x2="495.45" y2="456.8" stroke-width="0.95"/><line x1="496.4" y1="454.5" x2="496.4" y2="456.8" stroke-width="0.95"/><line x1="497.22" y1="454.5" x2="497.22" y2="456.8" stroke-width="0.95"/><line x1="497.95" y1="454.5" x2="497.95" y2="456.8" stroke-width="0.95"/><line x1="498.6" y1="454.5" x2="498.6" y2="457.5"/><line x1="502.87" y1="454.5" x2="502.87" y2="456.8" stroke-width="0.95"/><line x1="505.38" y1="454.5" x2="505.38" y2="456.8" stroke-width="0.95"/><line x1="507.15" y1="454.5" x2="507.15" y2="456.8" stroke-width="0.95"/><line x1="508.53" y1="454.5" x2="508.53" y2="456.8" stroke-width="0.95"/><line x1="509.65" y1="454.5" x2="509.65" y2="456.8" stroke-width="0.95"/><line x1="510.6" y1="454.5" x2="510.6" y2="456.8" stroke-width="0.95"/><line x1="511.42" y1="454.5" x2="511.42" y2="456.8" stroke-width="0.95"/><line x1="512.15" y1="454.5" x2="512.15" y2="456.8" stroke-width="0.95"/><line x1="512.8" y1="454.5" x2="512.8" y2="457.5"/><line x1="92.75" y1="478.6" x2="92.75" y2="538.4" stroke="#555"/><line x1="89.25" y1="535.4" x2="150.05" y2="535.4"/><line x1="89.25" y1="478.6" x2="92.75" y2="478.6"/><line x1="89.25" y1="497.53" x2="92.75" y2="497.53"/><line x1="89.25" y1="516.47" x2="92.75" y2="516.47"/><line x1="89.25" y1="535.4" x2="92.75" y2="535.4"/><line x1="92.75" y1="535.4" x2="92.75" y2="538.4"/><line x1="97.02" y1="535.4" x2="97.02" y2="537.7" stroke-width="0.95"/><line x1="99.53" y1="535.4" x2="99.53" y2="537.7" stroke-width="0.95"/><line x1="101.3" y1="535.4" x2="101.3" y2="537.7" stroke-width="0.95"/><line x1="102.68" y1="535.4" x2="102.68" y2="537.7" stroke-width="0.95"/><line x1="103.8" y1="535.4" x2="103.8" y2="537.7" stroke-width="0.95"/><line x1="104.75" y1="535.4" x2="104.75" y2="537.7" stroke-width="0.95"/><line x1="105.57" y1="535.4" x2="105.57" y2="537.7" stroke-width="0.95"/><line x1="106.3" y1="535.4" x2="106.3" y2="537.7" stroke-width="0.95"/><line x1="106.95" y1="535.4" x2="106.95" y2="538.4"/><line x1="111.22" y1="535.4" x2="111.22" y2="537.7" stroke-width="0.95"/><line x1="113.73" y1="535.4" x2="113.73" y2="537.7" stroke-width="0.95"/><line x1="115.5" y1="535.4" x2="115.5" y2="537.7" stroke-width="0.95"/><line x1="116.88" y1="535.4" x2="116.88" y2="537.7" stroke-width="0.95"/><line x1="118" y1="535.4" x2="118" y2="537.7" stroke-width="0.95"/><line x1="118.95" y1="535.4" x2="118.95" y2="537.7" stroke-width="0.95"/><line x1="119.77" y1="535.4" x2="119.77" y2="537.7" stroke-width="0.95"/><line x1="120.5" y1="535.4" x2="120.5" y2="537.7" stroke-width="0.95"/><line x1="121.15" y1="535.4" x2="121.15" y2="538.4"/><line x1="125.42" y1="535.4" x2="125.42" y2="537.7" stroke-width="0.95"/><line x1="127.93" y1="535.4" x2="127.93" y2="537.7" stroke-width="0.95"/><line x1="129.7" y1="535.4" x2="129.7" y2="537.7" stroke-width="0.95"/><line x1="131.08" y1="535.4" x2="131.08" y2="537.7" stroke-width="0.95"/><line x1="132.2" y1="535.4" x2="132.2" y2="537.7" stroke-width="0.95"/><line x1="133.15" y1="535.4" x2="133.15" y2="537.7" stroke-width="0.95"/><line x1="133.97" y1="535.4" x2="133.97" y2="537.7" stroke-width="0.95"/><line x1="134.7" y1="535.4" x2="134.7" y2="537.7" stroke-width="0.95"/><line x1="135.35" y1="535.4" x2="135.35" y2="538.4"/><line x1="139.62" y1="535.4" x2="139.62" y2="537.7" stroke-width="0.95"/><line x1="142.13" y1="535.4" x2="142.13" y2="537.7" stroke-width="0.95"/><line x1="143.9" y1="535.4" x2="143.9" y2="537.7" stroke-width="0.95"/><line x1="145.28" y1="535.4" x2="145.28" y2="537.7" stroke-width="0.95"/><line x1="146.4" y1="535.4" x2="146.4" y2="537.7" stroke-width="0.95"/><line x1="147.35" y1="535.4" x2="147.35" y2="537.7" stroke-width="0.95"/><line x1="148.17" y1="535.4" x2="148.17" y2="537.7" stroke-width="0.95"/><line x1="148.9" y1="535.4" x2="148.9" y2="537.7" stroke-width="0.95"/><line x1="149.55" y1="535.4" x2="149.55" y2="538.4"/><line x1="165.4" y1="477.4" x2="165.4" y2="537.6" stroke="#555"/><line x1="161.9" y1="534.6" x2="222.7" y2="534.6"/><line x1="161.9" y1="477.4" x2="165.4" y2="477.4"/><line x1="161.9" y1="496.47" x2="165.4" y2="496.47"/><line x1="161.9" y1="515.53" x2="165.4" y2="515.53"/><line x1="161.9" y1="534.6" x2="165.4" y2="534.6"/><line x1="165.4" y1="534.6" x2="165.4" y2="537.6"/><line x1="169.67" y1="534.6" x2="169.67" y2="536.9" stroke-width="0.95"/><line x1="172.18" y1="534.6" x2="172.18" y2="536.9" stroke-width="0.95"/><line x1="173.95" y1="534.6" x2="173.95" y2="536.9" stroke-width="0.95"/><line x1="175.33" y1="534.6" x2="175.33" y2="536.9" stroke-width="0.95"/><line x1="176.45" y1="534.6" x2="176.45" y2="536.9" stroke-width="0.95"/><line x1="177.4" y1="534.6" x2="177.4" y2="536.9" stroke-width="0.95"/><line x1="178.22" y1="534.6" x2="178.22" y2="536.9" stroke-width="0.95"/><line x1="178.95" y1="534.6" x2="178.95" y2="536.9" stroke-width="0.95"/><line x1="179.6" y1="534.6" x2="179.6" y2="537.6"/><line x1="183.87" y1="534.6" x2="183.87" y2="536.9" stroke-width="0.95"/><line x1="186.38" y1="534.6" x2="186.38" y2="536.9" stroke-width="0.95"/><line x1="188.15" y1="534.6" x2="188.15" y2="536.9" stroke-width="0.95"/><line x1="189.53" y1="534.6" x2="189.53" y2="536.9" stroke-width="0.95"/><line x1="190.65" y1="534.6" x2="190.65" y2="536.9" stroke-width="0.95"/><line x1="191.6" y1="534.6" x2="191.6" y2="536.9" stroke-width="0.95"/><line x1="192.42" y1="534.6" x2="192.42" y2="536.9" stroke-width="0.95"/><line x1="193.15" y1="534.6" x2="193.15" y2="536.9" stroke-width="0.95"/><line x1="193.8" y1="534.6" x2="193.8" y2="537.6"/><line x1="198.07" y1="534.6" x2="198.07" y2="536.9" stroke-width="0.95"/><line x1="200.58" y1="534.6" x2="200.58" y2="536.9" stroke-width="0.95"/><line x1="202.35" y1="534.6" x2="202.35" y2="536.9" stroke-width="0.95"/><line x1="203.73" y1="534.6" x2="203.73" y2="536.9" stroke-width="0.95"/><line x1="204.85" y1="534.6" x2="204.85" y2="536.9" stroke-width="0.95"/><line x1="205.8" y1="534.6" x2="205.8" y2="536.9" stroke-width="0.95"/><line x1="206.62" y1="534.6" x2="206.62" y2="536.9" stroke-width="0.95"/><line x1="207.35" y1="534.6" x2="207.35" y2="536.9" stroke-width="0.95"/><line x1="208" y1="534.6" x2="208" y2="537.6"/><line x1="212.27" y1="534.6" x2="212.27" y2="536.9" stroke-width="0.95"/><line x1="214.78" y1="534.6" x2="214.78" y2="536.9" stroke-width="0.95"/><line x1="216.55" y1="534.6" x2="216.55" y2="536.9" stroke-width="0.95"/><line x1="217.93" y1="534.6" x2="217.93" y2="536.9" stroke-width="0.95"/><line x1="219.05" y1="534.6" x2="219.05" y2="536.9" stroke-width="0.95"/><line x1="220" y1="534.6" x2="220" y2="536.9" stroke-width="0.95"/><line x1="220.82" y1="534.6" x2="220.82" y2="536.9" stroke-width="0.95"/><line x1="221.55" y1="534.6" x2="221.55" y2="536.9" stroke-width="0.95"/><line x1="222.2" y1="534.6" x2="222.2" y2="537.6"/><line x1="238" y1="476.4" x2="238" y2="536.7" stroke="#555"/><line x1="234.5" y1="533.7" x2="295.3" y2="533.7"/><line x1="234.5" y1="476.4" x2="238" y2="476.4"/><line x1="234.5" y1="487.86" x2="238" y2="487.86"/><line x1="234.5" y1="499.32" x2="238" y2="499.32"/><line x1="234.5" y1="510.78" x2="238" y2="510.78"/><line x1="234.5" y1="522.24" x2="238" y2="522.24"/><line x1="234.5" y1="533.7" x2="238" y2="533.7"/><line x1="238" y1="533.7" x2="238" y2="536.7"/><line x1="242.27" y1="533.7" x2="242.27" y2="536" stroke-width="0.95"/><line x1="244.78" y1="533.7" x2="244.78" y2="536" stroke-width="0.95"/><line x1="246.55" y1="533.7" x2="246.55" y2="536" stroke-width="0.95"/><line x1="247.93" y1="533.7" x2="247.93" y2="536" stroke-width="0.95"/><line x1="249.05" y1="533.7" x2="249.05" y2="536" stroke-width="0.95"/><line x1="250" y1="533.7" x2="250" y2="536" stroke-width="0.95"/><line x1="250.82" y1="533.7" x2="250.82" y2="536" stroke-width="0.95"/><line x1="251.55" y1="533.7" x2="251.55" y2="536" stroke-width="0.95"/><line x1="252.2" y1="533.7" x2="252.2" y2="536.7"/><line x1="256.47" y1="533.7" x2="256.47" y2="536" stroke-width="0.95"/><line x1="258.98" y1="533.7" x2="258.98" y2="536" stroke-width="0.95"/><line x1="260.75" y1="533.7" x2="260.75" y2="536" stroke-width="0.95"/><line x1="262.13" y1="533.7" x2="262.13" y2="536" stroke-width="0.95"/><line x1="263.25" y1="533.7" x2="263.25" y2="536" stroke-width="0.95"/><line x1="264.2" y1="533.7" x2="264.2" y2="536" stroke-width="0.95"/><line x1="265.02" y1="533.7" x2="265.02" y2="536" stroke-width="0.95"/><line x1="265.75" y1="533.7" x2="265.75" y2="536" stroke-width="0.95"/><line x1="266.4" y1="533.7" x2="266.4" y2="536.7"/><line x1="270.67" y1="533.7" x2="270.67" y2="536" stroke-width="0.95"/><line x1="273.18" y1="533.7" x2="273.18" y2="536" stroke-width="0.95"/><line x1="274.95" y1="533.7" x2="274.95" y2="536" stroke-width="0.95"/><line x1="276.33" y1="533.7" x2="276.33" y2="536" stroke-width="0.95"/><line x1="277.45" y1="533.7" x2="277.45" y2="536" stroke-width="0.95"/><line x1="278.4" y1="533.7" x2="278.4" y2="536" stroke-width="0.95"/><line x1="279.22" y1="533.7" x2="279.22" y2="536" stroke-width="0.95"/><line x1="279.95" y1="533.7" x2="279.95" y2="536" stroke-width="0.95"/><line x1="280.6" y1="533.7" x2="280.6" y2="536.7"/><line x1="284.87" y1="533.7" x2="284.87" y2="536" stroke-width="0.95"/><line x1="287.38" y1="533.7" x2="287.38" y2="536" stroke-width="0.95"/><line x1="289.15" y1="533.7" x2="289.15" y2="536" stroke-width="0.95"/><line x1="290.53" y1="533.7" x2="290.53" y2="536" stroke-width="0.95"/><line x1="291.65" y1="533.7" x2="291.65" y2="536" stroke-width="0.95"/><line x1="292.6" y1="533.7" x2="292.6" y2="536" stroke-width="0.95"/><line x1="293.42" y1="533.7" x2="293.42" y2="536" stroke-width="0.95"/><line x1="294.15" y1="533.7" x2="294.15" y2="536" stroke-width="0.95"/><line x1="294.8" y1="533.7" x2="294.8" y2="536.7"/><line x1="310.8" y1="475.7" x2="310.8" y2="535.9" stroke="#555"/><line x1="307.3" y1="532.9" x2="368.1" y2="532.9"/><line x1="307.3" y1="475.7" x2="310.8" y2="475.7"/><line x1="307.3" y1="494.77" x2="310.8" y2="494.77"/><line x1="307.3" y1="513.83" x2="310.8" y2="513.83"/><line x1="307.3" y1="532.9" x2="310.8" y2="532.9"/><line x1="310.8" y1="532.9" x2="310.8" y2="535.9"/><line x1="315.07" y1="532.9" x2="315.07" y2="535.2" stroke-width="0.95"/><line x1="317.58" y1="532.9" x2="317.58" y2="535.2" stroke-width="0.95"/><line x1="319.35" y1="532.9" x2="319.35" y2="535.2" stroke-width="0.95"/><line x1="320.73" y1="532.9" x2="320.73" y2="535.2" stroke-width="0.95"/><line x1="321.85" y1="532.9" x2="321.85" y2="535.2" stroke-width="0.95"/><line x1="322.8" y1="532.9" x2="322.8" y2="535.2" stroke-width="0.95"/><line x1="323.62" y1="532.9" x2="323.62" y2="535.2" stroke-width="0.95"/><line x1="324.35" y1="532.9" x2="324.35" y2="535.2" stroke-width="0.95"/><line x1="325" y1="532.9" x2="325" y2="535.9"/><line x1="329.27" y1="532.9" x2="329.27" y2="535.2" stroke-width="0.95"/><line x1="331.78" y1="532.9" x2="331.78" y2="535.2" stroke-width="0.95"/><line x1="333.55" y1="532.9" x2="333.55" y2="535.2" stroke-width="0.95"/><line x1="334.93" y1="532.9" x2="334.93" y2="535.2" stroke-width="0.95"/><line x1="336.05" y1="532.9" x2="336.05" y2="535.2" stroke-width="0.95"/><line x1="337" y1="532.9" x2="337" y2="535.2" stroke-width="0.95"/><line x1="337.82" y1="532.9" x2="337.82" y2="535.2" stroke-width="0.95"/><line x1="338.55" y1="532.9" x2="338.55" y2="535.2" stroke-width="0.95"/><line x1="339.2" y1="532.9" x2="339.2" y2="535.9"/><line x1="343.47" y1="532.9" x2="343.47" y2="535.2" stroke-width="0.95"/><line x1="345.98" y1="532.9" x2="345.98" y2="535.2" stroke-width="0.95"/><line x1="347.75" y1="532.9" x2="347.75" y2="535.2" stroke-width="0.95"/><line x1="349.13" y1="532.9" x2="349.13" y2="535.2" stroke-width="0.95"/><line x1="350.25" y1="532.9" x2="350.25" y2="535.2" stroke-width="0.95"/><line x1="351.2" y1="532.9" x2="351.2" y2="535.2" stroke-width="0.95"/><line x1="352.02" y1="532.9" x2="352.02" y2="535.2" stroke-width="0.95"/><line x1="352.75" y1="532.9" x2="352.75" y2="535.2" stroke-width="0.95"/><line x1="353.4" y1="532.9" x2="353.4" y2="535.9"/><line x1="357.67" y1="532.9" x2="357.67" y2="535.2" stroke-width="0.95"/><line x1="360.18" y1="532.9" x2="360.18" y2="535.2" stroke-width="0.95"/><line x1="361.95" y1="532.9" x2="361.95" y2="535.2" stroke-width="0.95"/><line x1="363.33" y1="532.9" x2="363.33" y2="535.2" stroke-width="0.95"/><line x1="364.45" y1="532.9" x2="364.45" y2="535.2" stroke-width="0.95"/><line x1="365.4" y1="532.9" x2="365.4" y2="535.2" stroke-width="0.95"/><line x1="366.22" y1="532.9" x2="366.22" y2="535.2" stroke-width="0.95"/><line x1="366.95" y1="532.9" x2="366.95" y2="535.2" stroke-width="0.95"/><line x1="367.6" y1="532.9" x2="367.6" y2="535.9"/><line x1="383.3" y1="475.4" x2="383.3" y2="535.9" stroke="#555"/><line x1="379.8" y1="532.9" x2="440.6" y2="532.9"/><line x1="379.8" y1="475.4" x2="383.3" y2="475.4"/><line x1="379.8" y1="504.15" x2="383.3" y2="504.15"/><line x1="379.8" y1="532.9" x2="383.3" y2="532.9"/><line x1="383.3" y1="532.9" x2="383.3" y2="535.9"/><line x1="387.57" y1="532.9" x2="387.57" y2="535.2" stroke-width="0.95"/><line x1="390.08" y1="532.9" x2="390.08" y2="535.2" stroke-width="0.95"/><line x1="391.85" y1="532.9" x2="391.85" y2="535.2" stroke-width="0.95"/><line x1="393.23" y1="532.9" x2="393.23" y2="535.2" stroke-width="0.95"/><line x1="394.35" y1="532.9" x2="394.35" y2="535.2" stroke-width="0.95"/><line x1="395.3" y1="532.9" x2="395.3" y2="535.2" stroke-width="0.95"/><line x1="396.12" y1="532.9" x2="396.12" y2="535.2" stroke-width="0.95"/><line x1="396.85" y1="532.9" x2="396.85" y2="535.2" stroke-width="0.95"/><line x1="397.5" y1="532.9" x2="397.5" y2="535.9"/><line x1="401.77" y1="532.9" x2="401.77" y2="535.2" stroke-width="0.95"/><line x1="404.28" y1="532.9" x2="404.28" y2="535.2" stroke-width="0.95"/><line x1="406.05" y1="532.9" x2="406.05" y2="535.2" stroke-width="0.95"/><line x1="407.43" y1="532.9" x2="407.43" y2="535.2" stroke-width="0.95"/><line x1="408.55" y1="532.9" x2="408.55" y2="535.2" stroke-width="0.95"/><line x1="409.5" y1="532.9" x2="409.5" y2="535.2" stroke-width="0.95"/><line x1="410.32" y1="532.9" x2="410.32" y2="535.2" stroke-width="0.95"/><line x1="411.05" y1="532.9" x2="411.05" y2="535.2" stroke-width="0.95"/><line x1="411.7" y1="532.9" x2="411.7" y2="535.9"/><line x1="415.97" y1="532.9" x2="415.97" y2="535.2" stroke-width="0.95"/><line x1="418.48" y1="532.9" x2="418.48" y2="535.2" stroke-width="0.95"/><line x1="420.25" y1="532.9" x2="420.25" y2="535.2" stroke-width="0.95"/><line x1="421.63" y1="532.9" x2="421.63" y2="535.2" stroke-width="0.95"/><line x1="422.75" y1="532.9" x2="422.75" y2="535.2" stroke-width="0.95"/><line x1="423.7" y1="532.9" x2="423.7" y2="535.2" stroke-width="0.95"/><line x1="424.52" y1="532.9" x2="424.52" y2="535.2" stroke-width="0.95"/><line x1="425.25" y1="532.9" x2="425.25" y2="535.2" stroke-width="0.95"/><line x1="425.9" y1="532.9" x2="425.9" y2="535.9"/><line x1="430.17" y1="532.9" x2="430.17" y2="535.2" stroke-width="0.95"/><line x1="432.68" y1="532.9" x2="432.68" y2="535.2" stroke-width="0.95"/><line x1="434.45" y1="532.9" x2="434.45" y2="535.2" stroke-width="0.95"/><line x1="435.83" y1="532.9" x2="435.83" y2="535.2" stroke-width="0.95"/><line x1="436.95" y1="532.9" x2="436.95" y2="535.2" stroke-width="0.95"/><line x1="437.9" y1="532.9" x2="437.9" y2="535.2" stroke-width="0.95"/><line x1="438.72" y1="532.9" x2="438.72" y2="535.2" stroke-width="0.95"/><line x1="439.45" y1="532.9" x2="439.45" y2="535.2" stroke-width="0.95"/><line x1="440.1" y1="532.9" x2="440.1" y2="535.9"/><line x1="456" y1="475.4" x2="456" y2="535.7" stroke="#555"/><line x1="452.5" y1="532.7" x2="513.3" y2="532.7"/><line x1="452.5" y1="475.4" x2="456" y2="475.4"/><line x1="452.5" y1="494.5" x2="456" y2="494.5"/><line x1="452.5" y1="513.6" x2="456" y2="513.6"/><line x1="452.5" y1="532.7" x2="456" y2="532.7"/><line x1="456" y1="532.7" x2="456" y2="535.7"/><line x1="460.27" y1="532.7" x2="460.27" y2="535" stroke-width="0.95"/><line x1="462.78" y1="532.7" x2="462.78" y2="535" stroke-width="0.95"/><line x1="464.55" y1="532.7" x2="464.55" y2="535" stroke-width="0.95"/><line x1="465.93" y1="532.7" x2="465.93" y2="535" stroke-width="0.95"/><line x1="467.05" y1="532.7" x2="467.05" y2="535" stroke-width="0.95"/><line x1="468" y1="532.7" x2="468" y2="535" stroke-width="0.95"/><line x1="468.82" y1="532.7" x2="468.82" y2="535" stroke-width="0.95"/><line x1="469.55" y1="532.7" x2="469.55" y2="535" stroke-width="0.95"/><line x1="470.2" y1="532.7" x2="470.2" y2="535.7"/><line x1="474.47" y1="532.7" x2="474.47" y2="535" stroke-width="0.95"/><line x1="476.98" y1="532.7" x2="476.98" y2="535" stroke-width="0.95"/><line x1="478.75" y1="532.7" x2="478.75" y2="535" stroke-width="0.95"/><line x1="480.13" y1="532.7" x2="480.13" y2="535" stroke-width="0.95"/><line x1="481.25" y1="532.7" x2="481.25" y2="535" stroke-width="0.95"/><line x1="482.2" y1="532.7" x2="482.2" y2="535" stroke-width="0.95"/><line x1="483.02" y1="532.7" x2="483.02" y2="535" stroke-width="0.95"/><line x1="483.75" y1="532.7" x2="483.75" y2="535" stroke-width="0.95"/><line x1="484.4" y1="532.7" x2="484.4" y2="535.7"/><line x1="488.67" y1="532.7" x2="488.67" y2="535" stroke-width="0.95"/><line x1="491.18" y1="532.7" x2="491.18" y2="535" stroke-width="0.95"/><line x1="492.95" y1="532.7" x2="492.95" y2="535" stroke-width="0.95"/><line x1="494.33" y1="532.7" x2="494.33" y2="535" stroke-width="0.95"/><line x1="495.45" y1="532.7" x2="495.45" y2="535" stroke-width="0.95"/><line x1="496.4" y1="532.7" x2="496.4" y2="535" stroke-width="0.95"/><line x1="497.22" y1="532.7" x2="497.22" y2="535" stroke-width="0.95"/><line x1="497.95" y1="532.7" x2="497.95" y2="535" stroke-width="0.95"/><line x1="498.6" y1="532.7" x2="498.6" y2="535.7"/><line x1="502.87" y1="532.7" x2="502.87" y2="535" stroke-width="0.95"/><line x1="505.38" y1="532.7" x2="505.38" y2="535" stroke-width="0.95"/><line x1="507.15" y1="532.7" x2="507.15" y2="535" stroke-width="0.95"/><line x1="508.53" y1="532.7" x2="508.53" y2="535" stroke-width="0.95"/><line x1="509.65" y1="532.7" x2="509.65" y2="535" stroke-width="0.95"/><line x1="510.6" y1="532.7" x2="510.6" y2="535" stroke-width="0.95"/><line x1="511.42" y1="532.7" x2="511.42" y2="535" stroke-width="0.95"/><line x1="512.15" y1="532.7" x2="512.15" y2="535" stroke-width="0.95"/><line x1="512.8" y1="532.7" x2="512.8" y2="535.7"/><line x1="92.75" y1="558.8" x2="92.75" y2="619" stroke="#555"/><line x1="89.25" y1="616" x2="150.05" y2="616"/><line x1="89.25" y1="558.8" x2="92.75" y2="558.8"/><line x1="89.25" y1="577.87" x2="92.75" y2="577.87"/><line x1="89.25" y1="596.93" x2="92.75" y2="596.93"/><line x1="89.25" y1="616" x2="92.75" y2="616"/><line x1="92.75" y1="616" x2="92.75" y2="619"/><line x1="97.02" y1="616" x2="97.02" y2="618.3" stroke-width="0.95"/><line x1="99.53" y1="616" x2="99.53" y2="618.3" stroke-width="0.95"/><line x1="101.3" y1="616" x2="101.3" y2="618.3" stroke-width="0.95"/><line x1="102.68" y1="616" x2="102.68" y2="618.3" stroke-width="0.95"/><line x1="103.8" y1="616" x2="103.8" y2="618.3" stroke-width="0.95"/><line x1="104.75" y1="616" x2="104.75" y2="618.3" stroke-width="0.95"/><line x1="105.57" y1="616" x2="105.57" y2="618.3" stroke-width="0.95"/><line x1="106.3" y1="616" x2="106.3" y2="618.3" stroke-width="0.95"/><line x1="106.95" y1="616" x2="106.95" y2="619"/><line x1="111.22" y1="616" x2="111.22" y2="618.3" stroke-width="0.95"/><line x1="113.73" y1="616" x2="113.73" y2="618.3" stroke-width="0.95"/><line x1="115.5" y1="616" x2="115.5" y2="618.3" stroke-width="0.95"/><line x1="116.88" y1="616" x2="116.88" y2="618.3" stroke-width="0.95"/><line x1="118" y1="616" x2="118" y2="618.3" stroke-width="0.95"/><line x1="118.95" y1="616" x2="118.95" y2="618.3" stroke-width="0.95"/><line x1="119.77" y1="616" x2="119.77" y2="618.3" stroke-width="0.95"/><line x1="120.5" y1="616" x2="120.5" y2="618.3" stroke-width="0.95"/><line x1="121.15" y1="616" x2="121.15" y2="619"/><line x1="125.42" y1="616" x2="125.42" y2="618.3" stroke-width="0.95"/><line x1="127.93" y1="616" x2="127.93" y2="618.3" stroke-width="0.95"/><line x1="129.7" y1="616" x2="129.7" y2="618.3" stroke-width="0.95"/><line x1="131.08" y1="616" x2="131.08" y2="618.3" stroke-width="0.95"/><line x1="132.2" y1="616" x2="132.2" y2="618.3" stroke-width="0.95"/><line x1="133.15" y1="616" x2="133.15" y2="618.3" stroke-width="0.95"/><line x1="133.97" y1="616" x2="133.97" y2="618.3" stroke-width="0.95"/><line x1="134.7" y1="616" x2="134.7" y2="618.3" stroke-width="0.95"/><line x1="135.35" y1="616" x2="135.35" y2="619"/><line x1="139.62" y1="616" x2="139.62" y2="618.3" stroke-width="0.95"/><line x1="142.13" y1="616" x2="142.13" y2="618.3" stroke-width="0.95"/><line x1="143.9" y1="616" x2="143.9" y2="618.3" stroke-width="0.95"/><line x1="145.28" y1="616" x2="145.28" y2="618.3" stroke-width="0.95"/><line x1="146.4" y1="616" x2="146.4" y2="618.3" stroke-width="0.95"/><line x1="147.35" y1="616" x2="147.35" y2="618.3" stroke-width="0.95"/><line x1="148.17" y1="616" x2="148.17" y2="618.3" stroke-width="0.95"/><line x1="148.9" y1="616" x2="148.9" y2="618.3" stroke-width="0.95"/><line x1="149.55" y1="616" x2="149.55" y2="619"/><line x1="165.4" y1="558.8" x2="165.4" y2="619" stroke="#555"/><line x1="161.9" y1="616" x2="222.7" y2="616"/><line x1="161.9" y1="558.8" x2="165.4" y2="558.8"/><line x1="161.9" y1="577.87" x2="165.4" y2="577.87"/><line x1="161.9" y1="596.93" x2="165.4" y2="596.93"/><line x1="161.9" y1="616" x2="165.4" y2="616"/><line x1="165.4" y1="616" x2="165.4" y2="619"/><line x1="169.67" y1="616" x2="169.67" y2="618.3" stroke-width="0.95"/><line x1="172.18" y1="616" x2="172.18" y2="618.3" stroke-width="0.95"/><line x1="173.95" y1="616" x2="173.95" y2="618.3" stroke-width="0.95"/><line x1="175.33" y1="616" x2="175.33" y2="618.3" stroke-width="0.95"/><line x1="176.45" y1="616" x2="176.45" y2="618.3" stroke-width="0.95"/><line x1="177.4" y1="616" x2="177.4" y2="618.3" stroke-width="0.95"/><line x1="178.22" y1="616" x2="178.22" y2="618.3" stroke-width="0.95"/><line x1="178.95" y1="616" x2="178.95" y2="618.3" stroke-width="0.95"/><line x1="179.6" y1="616" x2="179.6" y2="619"/><line x1="183.87" y1="616" x2="183.87" y2="618.3" stroke-width="0.95"/><line x1="186.38" y1="616" x2="186.38" y2="618.3" stroke-width="0.95"/><line x1="188.15" y1="616" x2="188.15" y2="618.3" stroke-width="0.95"/><line x1="189.53" y1="616" x2="189.53" y2="618.3" stroke-width="0.95"/><line x1="190.65" y1="616" x2="190.65" y2="618.3" stroke-width="0.95"/><line x1="191.6" y1="616" x2="191.6" y2="618.3" stroke-width="0.95"/><line x1="192.42" y1="616" x2="192.42" y2="618.3" stroke-width="0.95"/><line x1="193.15" y1="616" x2="193.15" y2="618.3" stroke-width="0.95"/><line x1="193.8" y1="616" x2="193.8" y2="619"/><line x1="198.07" y1="616" x2="198.07" y2="618.3" stroke-width="0.95"/><line x1="200.58" y1="616" x2="200.58" y2="618.3" stroke-width="0.95"/><line x1="202.35" y1="616" x2="202.35" y2="618.3" stroke-width="0.95"/><line x1="203.73" y1="616" x2="203.73" y2="618.3" stroke-width="0.95"/><line x1="204.85" y1="616" x2="204.85" y2="618.3" stroke-width="0.95"/><line x1="205.8" y1="616" x2="205.8" y2="618.3" stroke-width="0.95"/><line x1="206.62" y1="616" x2="206.62" y2="618.3" stroke-width="0.95"/><line x1="207.35" y1="616" x2="207.35" y2="618.3" stroke-width="0.95"/><line x1="208" y1="616" x2="208" y2="619"/><line x1="212.27" y1="616" x2="212.27" y2="618.3" stroke-width="0.95"/><line x1="214.78" y1="616" x2="214.78" y2="618.3" stroke-width="0.95"/><line x1="216.55" y1="616" x2="216.55" y2="618.3" stroke-width="0.95"/><line x1="217.93" y1="616" x2="217.93" y2="618.3" stroke-width="0.95"/><line x1="219.05" y1="616" x2="219.05" y2="618.3" stroke-width="0.95"/><line x1="220" y1="616" x2="220" y2="618.3" stroke-width="0.95"/><line x1="220.82" y1="616" x2="220.82" y2="618.3" stroke-width="0.95"/><line x1="221.55" y1="616" x2="221.55" y2="618.3" stroke-width="0.95"/><line x1="222.2" y1="616" x2="222.2" y2="619"/><line x1="238" y1="558.8" x2="238" y2="619" stroke="#555"/><line x1="234.5" y1="616" x2="295.3" y2="616"/><line x1="234.5" y1="558.8" x2="238" y2="558.8"/><line x1="234.5" y1="577.87" x2="238" y2="577.87"/><line x1="234.5" y1="596.93" x2="238" y2="596.93"/><line x1="234.5" y1="616" x2="238" y2="616"/><line x1="238" y1="616" x2="238" y2="619"/><line x1="242.27" y1="616" x2="242.27" y2="618.3" stroke-width="0.95"/><line x1="244.78" y1="616" x2="244.78" y2="618.3" stroke-width="0.95"/><line x1="246.55" y1="616" x2="246.55" y2="618.3" stroke-width="0.95"/><line x1="247.93" y1="616" x2="247.93" y2="618.3" stroke-width="0.95"/><line x1="249.05" y1="616" x2="249.05" y2="618.3" stroke-width="0.95"/><line x1="250" y1="616" x2="250" y2="618.3" stroke-width="0.95"/><line x1="250.82" y1="616" x2="250.82" y2="618.3" stroke-width="0.95"/><line x1="251.55" y1="616" x2="251.55" y2="618.3" stroke-width="0.95"/><line x1="252.2" y1="616" x2="252.2" y2="619"/><line x1="256.47" y1="616" x2="256.47" y2="618.3" stroke-width="0.95"/><line x1="258.98" y1="616" x2="258.98" y2="618.3" stroke-width="0.95"/><line x1="260.75" y1="616" x2="260.75" y2="618.3" stroke-width="0.95"/><line x1="262.13" y1="616" x2="262.13" y2="618.3" stroke-width="0.95"/><line x1="263.25" y1="616" x2="263.25" y2="618.3" stroke-width="0.95"/><line x1="264.2" y1="616" x2="264.2" y2="618.3" stroke-width="0.95"/><line x1="265.02" y1="616" x2="265.02" y2="618.3" stroke-width="0.95"/><line x1="265.75" y1="616" x2="265.75" y2="618.3" stroke-width="0.95"/><line x1="266.4" y1="616" x2="266.4" y2="619"/><line x1="270.67" y1="616" x2="270.67" y2="618.3" stroke-width="0.95"/><line x1="273.18" y1="616" x2="273.18" y2="618.3" stroke-width="0.95"/><line x1="274.95" y1="616" x2="274.95" y2="618.3" stroke-width="0.95"/><line x1="276.33" y1="616" x2="276.33" y2="618.3" stroke-width="0.95"/><line x1="277.45" y1="616" x2="277.45" y2="618.3" stroke-width="0.95"/><line x1="278.4" y1="616" x2="278.4" y2="618.3" stroke-width="0.95"/><line x1="279.22" y1="616" x2="279.22" y2="618.3" stroke-width="0.95"/><line x1="279.95" y1="616" x2="279.95" y2="618.3" stroke-width="0.95"/><line x1="280.6" y1="616" x2="280.6" y2="619"/><line x1="284.87" y1="616" x2="284.87" y2="618.3" stroke-width="0.95"/><line x1="287.38" y1="616" x2="287.38" y2="618.3" stroke-width="0.95"/><line x1="289.15" y1="616" x2="289.15" y2="618.3" stroke-width="0.95"/><line x1="290.53" y1="616" x2="290.53" y2="618.3" stroke-width="0.95"/><line x1="291.65" y1="616" x2="291.65" y2="618.3" stroke-width="0.95"/><line x1="292.6" y1="616" x2="292.6" y2="618.3" stroke-width="0.95"/><line x1="293.42" y1="616" x2="293.42" y2="618.3" stroke-width="0.95"/><line x1="294.15" y1="616" x2="294.15" y2="618.3" stroke-width="0.95"/><line x1="294.8" y1="616" x2="294.8" y2="619"/><line x1="310.8" y1="558.8" x2="310.8" y2="619" stroke="#555"/><line x1="307.3" y1="616" x2="368.1" y2="616"/><line x1="307.3" y1="558.8" x2="310.8" y2="558.8"/><line x1="307.3" y1="577.87" x2="310.8" y2="577.87"/><line x1="307.3" y1="596.93" x2="310.8" y2="596.93"/><line x1="307.3" y1="616" x2="310.8" y2="616"/><line x1="310.8" y1="616" x2="310.8" y2="619"/><line x1="315.07" y1="616" x2="315.07" y2="618.3" stroke-width="0.95"/><line x1="317.58" y1="616" x2="317.58" y2="618.3" stroke-width="0.95"/><line x1="319.35" y1="616" x2="319.35" y2="618.3" stroke-width="0.95"/><line x1="320.73" y1="616" x2="320.73" y2="618.3" stroke-width="0.95"/><line x1="321.85" y1="616" x2="321.85" y2="618.3" stroke-width="0.95"/><line x1="322.8" y1="616" x2="322.8" y2="618.3" stroke-width="0.95"/><line x1="323.62" y1="616" x2="323.62" y2="618.3" stroke-width="0.95"/><line x1="324.35" y1="616" x2="324.35" y2="618.3" stroke-width="0.95"/><line x1="325" y1="616" x2="325" y2="619"/><line x1="329.27" y1="616" x2="329.27" y2="618.3" stroke-width="0.95"/><line x1="331.78" y1="616" x2="331.78" y2="618.3" stroke-width="0.95"/><line x1="333.55" y1="616" x2="333.55" y2="618.3" stroke-width="0.95"/><line x1="334.93" y1="616" x2="334.93" y2="618.3" stroke-width="0.95"/><line x1="336.05" y1="616" x2="336.05" y2="618.3" stroke-width="0.95"/><line x1="337" y1="616" x2="337" y2="618.3" stroke-width="0.95"/><line x1="337.82" y1="616" x2="337.82" y2="618.3" stroke-width="0.95"/><line x1="338.55" y1="616" x2="338.55" y2="618.3" stroke-width="0.95"/><line x1="339.2" y1="616" x2="339.2" y2="619"/><line x1="343.47" y1="616" x2="343.47" y2="618.3" stroke-width="0.95"/><line x1="345.98" y1="616" x2="345.98" y2="618.3" stroke-width="0.95"/><line x1="347.75" y1="616" x2="347.75" y2="618.3" stroke-width="0.95"/><line x1="349.13" y1="616" x2="349.13" y2="618.3" stroke-width="0.95"/><line x1="350.25" y1="616" x2="350.25" y2="618.3" stroke-width="0.95"/><line x1="351.2" y1="616" x2="351.2" y2="618.3" stroke-width="0.95"/><line x1="352.02" y1="616" x2="352.02" y2="618.3" stroke-width="0.95"/><line x1="352.75" y1="616" x2="352.75" y2="618.3" stroke-width="0.95"/><line x1="353.4" y1="616" x2="353.4" y2="619"/><line x1="357.67" y1="616" x2="357.67" y2="618.3" stroke-width="0.95"/><line x1="360.18" y1="616" x2="360.18" y2="618.3" stroke-width="0.95"/><line x1="361.95" y1="616" x2="361.95" y2="618.3" stroke-width="0.95"/><line x1="363.33" y1="616" x2="363.33" y2="618.3" stroke-width="0.95"/><line x1="364.45" y1="616" x2="364.45" y2="618.3" stroke-width="0.95"/><line x1="365.4" y1="616" x2="365.4" y2="618.3" stroke-width="0.95"/><line x1="366.22" y1="616" x2="366.22" y2="618.3" stroke-width="0.95"/><line x1="366.95" y1="616" x2="366.95" y2="618.3" stroke-width="0.95"/><line x1="367.6" y1="616" x2="367.6" y2="619"/><line x1="383.3" y1="558.8" x2="383.3" y2="619" stroke="#555"/><line x1="379.8" y1="616" x2="440.6" y2="616"/><line x1="379.8" y1="558.8" x2="383.3" y2="558.8"/><line x1="379.8" y1="577.87" x2="383.3" y2="577.87"/><line x1="379.8" y1="596.93" x2="383.3" y2="596.93"/><line x1="379.8" y1="616" x2="383.3" y2="616"/><line x1="383.3" y1="616" x2="383.3" y2="619"/><line x1="387.57" y1="616" x2="387.57" y2="618.3" stroke-width="0.95"/><line x1="390.08" y1="616" x2="390.08" y2="618.3" stroke-width="0.95"/><line x1="391.85" y1="616" x2="391.85" y2="618.3" stroke-width="0.95"/><line x1="393.23" y1="616" x2="393.23" y2="618.3" stroke-width="0.95"/><line x1="394.35" y1="616" x2="394.35" y2="618.3" stroke-width="0.95"/><line x1="395.3" y1="616" x2="395.3" y2="618.3" stroke-width="0.95"/><line x1="396.12" y1="616" x2="396.12" y2="618.3" stroke-width="0.95"/><line x1="396.85" y1="616" x2="396.85" y2="618.3" stroke-width="0.95"/><line x1="397.5" y1="616" x2="397.5" y2="619"/><line x1="401.77" y1="616" x2="401.77" y2="618.3" stroke-width="0.95"/><line x1="404.28" y1="616" x2="404.28" y2="618.3" stroke-width="0.95"/><line x1="406.05" y1="616" x2="406.05" y2="618.3" stroke-width="0.95"/><line x1="407.43" y1="616" x2="407.43" y2="618.3" stroke-width="0.95"/><line x1="408.55" y1="616" x2="408.55" y2="618.3" stroke-width="0.95"/><line x1="409.5" y1="616" x2="409.5" y2="618.3" stroke-width="0.95"/><line x1="410.32" y1="616" x2="410.32" y2="618.3" stroke-width="0.95"/><line x1="411.05" y1="616" x2="411.05" y2="618.3" stroke-width="0.95"/><line x1="411.7" y1="616" x2="411.7" y2="619"/><line x1="415.97" y1="616" x2="415.97" y2="618.3" stroke-width="0.95"/><line x1="418.48" y1="616" x2="418.48" y2="618.3" stroke-width="0.95"/><line x1="420.25" y1="616" x2="420.25" y2="618.3" stroke-width="0.95"/><line x1="421.63" y1="616" x2="421.63" y2="618.3" stroke-width="0.95"/><line x1="422.75" y1="616" x2="422.75" y2="618.3" stroke-width="0.95"/><line x1="423.7" y1="616" x2="423.7" y2="618.3" stroke-width="0.95"/><line x1="424.52" y1="616" x2="424.52" y2="618.3" stroke-width="0.95"/><line x1="425.25" y1="616" x2="425.25" y2="618.3" stroke-width="0.95"/><line x1="425.9" y1="616" x2="425.9" y2="619"/><line x1="430.17" y1="616" x2="430.17" y2="618.3" stroke-width="0.95"/><line x1="432.68" y1="616" x2="432.68" y2="618.3" stroke-width="0.95"/><line x1="434.45" y1="616" x2="434.45" y2="618.3" stroke-width="0.95"/><line x1="435.83" y1="616" x2="435.83" y2="618.3" stroke-width="0.95"/><line x1="436.95" y1="616" x2="436.95" y2="618.3" stroke-width="0.95"/><line x1="437.9" y1="616" x2="437.9" y2="618.3" stroke-width="0.95"/><line x1="438.72" y1="616" x2="438.72" y2="618.3" stroke-width="0.95"/><line x1="439.45" y1="616" x2="439.45" y2="618.3" stroke-width="0.95"/><line x1="440.1" y1="616" x2="440.1" y2="619"/><line x1="456" y1="558.8" x2="456" y2="619" stroke="#555"/><line x1="452.5" y1="616" x2="513.3" y2="616"/><line x1="452.5" y1="558.8" x2="456" y2="558.8"/><line x1="452.5" y1="577.87" x2="456" y2="577.87"/><line x1="452.5" y1="596.93" x2="456" y2="596.93"/><line x1="452.5" y1="616" x2="456" y2="616"/><line x1="456" y1="616" x2="456" y2="619"/><line x1="460.27" y1="616" x2="460.27" y2="618.3" stroke-width="0.95"/><line x1="462.78" y1="616" x2="462.78" y2="618.3" stroke-width="0.95"/><line x1="464.55" y1="616" x2="464.55" y2="618.3" stroke-width="0.95"/><line x1="465.93" y1="616" x2="465.93" y2="618.3" stroke-width="0.95"/><line x1="467.05" y1="616" x2="467.05" y2="618.3" stroke-width="0.95"/><line x1="468" y1="616" x2="468" y2="618.3" stroke-width="0.95"/><line x1="468.82" y1="616" x2="468.82" y2="618.3" stroke-width="0.95"/><line x1="469.55" y1="616" x2="469.55" y2="618.3" stroke-width="0.95"/><line x1="470.2" y1="616" x2="470.2" y2="619"/><line x1="474.47" y1="616" x2="474.47" y2="618.3" stroke-width="0.95"/><line x1="476.98" y1="616" x2="476.98" y2="618.3" stroke-width="0.95"/><line x1="478.75" y1="616" x2="478.75" y2="618.3" stroke-width="0.95"/><line x1="480.13" y1="616" x2="480.13" y2="618.3" stroke-width="0.95"/><line x1="481.25" y1="616" x2="481.25" y2="618.3" stroke-width="0.95"/><line x1="482.2" y1="616" x2="482.2" y2="618.3" stroke-width="0.95"/><line x1="483.02" y1="616" x2="483.02" y2="618.3" stroke-width="0.95"/><line x1="483.75" y1="616" x2="483.75" y2="618.3" stroke-width="0.95"/><line x1="484.4" y1="616" x2="484.4" y2="619"/><line x1="488.67" y1="616" x2="488.67" y2="618.3" stroke-width="0.95"/><line x1="491.18" y1="616" x2="491.18" y2="618.3" stroke-width="0.95"/><line x1="492.95" y1="616" x2="492.95" y2="618.3" stroke-width="0.95"/><line x1="494.33" y1="616" x2="494.33" y2="618.3" stroke-width="0.95"/><line x1="495.45" y1="616" x2="495.45" y2="618.3" stroke-width="0.95"/><line x1="496.4" y1="616" x2="496.4" y2="618.3" stroke-width="0.95"/><line x1="497.22" y1="616" x2="497.22" y2="618.3" stroke-width="0.95"/><line x1="497.95" y1="616" x2="497.95" y2="618.3" stroke-width="0.95"/><line x1="498.6" y1="616" x2="498.6" y2="619"/><line x1="502.87" y1="616" x2="502.87" y2="618.3" stroke-width="0.95"/><line x1="505.38" y1="616" x2="505.38" y2="618.3" stroke-width="0.95"/><line x1="507.15" y1="616" x2="507.15" y2="618.3" stroke-width="0.95"/><line x1="508.53" y1="616" x2="508.53" y2="618.3" stroke-width="0.95"/><line x1="509.65" y1="616" x2="509.65" y2="618.3" stroke-width="0.95"/><line x1="510.6" y1="616" x2="510.6" y2="618.3" stroke-width="0.95"/><line x1="511.42" y1="616" x2="511.42" y2="618.3" stroke-width="0.95"/><line x1="512.15" y1="616" x2="512.15" y2="618.3" stroke-width="0.95"/><line x1="512.8" y1="616" x2="512.8" y2="619"/><line x1="92.75" y1="642.3" x2="92.75" y2="702.6" stroke="#555"/><line x1="89.25" y1="699.6" x2="150.05" y2="699.6"/><line x1="89.25" y1="642.3" x2="92.75" y2="642.3"/><line x1="89.25" y1="661.4" x2="92.75" y2="661.4"/><line x1="89.25" y1="680.5" x2="92.75" y2="680.5"/><line x1="89.25" y1="699.6" x2="92.75" y2="699.6"/><line x1="92.75" y1="699.6" x2="92.75" y2="702.6"/><line x1="97.02" y1="699.6" x2="97.02" y2="701.9" stroke-width="0.95"/><line x1="99.53" y1="699.6" x2="99.53" y2="701.9" stroke-width="0.95"/><line x1="101.3" y1="699.6" x2="101.3" y2="701.9" stroke-width="0.95"/><line x1="102.68" y1="699.6" x2="102.68" y2="701.9" stroke-width="0.95"/><line x1="103.8" y1="699.6" x2="103.8" y2="701.9" stroke-width="0.95"/><line x1="104.75" y1="699.6" x2="104.75" y2="701.9" stroke-width="0.95"/><line x1="105.57" y1="699.6" x2="105.57" y2="701.9" stroke-width="0.95"/><line x1="106.3" y1="699.6" x2="106.3" y2="701.9" stroke-width="0.95"/><line x1="106.95" y1="699.6" x2="106.95" y2="702.6"/><line x1="111.22" y1="699.6" x2="111.22" y2="701.9" stroke-width="0.95"/><line x1="113.73" y1="699.6" x2="113.73" y2="701.9" stroke-width="0.95"/><line x1="115.5" y1="699.6" x2="115.5" y2="701.9" stroke-width="0.95"/><line x1="116.88" y1="699.6" x2="116.88" y2="701.9" stroke-width="0.95"/><line x1="118" y1="699.6" x2="118" y2="701.9" stroke-width="0.95"/><line x1="118.95" y1="699.6" x2="118.95" y2="701.9" stroke-width="0.95"/><line x1="119.77" y1="699.6" x2="119.77" y2="701.9" stroke-width="0.95"/><line x1="120.5" y1="699.6" x2="120.5" y2="701.9" stroke-width="0.95"/><line x1="121.15" y1="699.6" x2="121.15" y2="702.6"/><line x1="125.42" y1="699.6" x2="125.42" y2="701.9" stroke-width="0.95"/><line x1="127.93" y1="699.6" x2="127.93" y2="701.9" stroke-width="0.95"/><line x1="129.7" y1="699.6" x2="129.7" y2="701.9" stroke-width="0.95"/><line x1="131.08" y1="699.6" x2="131.08" y2="701.9" stroke-width="0.95"/><line x1="132.2" y1="699.6" x2="132.2" y2="701.9" stroke-width="0.95"/><line x1="133.15" y1="699.6" x2="133.15" y2="701.9" stroke-width="0.95"/><line x1="133.97" y1="699.6" x2="133.97" y2="701.9" stroke-width="0.95"/><line x1="134.7" y1="699.6" x2="134.7" y2="701.9" stroke-width="0.95"/><line x1="135.35" y1="699.6" x2="135.35" y2="702.6"/><line x1="139.62" y1="699.6" x2="139.62" y2="701.9" stroke-width="0.95"/><line x1="142.13" y1="699.6" x2="142.13" y2="701.9" stroke-width="0.95"/><line x1="143.9" y1="699.6" x2="143.9" y2="701.9" stroke-width="0.95"/><line x1="145.28" y1="699.6" x2="145.28" y2="701.9" stroke-width="0.95"/><line x1="146.4" y1="699.6" x2="146.4" y2="701.9" stroke-width="0.95"/><line x1="147.35" y1="699.6" x2="147.35" y2="701.9" stroke-width="0.95"/><line x1="148.17" y1="699.6" x2="148.17" y2="701.9" stroke-width="0.95"/><line x1="148.9" y1="699.6" x2="148.9" y2="701.9" stroke-width="0.95"/><line x1="149.55" y1="699.6" x2="149.55" y2="702.6"/><line x1="165.4" y1="642.3" x2="165.4" y2="702.6" stroke="#555"/><line x1="161.9" y1="699.6" x2="222.7" y2="699.6"/><line x1="161.9" y1="642.3" x2="165.4" y2="642.3"/><line x1="161.9" y1="661.4" x2="165.4" y2="661.4"/><line x1="161.9" y1="680.5" x2="165.4" y2="680.5"/><line x1="161.9" y1="699.6" x2="165.4" y2="699.6"/><line x1="165.4" y1="699.6" x2="165.4" y2="702.6"/><line x1="169.67" y1="699.6" x2="169.67" y2="701.9" stroke-width="0.95"/><line x1="172.18" y1="699.6" x2="172.18" y2="701.9" stroke-width="0.95"/><line x1="173.95" y1="699.6" x2="173.95" y2="701.9" stroke-width="0.95"/><line x1="175.33" y1="699.6" x2="175.33" y2="701.9" stroke-width="0.95"/><line x1="176.45" y1="699.6" x2="176.45" y2="701.9" stroke-width="0.95"/><line x1="177.4" y1="699.6" x2="177.4" y2="701.9" stroke-width="0.95"/><line x1="178.22" y1="699.6" x2="178.22" y2="701.9" stroke-width="0.95"/><line x1="178.95" y1="699.6" x2="178.95" y2="701.9" stroke-width="0.95"/><line x1="179.6" y1="699.6" x2="179.6" y2="702.6"/><line x1="183.87" y1="699.6" x2="183.87" y2="701.9" stroke-width="0.95"/><line x1="186.38" y1="699.6" x2="186.38" y2="701.9" stroke-width="0.95"/><line x1="188.15" y1="699.6" x2="188.15" y2="701.9" stroke-width="0.95"/><line x1="189.53" y1="699.6" x2="189.53" y2="701.9" stroke-width="0.95"/><line x1="190.65" y1="699.6" x2="190.65" y2="701.9" stroke-width="0.95"/><line x1="191.6" y1="699.6" x2="191.6" y2="701.9" stroke-width="0.95"/><line x1="192.42" y1="699.6" x2="192.42" y2="701.9" stroke-width="0.95"/><line x1="193.15" y1="699.6" x2="193.15" y2="701.9" stroke-width="0.95"/><line x1="193.8" y1="699.6" x2="193.8" y2="702.6"/><line x1="198.07" y1="699.6" x2="198.07" y2="701.9" stroke-width="0.95"/><line x1="200.58" y1="699.6" x2="200.58" y2="701.9" stroke-width="0.95"/><line x1="202.35" y1="699.6" x2="202.35" y2="701.9" stroke-width="0.95"/><line x1="203.73" y1="699.6" x2="203.73" y2="701.9" stroke-width="0.95"/><line x1="204.85" y1="699.6" x2="204.85" y2="701.9" stroke-width="0.95"/><line x1="205.8" y1="699.6" x2="205.8" y2="701.9" stroke-width="0.95"/><line x1="206.62" y1="699.6" x2="206.62" y2="701.9" stroke-width="0.95"/><line x1="207.35" y1="699.6" x2="207.35" y2="701.9" stroke-width="0.95"/><line x1="208" y1="699.6" x2="208" y2="702.6"/><line x1="212.27" y1="699.6" x2="212.27" y2="701.9" stroke-width="0.95"/><line x1="214.78" y1="699.6" x2="214.78" y2="701.9" stroke-width="0.95"/><line x1="216.55" y1="699.6" x2="216.55" y2="701.9" stroke-width="0.95"/><line x1="217.93" y1="699.6" x2="217.93" y2="701.9" stroke-width="0.95"/><line x1="219.05" y1="699.6" x2="219.05" y2="701.9" stroke-width="0.95"/><line x1="220" y1="699.6" x2="220" y2="701.9" stroke-width="0.95"/><line x1="220.82" y1="699.6" x2="220.82" y2="701.9" stroke-width="0.95"/><line x1="221.55" y1="699.6" x2="221.55" y2="701.9" stroke-width="0.95"/><line x1="222.2" y1="699.6" x2="222.2" y2="702.6"/><line x1="238" y1="642.3" x2="238" y2="702.6" stroke="#555"/><line x1="234.5" y1="699.6" x2="295.3" y2="699.6"/><line x1="234.5" y1="642.3" x2="238" y2="642.3"/><line x1="234.5" y1="670.95" x2="238" y2="670.95"/><line x1="234.5" y1="699.6" x2="238" y2="699.6"/><line x1="238" y1="699.6" x2="238" y2="702.6"/><line x1="242.27" y1="699.6" x2="242.27" y2="701.9" stroke-width="0.95"/><line x1="244.78" y1="699.6" x2="244.78" y2="701.9" stroke-width="0.95"/><line x1="246.55" y1="699.6" x2="246.55" y2="701.9" stroke-width="0.95"/><line x1="247.93" y1="699.6" x2="247.93" y2="701.9" stroke-width="0.95"/><line x1="249.05" y1="699.6" x2="249.05" y2="701.9" stroke-width="0.95"/><line x1="250" y1="699.6" x2="250" y2="701.9" stroke-width="0.95"/><line x1="250.82" y1="699.6" x2="250.82" y2="701.9" stroke-width="0.95"/><line x1="251.55" y1="699.6" x2="251.55" y2="701.9" stroke-width="0.95"/><line x1="252.2" y1="699.6" x2="252.2" y2="702.6"/><line x1="256.47" y1="699.6" x2="256.47" y2="701.9" stroke-width="0.95"/><line x1="258.98" y1="699.6" x2="258.98" y2="701.9" stroke-width="0.95"/><line x1="260.75" y1="699.6" x2="260.75" y2="701.9" stroke-width="0.95"/><line x1="262.13" y1="699.6" x2="262.13" y2="701.9" stroke-width="0.95"/><line x1="263.25" y1="699.6" x2="263.25" y2="701.9" stroke-width="0.95"/><line x1="264.2" y1="699.6" x2="264.2" y2="701.9" stroke-width="0.95"/><line x1="265.02" y1="699.6" x2="265.02" y2="701.9" stroke-width="0.95"/><line x1="265.75" y1="699.6" x2="265.75" y2="701.9" stroke-width="0.95"/><line x1="266.4" y1="699.6" x2="266.4" y2="702.6"/><line x1="270.67" y1="699.6" x2="270.67" y2="701.9" stroke-width="0.95"/><line x1="273.18" y1="699.6" x2="273.18" y2="701.9" stroke-width="0.95"/><line x1="274.95" y1="699.6" x2="274.95" y2="701.9" stroke-width="0.95"/><line x1="276.33" y1="699.6" x2="276.33" y2="701.9" stroke-width="0.95"/><line x1="277.45" y1="699.6" x2="277.45" y2="701.9" stroke-width="0.95"/><line x1="278.4" y1="699.6" x2="278.4" y2="701.9" stroke-width="0.95"/><line x1="279.22" y1="699.6" x2="279.22" y2="701.9" stroke-width="0.95"/><line x1="279.95" y1="699.6" x2="279.95" y2="701.9" stroke-width="0.95"/><line x1="280.6" y1="699.6" x2="280.6" y2="702.6"/><line x1="284.87" y1="699.6" x2="284.87" y2="701.9" stroke-width="0.95"/><line x1="287.38" y1="699.6" x2="287.38" y2="701.9" stroke-width="0.95"/><line x1="289.15" y1="699.6" x2="289.15" y2="701.9" stroke-width="0.95"/><line x1="290.53" y1="699.6" x2="290.53" y2="701.9" stroke-width="0.95"/><line x1="291.65" y1="699.6" x2="291.65" y2="701.9" stroke-width="0.95"/><line x1="292.6" y1="699.6" x2="292.6" y2="701.9" stroke-width="0.95"/><line x1="293.42" y1="699.6" x2="293.42" y2="701.9" stroke-width="0.95"/><line x1="294.15" y1="699.6" x2="294.15" y2="701.9" stroke-width="0.95"/><line x1="294.8" y1="699.6" x2="294.8" y2="702.6"/><line x1="310.8" y1="642.3" x2="310.8" y2="702.6" stroke="#555"/><line x1="307.3" y1="699.6" x2="368.1" y2="699.6"/><line x1="307.3" y1="642.3" x2="310.8" y2="642.3"/><line x1="307.3" y1="670.95" x2="310.8" y2="670.95"/><line x1="307.3" y1="699.6" x2="310.8" y2="699.6"/><line x1="310.8" y1="699.6" x2="310.8" y2="702.6"/><line x1="315.07" y1="699.6" x2="315.07" y2="701.9" stroke-width="0.95"/><line x1="317.58" y1="699.6" x2="317.58" y2="701.9" stroke-width="0.95"/><line x1="319.35" y1="699.6" x2="319.35" y2="701.9" stroke-width="0.95"/><line x1="320.73" y1="699.6" x2="320.73" y2="701.9" stroke-width="0.95"/><line x1="321.85" y1="699.6" x2="321.85" y2="701.9" stroke-width="0.95"/><line x1="322.8" y1="699.6" x2="322.8" y2="701.9" stroke-width="0.95"/><line x1="323.62" y1="699.6" x2="323.62" y2="701.9" stroke-width="0.95"/><line x1="324.35" y1="699.6" x2="324.35" y2="701.9" stroke-width="0.95"/><line x1="325" y1="699.6" x2="325" y2="702.6"/><line x1="329.27" y1="699.6" x2="329.27" y2="701.9" stroke-width="0.95"/><line x1="331.78" y1="699.6" x2="331.78" y2="701.9" stroke-width="0.95"/><line x1="333.55" y1="699.6" x2="333.55" y2="701.9" stroke-width="0.95"/><line x1="334.93" y1="699.6" x2="334.93" y2="701.9" stroke-width="0.95"/><line x1="336.05" y1="699.6" x2="336.05" y2="701.9" stroke-width="0.95"/><line x1="337" y1="699.6" x2="337" y2="701.9" stroke-width="0.95"/><line x1="337.82" y1="699.6" x2="337.82" y2="701.9" stroke-width="0.95"/><line x1="338.55" y1="699.6" x2="338.55" y2="701.9" stroke-width="0.95"/><line x1="339.2" y1="699.6" x2="339.2" y2="702.6"/><line x1="343.47" y1="699.6" x2="343.47" y2="701.9" stroke-width="0.95"/><line x1="345.98" y1="699.6" x2="345.98" y2="701.9" stroke-width="0.95"/><line x1="347.75" y1="699.6" x2="347.75" y2="701.9" stroke-width="0.95"/><line x1="349.13" y1="699.6" x2="349.13" y2="701.9" stroke-width="0.95"/><line x1="350.25" y1="699.6" x2="350.25" y2="701.9" stroke-width="0.95"/><line x1="351.2" y1="699.6" x2="351.2" y2="701.9" stroke-width="0.95"/><line x1="352.02" y1="699.6" x2="352.02" y2="701.9" stroke-width="0.95"/><line x1="352.75" y1="699.6" x2="352.75" y2="701.9" stroke-width="0.95"/><line x1="353.4" y1="699.6" x2="353.4" y2="702.6"/><line x1="357.67" y1="699.6" x2="357.67" y2="701.9" stroke-width="0.95"/><line x1="360.18" y1="699.6" x2="360.18" y2="701.9" stroke-width="0.95"/><line x1="361.95" y1="699.6" x2="361.95" y2="701.9" stroke-width="0.95"/><line x1="363.33" y1="699.6" x2="363.33" y2="701.9" stroke-width="0.95"/><line x1="364.45" y1="699.6" x2="364.45" y2="701.9" stroke-width="0.95"/><line x1="365.4" y1="699.6" x2="365.4" y2="701.9" stroke-width="0.95"/><line x1="366.22" y1="699.6" x2="366.22" y2="701.9" stroke-width="0.95"/><line x1="366.95" y1="699.6" x2="366.95" y2="701.9" stroke-width="0.95"/><line x1="367.6" y1="699.6" x2="367.6" y2="702.6"/><line x1="383.3" y1="642.3" x2="383.3" y2="702.6" stroke="#555"/><line x1="379.8" y1="699.6" x2="440.6" y2="699.6"/><line x1="379.8" y1="642.3" x2="383.3" y2="642.3"/><line x1="379.8" y1="661.4" x2="383.3" y2="661.4"/><line x1="379.8" y1="680.5" x2="383.3" y2="680.5"/><line x1="379.8" y1="699.6" x2="383.3" y2="699.6"/><line x1="383.3" y1="699.6" x2="383.3" y2="702.6"/><line x1="387.57" y1="699.6" x2="387.57" y2="701.9" stroke-width="0.95"/><line x1="390.08" y1="699.6" x2="390.08" y2="701.9" stroke-width="0.95"/><line x1="391.85" y1="699.6" x2="391.85" y2="701.9" stroke-width="0.95"/><line x1="393.23" y1="699.6" x2="393.23" y2="701.9" stroke-width="0.95"/><line x1="394.35" y1="699.6" x2="394.35" y2="701.9" stroke-width="0.95"/><line x1="395.3" y1="699.6" x2="395.3" y2="701.9" stroke-width="0.95"/><line x1="396.12" y1="699.6" x2="396.12" y2="701.9" stroke-width="0.95"/><line x1="396.85" y1="699.6" x2="396.85" y2="701.9" stroke-width="0.95"/><line x1="397.5" y1="699.6" x2="397.5" y2="702.6"/><line x1="401.77" y1="699.6" x2="401.77" y2="701.9" stroke-width="0.95"/><line x1="404.28" y1="699.6" x2="404.28" y2="701.9" stroke-width="0.95"/><line x1="406.05" y1="699.6" x2="406.05" y2="701.9" stroke-width="0.95"/><line x1="407.43" y1="699.6" x2="407.43" y2="701.9" stroke-width="0.95"/><line x1="408.55" y1="699.6" x2="408.55" y2="701.9" stroke-width="0.95"/><line x1="409.5" y1="699.6" x2="409.5" y2="701.9" stroke-width="0.95"/><line x1="410.32" y1="699.6" x2="410.32" y2="701.9" stroke-width="0.95"/><line x1="411.05" y1="699.6" x2="411.05" y2="701.9" stroke-width="0.95"/><line x1="411.7" y1="699.6" x2="411.7" y2="702.6"/><line x1="415.97" y1="699.6" x2="415.97" y2="701.9" stroke-width="0.95"/><line x1="418.48" y1="699.6" x2="418.48" y2="701.9" stroke-width="0.95"/><line x1="420.25" y1="699.6" x2="420.25" y2="701.9" stroke-width="0.95"/><line x1="421.63" y1="699.6" x2="421.63" y2="701.9" stroke-width="0.95"/><line x1="422.75" y1="699.6" x2="422.75" y2="701.9" stroke-width="0.95"/><line x1="423.7" y1="699.6" x2="423.7" y2="701.9" stroke-width="0.95"/><line x1="424.52" y1="699.6" x2="424.52" y2="701.9" stroke-width="0.95"/><line x1="425.25" y1="699.6" x2="425.25" y2="701.9" stroke-width="0.95"/><line x1="425.9" y1="699.6" x2="425.9" y2="702.6"/><line x1="430.17" y1="699.6" x2="430.17" y2="701.9" stroke-width="0.95"/><line x1="432.68" y1="699.6" x2="432.68" y2="701.9" stroke-width="0.95"/><line x1="434.45" y1="699.6" x2="434.45" y2="701.9" stroke-width="0.95"/><line x1="435.83" y1="699.6" x2="435.83" y2="701.9" stroke-width="0.95"/><line x1="436.95" y1="699.6" x2="436.95" y2="701.9" stroke-width="0.95"/><line x1="437.9" y1="699.6" x2="437.9" y2="701.9" stroke-width="0.95"/><line x1="438.72" y1="699.6" x2="438.72" y2="701.9" stroke-width="0.95"/><line x1="439.45" y1="699.6" x2="439.45" y2="701.9" stroke-width="0.95"/><line x1="440.1" y1="699.6" x2="440.1" y2="702.6"/><line x1="456" y1="642.3" x2="456" y2="702.6" stroke="#555"/><line x1="452.5" y1="699.6" x2="513.3" y2="699.6"/><line x1="452.5" y1="642.3" x2="456" y2="642.3"/><line x1="452.5" y1="670.95" x2="456" y2="670.95"/><line x1="452.5" y1="699.6" x2="456" y2="699.6"/><line x1="456" y1="699.6" x2="456" y2="702.6"/><line x1="460.27" y1="699.6" x2="460.27" y2="701.9" stroke-width="0.95"/><line x1="462.78" y1="699.6" x2="462.78" y2="701.9" stroke-width="0.95"/><line x1="464.55" y1="699.6" x2="464.55" y2="701.9" stroke-width="0.95"/><line x1="465.93" y1="699.6" x2="465.93" y2="701.9" stroke-width="0.95"/><line x1="467.05" y1="699.6" x2="467.05" y2="701.9" stroke-width="0.95"/><line x1="468" y1="699.6" x2="468" y2="701.9" stroke-width="0.95"/><line x1="468.82" y1="699.6" x2="468.82" y2="701.9" stroke-width="0.95"/><line x1="469.55" y1="699.6" x2="469.55" y2="701.9" stroke-width="0.95"/><line x1="470.2" y1="699.6" x2="470.2" y2="702.6"/><line x1="474.47" y1="699.6" x2="474.47" y2="701.9" stroke-width="0.95"/><line x1="476.98" y1="699.6" x2="476.98" y2="701.9" stroke-width="0.95"/><line x1="478.75" y1="699.6" x2="478.75" y2="701.9" stroke-width="0.95"/><line x1="480.13" y1="699.6" x2="480.13" y2="701.9" stroke-width="0.95"/><line x1="481.25" y1="699.6" x2="481.25" y2="701.9" stroke-width="0.95"/><line x1="482.2" y1="699.6" x2="482.2" y2="701.9" stroke-width="0.95"/><line x1="483.02" y1="699.6" x2="483.02" y2="701.9" stroke-width="0.95"/><line x1="483.75" y1="699.6" x2="483.75" y2="701.9" stroke-width="0.95"/><line x1="484.4" y1="699.6" x2="484.4" y2="702.6"/><line x1="488.67" y1="699.6" x2="488.67" y2="701.9" stroke-width="0.95"/><line x1="491.18" y1="699.6" x2="491.18" y2="701.9" stroke-width="0.95"/><line x1="492.95" y1="699.6" x2="492.95" y2="701.9" stroke-width="0.95"/><line x1="494.33" y1="699.6" x2="494.33" y2="701.9" stroke-width="0.95"/><line x1="495.45" y1="699.6" x2="495.45" y2="701.9" stroke-width="0.95"/><line x1="496.4" y1="699.6" x2="496.4" y2="701.9" stroke-width="0.95"/><line x1="497.22" y1="699.6" x2="497.22" y2="701.9" stroke-width="0.95"/><line x1="497.95" y1="699.6" x2="497.95" y2="701.9" stroke-width="0.95"/><line x1="498.6" y1="699.6" x2="498.6" y2="702.6"/><line x1="502.87" y1="699.6" x2="502.87" y2="701.9" stroke-width="0.95"/><line x1="505.38" y1="699.6" x2="505.38" y2="701.9" stroke-width="0.95"/><line x1="507.15" y1="699.6" x2="507.15" y2="701.9" stroke-width="0.95"/><line x1="508.53" y1="699.6" x2="508.53" y2="701.9" stroke-width="0.95"/><line x1="509.65" y1="699.6" x2="509.65" y2="701.9" stroke-width="0.95"/><line x1="510.6" y1="699.6" x2="510.6" y2="701.9" stroke-width="0.95"/><line x1="511.42" y1="699.6" x2="511.42" y2="701.9" stroke-width="0.95"/><line x1="512.15" y1="699.6" x2="512.15" y2="701.9" stroke-width="0.95"/><line x1="512.8" y1="699.6" x2="512.8" y2="702.6"/></g>
<g fill="#2a2a2a" stroke="#2a2a2a" stroke-width="0.22"><text x="88.15" y="19.8" text-anchor="end" font-size="6.6">400</text><text x="88.15" y="34.07" text-anchor="end" font-size="6.6">300</text><text x="88.15" y="48.35" text-anchor="end" font-size="6.6">200</text><text x="88.15" y="62.62" text-anchor="end" font-size="6.6">100</text><text x="88.15" y="76.9" text-anchor="end" font-size="6.6">0</text><text x="87.85" y="85.3" font-size="6.6">10<tspan font-size="3.9" dy="-2.5">0</tspan></text><text x="102.05" y="85.3" font-size="6.6">10<tspan font-size="3.9" dy="-2.5">1</tspan></text><text x="116.25" y="85.3" font-size="6.6">10<tspan font-size="3.9" dy="-2.5">2</tspan></text><text x="130.45" y="85.3" font-size="6.6">10<tspan font-size="3.9" dy="-2.5">3</tspan></text><text x="144.65" y="85.3" font-size="6.6">10<tspan font-size="3.9" dy="-2.5">4</tspan></text><text x="160.8" y="19.8" text-anchor="end" font-size="6.6">300</text><text x="160.8" y="38.83" text-anchor="end" font-size="6.6">200</text><text x="160.8" y="57.87" text-anchor="end" font-size="6.6">100</text><text x="160.8" y="76.9" text-anchor="end" font-size="6.6">0</text><text x="160.5" y="85.3" font-size="6.6">10<tspan font-size="3.9" dy="-2.5">0</tspan></text><text x="174.7" y="85.3" font-size="6.6">10<tspan font-size="3.9" dy="-2.5">1</tspan></text><text x="188.9" y="85.3" font-size="6.6">10<tspan font-size="3.9" dy="-2.5">2</tspan></text><text x="203.1" y="85.3" font-size="6.6">10<tspan font-size="3.9" dy="-2.5">3</tspan></text><text x="217.3" y="85.3" font-size="6.6">10<tspan font-size="3.9" dy="-2.5">4</tspan></text><text x="233.4" y="19.8" text-anchor="end" font-size="6.6">300</text><text x="233.4" y="38.83" text-anchor="end" font-size="6.6">200</text><text x="233.4" y="57.87" text-anchor="end" font-size="6.6">100</text><text x="233.4" y="76.9" text-anchor="end" font-size="6.6">0</text><text x="233.1" y="85.3" font-size="6.6">10<tspan font-size="3.9" dy="-2.5">0</tspan></text><text x="247.3" y="85.3" font-size="6.6">10<tspan font-size="3.9" dy="-2.5">1</tspan></text><text x="261.5" y="85.3" font-size="6.6">10<tspan font-size="3.9" dy="-2.5">2</tspan></text><text x="275.7" y="85.3" font-size="6.6">10<tspan font-size="3.9" dy="-2.5">3</tspan></text><text x="289.9" y="85.3" font-size="6.6">10<tspan font-size="3.9" dy="-2.5">4</tspan></text><text x="306.2" y="19.8" text-anchor="end" font-size="6.6">250</text><text x="306.2" y="31.22" text-anchor="end" font-size="6.6">200</text><text x="306.2" y="42.64" text-anchor="end" font-size="6.6">150</text><text x="306.2" y="54.06" text-anchor="end" font-size="6.6">100</text><text x="306.2" y="65.48" text-anchor="end" font-size="6.6">50</text><text x="306.2" y="76.9" text-anchor="end" font-size="6.6">0</text><text x="305.9" y="85.3" font-size="6.6">10<tspan font-size="3.9" dy="-2.5">0</tspan></text><text x="320.1" y="85.3" font-size="6.6">10<tspan font-size="3.9" dy="-2.5">1</tspan></text><text x="334.3" y="85.3" font-size="6.6">10<tspan font-size="3.9" dy="-2.5">2</tspan></text><text x="348.5" y="85.3" font-size="6.6">10<tspan font-size="3.9" dy="-2.5">3</tspan></text><text x="362.7" y="85.3" font-size="6.6">10<tspan font-size="3.9" dy="-2.5">4</tspan></text><text x="378.7" y="19.8" text-anchor="end" font-size="6.6">300</text><text x="378.7" y="38.83" text-anchor="end" font-size="6.6">200</text><text x="378.7" y="57.87" text-anchor="end" font-size="6.6">100</text><text x="378.7" y="76.9" text-anchor="end" font-size="6.6">0</text><text x="378.4" y="85.3" font-size="6.6">10<tspan font-size="3.9" dy="-2.5">0</tspan></text><text x="392.6" y="85.3" font-size="6.6">10<tspan font-size="3.9" dy="-2.5">1</tspan></text><text x="406.8" y="85.3" font-size="6.6">10<tspan font-size="3.9" dy="-2.5">2</tspan></text><text x="421" y="85.3" font-size="6.6">10<tspan font-size="3.9" dy="-2.5">3</tspan></text><text x="435.2" y="85.3" font-size="6.6">10<tspan font-size="3.9" dy="-2.5">4</tspan></text><text x="451.4" y="19.8" text-anchor="end" font-size="6.6">300</text><text x="451.4" y="38.83" text-anchor="end" font-size="6.6">200</text><text x="451.4" y="57.87" text-anchor="end" font-size="6.6">100</text><text x="451.4" y="76.9" text-anchor="end" font-size="6.6">0</text><text x="451.1" y="85.3" font-size="6.6">10<tspan font-size="3.9" dy="-2.5">0</tspan></text><text x="465.3" y="85.3" font-size="6.6">10<tspan font-size="3.9" dy="-2.5">1</tspan></text><text x="479.5" y="85.3" font-size="6.6">10<tspan font-size="3.9" dy="-2.5">2</tspan></text><text x="493.7" y="85.3" font-size="6.6">10<tspan font-size="3.9" dy="-2.5">3</tspan></text><text x="507.9" y="85.3" font-size="6.6">10<tspan font-size="3.9" dy="-2.5">4</tspan></text><text x="88.15" y="105.5" text-anchor="end" font-size="6.6">150</text><text x="88.15" y="124.67" text-anchor="end" font-size="6.6">100</text><text x="88.15" y="143.83" text-anchor="end" font-size="6.6">50</text><text x="88.15" y="163" text-anchor="end" font-size="6.6">0</text><text x="87.85" y="171.4" font-size="6.6">10<tspan font-size="3.9" dy="-2.5">0</tspan></text><text x="102.05" y="171.4" font-size="6.6">10<tspan font-size="3.9" dy="-2.5">1</tspan></text><text x="116.25" y="171.4" font-size="6.6">10<tspan font-size="3.9" dy="-2.5">2</tspan></text><text x="130.45" y="171.4" font-size="6.6">10<tspan font-size="3.9" dy="-2.5">3</tspan></text><text x="144.65" y="171.4" font-size="6.6">10<tspan font-size="3.9" dy="-2.5">4</tspan></text><text x="160.8" y="105.5" text-anchor="end" font-size="6.6">100</text><text x="160.8" y="134.25" text-anchor="end" font-size="6.6">50</text><text x="160.8" y="163" text-anchor="end" font-size="6.6">0</text><text x="160.5" y="171.4" font-size="6.6">10<tspan font-size="3.9" dy="-2.5">0</tspan></text><text x="174.7" y="171.4" font-size="6.6">10<tspan font-size="3.9" dy="-2.5">1</tspan></text><text x="188.9" y="171.4" font-size="6.6">10<tspan font-size="3.9" dy="-2.5">2</tspan></text><text x="203.1" y="171.4" font-size="6.6">10<tspan font-size="3.9" dy="-2.5">3</tspan></text><text x="217.3" y="171.4" font-size="6.6">10<tspan font-size="3.9" dy="-2.5">4</tspan></text><text x="233.4" y="105.5" text-anchor="end" font-size="6.6">100</text><text x="233.4" y="134.25" text-anchor="end" font-size="6.6">50</text><text x="233.4" y="163" text-anchor="end" font-size="6.6">0</text><text x="233.1" y="171.4" font-size="6.6">10<tspan font-size="3.9" dy="-2.5">0</tspan></text><text x="247.3" y="171.4" font-size="6.6">10<tspan font-size="3.9" dy="-2.5">1</tspan></text><text x="261.5" y="171.4" font-size="6.6">10<tspan font-size="3.9" dy="-2.5">2</tspan></text><text x="275.7" y="171.4" font-size="6.6">10<tspan font-size="3.9" dy="-2.5">3</tspan></text><text x="289.9" y="171.4" font-size="6.6">10<tspan font-size="3.9" dy="-2.5">4</tspan></text><text x="306.2" y="105.5" text-anchor="end" font-size="6.6">100</text><text x="306.2" y="134.25" text-anchor="end" font-size="6.6">50</text><text x="306.2" y="163" text-anchor="end" font-size="6.6">0</text><text x="305.9" y="171.4" font-size="6.6">10<tspan font-size="3.9" dy="-2.5">0</tspan></text><text x="320.1" y="171.4" font-size="6.6">10<tspan font-size="3.9" dy="-2.5">1</tspan></text><text x="334.3" y="171.4" font-size="6.6">10<tspan font-size="3.9" dy="-2.5">2</tspan></text><text x="348.5" y="171.4" font-size="6.6">10<tspan font-size="3.9" dy="-2.5">3</tspan></text><text x="362.7" y="171.4" font-size="6.6">10<tspan font-size="3.9" dy="-2.5">4</tspan></text><text x="378.7" y="105.5" text-anchor="end" font-size="6.6">100</text><text x="378.7" y="134.25" text-anchor="end" font-size="6.6">50</text><text x="378.7" y="163" text-anchor="end" font-size="6.6">0</text><text x="378.4" y="171.4" font-size="6.6">10<tspan font-size="3.9" dy="-2.5">0</tspan></text><text x="392.6" y="171.4" font-size="6.6">10<tspan font-size="3.9" dy="-2.5">1</tspan></text><text x="406.8" y="171.4" font-size="6.6">10<tspan font-size="3.9" dy="-2.5">2</tspan></text><text x="421" y="171.4" font-size="6.6">10<tspan font-size="3.9" dy="-2.5">3</tspan></text><text x="435.2" y="171.4" font-size="6.6">10<tspan font-size="3.9" dy="-2.5">4</tspan></text><text x="451.4" y="105.5" text-anchor="end" font-size="6.6">100</text><text x="451.4" y="134.25" text-anchor="end" font-size="6.6">50</text><text x="451.4" y="163" text-anchor="end" font-size="6.6">0</text><text x="451.1" y="171.4" font-size="6.6">10<tspan font-size="3.9" dy="-2.5">0</tspan></text><text x="465.3" y="171.4" font-size="6.6">10<tspan font-size="3.9" dy="-2.5">1</tspan></text><text x="479.5" y="171.4" font-size="6.6">10<tspan font-size="3.9" dy="-2.5">2</tspan></text><text x="493.7" y="171.4" font-size="6.6">10<tspan font-size="3.9" dy="-2.5">3</tspan></text><text x="507.9" y="171.4" font-size="6.6">10<tspan font-size="3.9" dy="-2.5">4</tspan></text><text x="88.15" y="206.8" text-anchor="end" font-size="6.6">400</text><text x="88.15" y="221.18" text-anchor="end" font-size="6.6">300</text><text x="88.15" y="235.55" text-anchor="end" font-size="6.6">200</text><text x="88.15" y="249.92" text-anchor="end" font-size="6.6">100</text><text x="88.15" y="264.3" text-anchor="end" font-size="6.6">0</text><text x="87.85" y="272.7" font-size="6.6">10<tspan font-size="3.9" dy="-2.5">0</tspan></text><text x="102.05" y="272.7" font-size="6.6">10<tspan font-size="3.9" dy="-2.5">1</tspan></text><text x="116.25" y="272.7" font-size="6.6">10<tspan font-size="3.9" dy="-2.5">2</tspan></text><text x="130.45" y="272.7" font-size="6.6">10<tspan font-size="3.9" dy="-2.5">3</tspan></text><text x="144.65" y="272.7" font-size="6.6">10<tspan font-size="3.9" dy="-2.5">4</tspan></text><text x="160.8" y="206.8" text-anchor="end" font-size="6.6">300</text><text x="160.8" y="225.97" text-anchor="end" font-size="6.6">200</text><text x="160.8" y="245.13" text-anchor="end" font-size="6.6">100</text><text x="160.8" y="264.3" text-anchor="end" font-size="6.6">0</text><text x="160.5" y="272.7" font-size="6.6">10<tspan font-size="3.9" dy="-2.5">0</tspan></text><text x="174.7" y="272.7" font-size="6.6">10<tspan font-size="3.9" dy="-2.5">1</tspan></text><text x="188.9" y="272.7" font-size="6.6">10<tspan font-size="3.9" dy="-2.5">2</tspan></text><text x="203.1" y="272.7" font-size="6.6">10<tspan font-size="3.9" dy="-2.5">3</tspan></text><text x="217.3" y="272.7" font-size="6.6">10<tspan font-size="3.9" dy="-2.5">4</tspan></text><text x="233.4" y="206.8" text-anchor="end" font-size="6.6">400</text><text x="233.4" y="221.18" text-anchor="end" font-size="6.6">300</text><text x="233.4" y="235.55" text-anchor="end" font-size="6.6">200</text><text x="233.4" y="249.92" text-anchor="end" font-size="6.6">100</text><text x="233.4" y="264.3" text-anchor="end" font-size="6.6">0</text><text x="233.1" y="272.7" font-size="6.6">10<tspan font-size="3.9" dy="-2.5">0</tspan></text><text x="247.3" y="272.7" font-size="6.6">10<tspan font-size="3.9" dy="-2.5">1</tspan></text><text x="261.5" y="272.7" font-size="6.6">10<tspan font-size="3.9" dy="-2.5">2</tspan></text><text x="275.7" y="272.7" font-size="6.6">10<tspan font-size="3.9" dy="-2.5">3</tspan></text><text x="289.9" y="272.7" font-size="6.6">10<tspan font-size="3.9" dy="-2.5">4</tspan></text><text x="306.2" y="206.8" text-anchor="end" font-size="6.6">200</text><text x="306.2" y="235.55" text-anchor="end" font-size="6.6">100</text><text x="306.2" y="264.3" text-anchor="end" font-size="6.6">0</text><text x="305.9" y="272.7" font-size="6.6">10<tspan font-size="3.9" dy="-2.5">0</tspan></text><text x="320.1" y="272.7" font-size="6.6">10<tspan font-size="3.9" dy="-2.5">1</tspan></text><text x="334.3" y="272.7" font-size="6.6">10<tspan font-size="3.9" dy="-2.5">2</tspan></text><text x="348.5" y="272.7" font-size="6.6">10<tspan font-size="3.9" dy="-2.5">3</tspan></text><text x="362.7" y="272.7" font-size="6.6">10<tspan font-size="3.9" dy="-2.5">4</tspan></text><text x="378.7" y="206.8" text-anchor="end" font-size="6.6">300</text><text x="378.7" y="225.97" text-anchor="end" font-size="6.6">200</text><text x="378.7" y="245.13" text-anchor="end" font-size="6.6">100</text><text x="378.7" y="264.3" text-anchor="end" font-size="6.6">0</text><text x="378.4" y="272.7" font-size="6.6">10<tspan font-size="3.9" dy="-2.5">0</tspan></text><text x="392.6" y="272.7" font-size="6.6">10<tspan font-size="3.9" dy="-2.5">1</tspan></text><text x="406.8" y="272.7" font-size="6.6">10<tspan font-size="3.9" dy="-2.5">2</tspan></text><text x="421" y="272.7" font-size="6.6">10<tspan font-size="3.9" dy="-2.5">3</tspan></text><text x="435.2" y="272.7" font-size="6.6">10<tspan font-size="3.9" dy="-2.5">4</tspan></text><text x="451.4" y="206.8" text-anchor="end" font-size="6.6">300</text><text x="451.4" y="225.97" text-anchor="end" font-size="6.6">200</text><text x="451.4" y="245.13" text-anchor="end" font-size="6.6">100</text><text x="451.4" y="264.3" text-anchor="end" font-size="6.6">0</text><text x="451.1" y="272.7" font-size="6.6">10<tspan font-size="3.9" dy="-2.5">0</tspan></text><text x="465.3" y="272.7" font-size="6.6">10<tspan font-size="3.9" dy="-2.5">1</tspan></text><text x="479.5" y="272.7" font-size="6.6">10<tspan font-size="3.9" dy="-2.5">2</tspan></text><text x="493.7" y="272.7" font-size="6.6">10<tspan font-size="3.9" dy="-2.5">3</tspan></text><text x="507.9" y="272.7" font-size="6.6">10<tspan font-size="3.9" dy="-2.5">4</tspan></text><text x="88.15" y="296.8" text-anchor="end" font-size="6.6">1000</text><text x="88.15" y="308.36" text-anchor="end" font-size="6.6">800</text><text x="88.15" y="319.92" text-anchor="end" font-size="6.6">600</text><text x="88.15" y="331.48" text-anchor="end" font-size="6.6">400</text><text x="88.15" y="343.04" text-anchor="end" font-size="6.6">200</text><text x="88.15" y="354.6" text-anchor="end" font-size="6.6">0</text><text x="87.85" y="363" font-size="6.6">10<tspan font-size="3.9" dy="-2.5">0</tspan></text><text x="102.05" y="363" font-size="6.6">10<tspan font-size="3.9" dy="-2.5">1</tspan></text><text x="116.25" y="363" font-size="6.6">10<tspan font-size="3.9" dy="-2.5">2</tspan></text><text x="130.45" y="363" font-size="6.6">10<tspan font-size="3.9" dy="-2.5">3</tspan></text><text x="144.65" y="363" font-size="6.6">10<tspan font-size="3.9" dy="-2.5">4</tspan></text><text x="160.8" y="296.8" text-anchor="end" font-size="6.6">800</text><text x="160.8" y="311.25" text-anchor="end" font-size="6.6">600</text><text x="160.8" y="325.7" text-anchor="end" font-size="6.6">400</text><text x="160.8" y="340.15" text-anchor="end" font-size="6.6">200</text><text x="160.8" y="354.6" text-anchor="end" font-size="6.6">0</text><text x="160.5" y="363" font-size="6.6">10<tspan font-size="3.9" dy="-2.5">0</tspan></text><text x="174.7" y="363" font-size="6.6">10<tspan font-size="3.9" dy="-2.5">1</tspan></text><text x="188.9" y="363" font-size="6.6">10<tspan font-size="3.9" dy="-2.5">2</tspan></text><text x="203.1" y="363" font-size="6.6">10<tspan font-size="3.9" dy="-2.5">3</tspan></text><text x="217.3" y="363" font-size="6.6">10<tspan font-size="3.9" dy="-2.5">4</tspan></text><text x="233.4" y="296.8" text-anchor="end" font-size="6.6">600</text><text x="233.4" y="316.07" text-anchor="end" font-size="6.6">400</text><text x="233.4" y="335.33" text-anchor="end" font-size="6.6">200</text><text x="233.4" y="354.6" text-anchor="end" font-size="6.6">0</text><text x="233.1" y="363" font-size="6.6">10<tspan font-size="3.9" dy="-2.5">0</tspan></text><text x="247.3" y="363" font-size="6.6">10<tspan font-size="3.9" dy="-2.5">1</tspan></text><text x="261.5" y="363" font-size="6.6">10<tspan font-size="3.9" dy="-2.5">2</tspan></text><text x="275.7" y="363" font-size="6.6">10<tspan font-size="3.9" dy="-2.5">3</tspan></text><text x="289.9" y="363" font-size="6.6">10<tspan font-size="3.9" dy="-2.5">4</tspan></text><text x="306.2" y="296.8" text-anchor="end" font-size="6.6">400</text><text x="306.2" y="311.25" text-anchor="end" font-size="6.6">300</text><text x="306.2" y="325.7" text-anchor="end" font-size="6.6">200</text><text x="306.2" y="340.15" text-anchor="end" font-size="6.6">100</text><text x="306.2" y="354.6" text-anchor="end" font-size="6.6">0</text><text x="305.9" y="363" font-size="6.6">10<tspan font-size="3.9" dy="-2.5">0</tspan></text><text x="320.1" y="363" font-size="6.6">10<tspan font-size="3.9" dy="-2.5">1</tspan></text><text x="334.3" y="363" font-size="6.6">10<tspan font-size="3.9" dy="-2.5">2</tspan></text><text x="348.5" y="363" font-size="6.6">10<tspan font-size="3.9" dy="-2.5">3</tspan></text><text x="362.7" y="363" font-size="6.6">10<tspan font-size="3.9" dy="-2.5">4</tspan></text><text x="378.7" y="296.8" text-anchor="end" font-size="6.6">600</text><text x="378.7" y="316.07" text-anchor="end" font-size="6.6">400</text><text x="378.7" y="335.33" text-anchor="end" font-size="6.6">200</text><text x="378.7" y="354.6" text-anchor="end" font-size="6.6">0</text><text x="378.4" y="363" font-size="6.6">10<tspan font-size="3.9" dy="-2.5">0</tspan></text><text x="392.6" y="363" font-size="6.6">10<tspan font-size="3.9" dy="-2.5">1</tspan></text><text x="406.8" y="363" font-size="6.6">10<tspan font-size="3.9" dy="-2.5">2</tspan></text><text x="421" y="363" font-size="6.6">10<tspan font-size="3.9" dy="-2.5">3</tspan></text><text x="435.2" y="363" font-size="6.6">10<tspan font-size="3.9" dy="-2.5">4</tspan></text><text x="451.4" y="296.8" text-anchor="end" font-size="6.6">600</text><text x="451.4" y="316.07" text-anchor="end" font-size="6.6">400</text><text x="451.4" y="335.33" text-anchor="end" font-size="6.6">200</text><text x="451.4" y="354.6" text-anchor="end" font-size="6.6">0</text><text x="451.1" y="363" font-size="6.6">10<tspan font-size="3.9" dy="-2.5">0</tspan></text><text x="465.3" y="363" font-size="6.6">10<tspan font-size="3.9" dy="-2.5">1</tspan></text><text x="479.5" y="363" font-size="6.6">10<tspan font-size="3.9" dy="-2.5">2</tspan></text><text x="493.7" y="363" font-size="6.6">10<tspan font-size="3.9" dy="-2.5">3</tspan></text><text x="507.9" y="363" font-size="6.6">10<tspan font-size="3.9" dy="-2.5">4</tspan></text><text x="88.15" y="399.5" text-anchor="end" font-size="6.6">100</text><text x="88.15" y="428.2" text-anchor="end" font-size="6.6">50</text><text x="88.15" y="456.9" text-anchor="end" font-size="6.6">0</text><text x="87.85" y="465.3" font-size="6.6">10<tspan font-size="3.9" dy="-2.5">0</tspan></text><text x="102.05" y="465.3" font-size="6.6">10<tspan font-size="3.9" dy="-2.5">1</tspan></text><text x="116.25" y="465.3" font-size="6.6">10<tspan font-size="3.9" dy="-2.5">2</tspan></text><text x="130.45" y="465.3" font-size="6.6">10<tspan font-size="3.9" dy="-2.5">3</tspan></text><text x="144.65" y="465.3" font-size="6.6">10<tspan font-size="3.9" dy="-2.5">4</tspan></text><text x="160.8" y="399.5" text-anchor="end" font-size="6.6">100</text><text x="160.8" y="428.2" text-anchor="end" font-size="6.6">50</text><text x="160.8" y="456.9" text-anchor="end" font-size="6.6">0</text><text x="160.5" y="465.3" font-size="6.6">10<tspan font-size="3.9" dy="-2.5">0</tspan></text><text x="174.7" y="465.3" font-size="6.6">10<tspan font-size="3.9" dy="-2.5">1</tspan></text><text x="188.9" y="465.3" font-size="6.6">10<tspan font-size="3.9" dy="-2.5">2</tspan></text><text x="203.1" y="465.3" font-size="6.6">10<tspan font-size="3.9" dy="-2.5">3</tspan></text><text x="217.3" y="465.3" font-size="6.6">10<tspan font-size="3.9" dy="-2.5">4</tspan></text><text x="233.4" y="399.5" text-anchor="end" font-size="6.6">75</text><text x="233.4" y="418.63" text-anchor="end" font-size="6.6">50</text><text x="233.4" y="437.77" text-anchor="end" font-size="6.6">25</text><text x="233.4" y="456.9" text-anchor="end" font-size="6.6">0</text><text x="233.1" y="465.3" font-size="6.6">10<tspan font-size="3.9" dy="-2.5">0</tspan></text><text x="247.3" y="465.3" font-size="6.6">10<tspan font-size="3.9" dy="-2.5">1</tspan></text><text x="261.5" y="465.3" font-size="6.6">10<tspan font-size="3.9" dy="-2.5">2</tspan></text><text x="275.7" y="465.3" font-size="6.6">10<tspan font-size="3.9" dy="-2.5">3</tspan></text><text x="289.9" y="465.3" font-size="6.6">10<tspan font-size="3.9" dy="-2.5">4</tspan></text><text x="306.2" y="399.5" text-anchor="end" font-size="6.6">100</text><text x="306.2" y="428.2" text-anchor="end" font-size="6.6">50</text><text x="306.2" y="456.9" text-anchor="end" font-size="6.6">0</text><text x="305.9" y="465.3" font-size="6.6">10<tspan font-size="3.9" dy="-2.5">0</tspan></text><text x="320.1" y="465.3" font-size="6.6">10<tspan font-size="3.9" dy="-2.5">1</tspan></text><text x="334.3" y="465.3" font-size="6.6">10<tspan font-size="3.9" dy="-2.5">2</tspan></text><text x="348.5" y="465.3" font-size="6.6">10<tspan font-size="3.9" dy="-2.5">3</tspan></text><text x="362.7" y="465.3" font-size="6.6">10<tspan font-size="3.9" dy="-2.5">4</tspan></text><text x="378.7" y="399.5" text-anchor="end" font-size="6.6">75</text><text x="378.7" y="418.63" text-anchor="end" font-size="6.6">50</text><text x="378.7" y="437.77" text-anchor="end" font-size="6.6">25</text><text x="378.7" y="456.9" text-anchor="end" font-size="6.6">0</text><text x="378.4" y="465.3" font-size="6.6">10<tspan font-size="3.9" dy="-2.5">0</tspan></text><text x="392.6" y="465.3" font-size="6.6">10<tspan font-size="3.9" dy="-2.5">1</tspan></text><text x="406.8" y="465.3" font-size="6.6">10<tspan font-size="3.9" dy="-2.5">2</tspan></text><text x="421" y="465.3" font-size="6.6">10<tspan font-size="3.9" dy="-2.5">3</tspan></text><text x="435.2" y="465.3" font-size="6.6">10<tspan font-size="3.9" dy="-2.5">4</tspan></text><text x="451.4" y="399.5" text-anchor="end" font-size="6.6">75</text><text x="451.4" y="418.63" text-anchor="end" font-size="6.6">50</text><text x="451.4" y="437.77" text-anchor="end" font-size="6.6">25</text><text x="451.4" y="456.9" text-anchor="end" font-size="6.6">0</text><text x="451.1" y="465.3" font-size="6.6">10<tspan font-size="3.9" dy="-2.5">0</tspan></text><text x="465.3" y="465.3" font-size="6.6">10<tspan font-size="3.9" dy="-2.5">1</tspan></text><text x="479.5" y="465.3" font-size="6.6">10<tspan font-size="3.9" dy="-2.5">2</tspan></text><text x="493.7" y="465.3" font-size="6.6">10<tspan font-size="3.9" dy="-2.5">3</tspan></text><text x="507.9" y="465.3" font-size="6.6">10<tspan font-size="3.9" dy="-2.5">4</tspan></text><text x="88.15" y="481" text-anchor="end" font-size="6.6">300</text><text x="88.15" y="499.93" text-anchor="end" font-size="6.6">200</text><text x="88.15" y="518.87" text-anchor="end" font-size="6.6">100</text><text x="88.15" y="537.8" text-anchor="end" font-size="6.6">0</text><text x="87.85" y="546.2" font-size="6.6">10<tspan font-size="3.9" dy="-2.5">0</tspan></text><text x="102.05" y="546.2" font-size="6.6">10<tspan font-size="3.9" dy="-2.5">1</tspan></text><text x="116.25" y="546.2" font-size="6.6">10<tspan font-size="3.9" dy="-2.5">2</tspan></text><text x="130.45" y="546.2" font-size="6.6">10<tspan font-size="3.9" dy="-2.5">3</tspan></text><text x="144.65" y="546.2" font-size="6.6">10<tspan font-size="3.9" dy="-2.5">4</tspan></text><text x="160.8" y="479.8" text-anchor="end" font-size="6.6">150</text><text x="160.8" y="498.87" text-anchor="end" font-size="6.6">100</text><text x="160.8" y="517.93" text-anchor="end" font-size="6.6">50</text><text x="160.8" y="537" text-anchor="end" font-size="6.6">0</text><text x="160.5" y="545.4" font-size="6.6">10<tspan font-size="3.9" dy="-2.5">0</tspan></text><text x="174.7" y="545.4" font-size="6.6">10<tspan font-size="3.9" dy="-2.5">1</tspan></text><text x="188.9" y="545.4" font-size="6.6">10<tspan font-size="3.9" dy="-2.5">2</tspan></text><text x="203.1" y="545.4" font-size="6.6">10<tspan font-size="3.9" dy="-2.5">3</tspan></text><text x="217.3" y="545.4" font-size="6.6">10<tspan font-size="3.9" dy="-2.5">4</tspan></text><text x="233.4" y="478.8" text-anchor="end" font-size="6.6">250</text><text x="233.4" y="490.26" text-anchor="end" font-size="6.6">200</text><text x="233.4" y="501.72" text-anchor="end" font-size="6.6">150</text><text x="233.4" y="513.18" text-anchor="end" font-size="6.6">100</text><text x="233.4" y="524.64" text-anchor="end" font-size="6.6">50</text><text x="233.4" y="536.1" text-anchor="end" font-size="6.6">0</text><text x="233.1" y="544.5" font-size="6.6">10<tspan font-size="3.9" dy="-2.5">0</tspan></text><text x="247.3" y="544.5" font-size="6.6">10<tspan font-size="3.9" dy="-2.5">1</tspan></text><text x="261.5" y="544.5" font-size="6.6">10<tspan font-size="3.9" dy="-2.5">2</tspan></text><text x="275.7" y="544.5" font-size="6.6">10<tspan font-size="3.9" dy="-2.5">3</tspan></text><text x="289.9" y="544.5" font-size="6.6">10<tspan font-size="3.9" dy="-2.5">4</tspan></text><text x="306.2" y="478.1" text-anchor="end" font-size="6.6">150</text><text x="306.2" y="497.17" text-anchor="end" font-size="6.6">100</text><text x="306.2" y="516.23" text-anchor="end" font-size="6.6">50</text><text x="306.2" y="535.3" text-anchor="end" font-size="6.6">0</text><text x="305.9" y="543.7" font-size="6.6">10<tspan font-size="3.9" dy="-2.5">0</tspan></text><text x="320.1" y="543.7" font-size="6.6">10<tspan font-size="3.9" dy="-2.5">1</tspan></text><text x="334.3" y="543.7" font-size="6.6">10<tspan font-size="3.9" dy="-2.5">2</tspan></text><text x="348.5" y="543.7" font-size="6.6">10<tspan font-size="3.9" dy="-2.5">3</tspan></text><text x="362.7" y="543.7" font-size="6.6">10<tspan font-size="3.9" dy="-2.5">4</tspan></text><text x="378.7" y="477.8" text-anchor="end" font-size="6.6">200</text><text x="378.7" y="506.55" text-anchor="end" font-size="6.6">100</text><text x="378.7" y="535.3" text-anchor="end" font-size="6.6">0</text><text x="378.4" y="543.7" font-size="6.6">10<tspan font-size="3.9" dy="-2.5">0</tspan></text><text x="392.6" y="543.7" font-size="6.6">10<tspan font-size="3.9" dy="-2.5">1</tspan></text><text x="406.8" y="543.7" font-size="6.6">10<tspan font-size="3.9" dy="-2.5">2</tspan></text><text x="421" y="543.7" font-size="6.6">10<tspan font-size="3.9" dy="-2.5">3</tspan></text><text x="435.2" y="543.7" font-size="6.6">10<tspan font-size="3.9" dy="-2.5">4</tspan></text><text x="451.4" y="477.8" text-anchor="end" font-size="6.6">150</text><text x="451.4" y="496.9" text-anchor="end" font-size="6.6">100</text><text x="451.4" y="516" text-anchor="end" font-size="6.6">50</text><text x="451.4" y="535.1" text-anchor="end" font-size="6.6">0</text><text x="451.1" y="543.5" font-size="6.6">10<tspan font-size="3.9" dy="-2.5">0</tspan></text><text x="465.3" y="543.5" font-size="6.6">10<tspan font-size="3.9" dy="-2.5">1</tspan></text><text x="479.5" y="543.5" font-size="6.6">10<tspan font-size="3.9" dy="-2.5">2</tspan></text><text x="493.7" y="543.5" font-size="6.6">10<tspan font-size="3.9" dy="-2.5">3</tspan></text><text x="507.9" y="543.5" font-size="6.6">10<tspan font-size="3.9" dy="-2.5">4</tspan></text><text x="88.15" y="561.2" text-anchor="end" font-size="6.6">150</text><text x="88.15" y="580.27" text-anchor="end" font-size="6.6">100</text><text x="88.15" y="599.33" text-anchor="end" font-size="6.6">50</text><text x="88.15" y="618.4" text-anchor="end" font-size="6.6">0</text><text x="87.85" y="626.8" font-size="6.6">10<tspan font-size="3.9" dy="-2.5">0</tspan></text><text x="102.05" y="626.8" font-size="6.6">10<tspan font-size="3.9" dy="-2.5">1</tspan></text><text x="116.25" y="626.8" font-size="6.6">10<tspan font-size="3.9" dy="-2.5">2</tspan></text><text x="130.45" y="626.8" font-size="6.6">10<tspan font-size="3.9" dy="-2.5">3</tspan></text><text x="144.65" y="626.8" font-size="6.6">10<tspan font-size="3.9" dy="-2.5">4</tspan></text><text x="160.8" y="561.2" text-anchor="end" font-size="6.6">150</text><text x="160.8" y="580.27" text-anchor="end" font-size="6.6">100</text><text x="160.8" y="599.33" text-anchor="end" font-size="6.6">50</text><text x="160.8" y="618.4" text-anchor="end" font-size="6.6">0</text><text x="160.5" y="626.8" font-size="6.6">10<tspan font-size="3.9" dy="-2.5">0</tspan></text><text x="174.7" y="626.8" font-size="6.6">10<tspan font-size="3.9" dy="-2.5">1</tspan></text><text x="188.9" y="626.8" font-size="6.6">10<tspan font-size="3.9" dy="-2.5">2</tspan></text><text x="203.1" y="626.8" font-size="6.6">10<tspan font-size="3.9" dy="-2.5">3</tspan></text><text x="217.3" y="626.8" font-size="6.6">10<tspan font-size="3.9" dy="-2.5">4</tspan></text><text x="233.4" y="561.2" text-anchor="end" font-size="6.6">150</text><text x="233.4" y="580.27" text-anchor="end" font-size="6.6">100</text><text x="233.4" y="599.33" text-anchor="end" font-size="6.6">50</text><text x="233.4" y="618.4" text-anchor="end" font-size="6.6">0</text><text x="233.1" y="626.8" font-size="6.6">10<tspan font-size="3.9" dy="-2.5">0</tspan></text><text x="247.3" y="626.8" font-size="6.6">10<tspan font-size="3.9" dy="-2.5">1</tspan></text><text x="261.5" y="626.8" font-size="6.6">10<tspan font-size="3.9" dy="-2.5">2</tspan></text><text x="275.7" y="626.8" font-size="6.6">10<tspan font-size="3.9" dy="-2.5">3</tspan></text><text x="289.9" y="626.8" font-size="6.6">10<tspan font-size="3.9" dy="-2.5">4</tspan></text><text x="306.2" y="561.2" text-anchor="end" font-size="6.6">150</text><text x="306.2" y="580.27" text-anchor="end" font-size="6.6">100</text><text x="306.2" y="599.33" text-anchor="end" font-size="6.6">50</text><text x="306.2" y="618.4" text-anchor="end" font-size="6.6">0</text><text x="305.9" y="626.8" font-size="6.6">10<tspan font-size="3.9" dy="-2.5">0</tspan></text><text x="320.1" y="626.8" font-size="6.6">10<tspan font-size="3.9" dy="-2.5">1</tspan></text><text x="334.3" y="626.8" font-size="6.6">10<tspan font-size="3.9" dy="-2.5">2</tspan></text><text x="348.5" y="626.8" font-size="6.6">10<tspan font-size="3.9" dy="-2.5">3</tspan></text><text x="362.7" y="626.8" font-size="6.6">10<tspan font-size="3.9" dy="-2.5">4</tspan></text><text x="378.7" y="561.2" text-anchor="end" font-size="6.6">150</text><text x="378.7" y="580.27" text-anchor="end" font-size="6.6">100</text><text x="378.7" y="599.33" text-anchor="end" font-size="6.6">50</text><text x="378.7" y="618.4" text-anchor="end" font-size="6.6">0</text><text x="378.4" y="626.8" font-size="6.6">10<tspan font-size="3.9" dy="-2.5">0</tspan></text><text x="392.6" y="626.8" font-size="6.6">10<tspan font-size="3.9" dy="-2.5">1</tspan></text><text x="406.8" y="626.8" font-size="6.6">10<tspan font-size="3.9" dy="-2.5">2</tspan></text><text x="421" y="626.8" font-size="6.6">10<tspan font-size="3.9" dy="-2.5">3</tspan></text><text x="435.2" y="626.8" font-size="6.6">10<tspan font-size="3.9" dy="-2.5">4</tspan></text><text x="451.4" y="561.2" text-anchor="end" font-size="6.6">150</text><text x="451.4" y="580.27" text-anchor="end" font-size="6.6">100</text><text x="451.4" y="599.33" text-anchor="end" font-size="6.6">50</text><text x="451.4" y="618.4" text-anchor="end" font-size="6.6">0</text><text x="451.1" y="626.8" font-size="6.6">10<tspan font-size="3.9" dy="-2.5">0</tspan></text><text x="465.3" y="626.8" font-size="6.6">10<tspan font-size="3.9" dy="-2.5">1</tspan></text><text x="479.5" y="626.8" font-size="6.6">10<tspan font-size="3.9" dy="-2.5">2</tspan></text><text x="493.7" y="626.8" font-size="6.6">10<tspan font-size="3.9" dy="-2.5">3</tspan></text><text x="507.9" y="626.8" font-size="6.6">10<tspan font-size="3.9" dy="-2.5">4</tspan></text><text x="88.15" y="644.7" text-anchor="end" font-size="6.6">150</text><text x="88.15" y="663.8" text-anchor="end" font-size="6.6">100</text><text x="88.15" y="682.9" text-anchor="end" font-size="6.6">50</text><text x="88.15" y="702" text-anchor="end" font-size="6.6">0</text><text x="87.85" y="710.4" font-size="6.6">10<tspan font-size="3.9" dy="-2.5">0</tspan></text><text x="102.05" y="710.4" font-size="6.6">10<tspan font-size="3.9" dy="-2.5">1</tspan></text><text x="116.25" y="710.4" font-size="6.6">10<tspan font-size="3.9" dy="-2.5">2</tspan></text><text x="130.45" y="710.4" font-size="6.6">10<tspan font-size="3.9" dy="-2.5">3</tspan></text><text x="144.65" y="710.4" font-size="6.6">10<tspan font-size="3.9" dy="-2.5">4</tspan></text><text x="160.8" y="644.7" text-anchor="end" font-size="6.6">150</text><text x="160.8" y="663.8" text-anchor="end" font-size="6.6">100</text><text x="160.8" y="682.9" text-anchor="end" font-size="6.6">50</text><text x="160.8" y="702" text-anchor="end" font-size="6.6">0</text><text x="160.5" y="710.4" font-size="6.6">10<tspan font-size="3.9" dy="-2.5">0</tspan></text><text x="174.7" y="710.4" font-size="6.6">10<tspan font-size="3.9" dy="-2.5">1</tspan></text><text x="188.9" y="710.4" font-size="6.6">10<tspan font-size="3.9" dy="-2.5">2</tspan></text><text x="203.1" y="710.4" font-size="6.6">10<tspan font-size="3.9" dy="-2.5">3</tspan></text><text x="217.3" y="710.4" font-size="6.6">10<tspan font-size="3.9" dy="-2.5">4</tspan></text><text x="233.4" y="644.7" text-anchor="end" font-size="6.6">100</text><text x="233.4" y="673.35" text-anchor="end" font-size="6.6">50</text><text x="233.4" y="702" text-anchor="end" font-size="6.6">0</text><text x="233.1" y="710.4" font-size="6.6">10<tspan font-size="3.9" dy="-2.5">0</tspan></text><text x="247.3" y="710.4" font-size="6.6">10<tspan font-size="3.9" dy="-2.5">1</tspan></text><text x="261.5" y="710.4" font-size="6.6">10<tspan font-size="3.9" dy="-2.5">2</tspan></text><text x="275.7" y="710.4" font-size="6.6">10<tspan font-size="3.9" dy="-2.5">3</tspan></text><text x="289.9" y="710.4" font-size="6.6">10<tspan font-size="3.9" dy="-2.5">4</tspan></text><text x="306.2" y="644.7" text-anchor="end" font-size="6.6">100</text><text x="306.2" y="673.35" text-anchor="end" font-size="6.6">50</text><text x="306.2" y="702" text-anchor="end" font-size="6.6">0</text><text x="305.9" y="710.4" font-size="6.6">10<tspan font-size="3.9" dy="-2.5">0</tspan></text><text x="320.1" y="710.4" font-size="6.6">10<tspan font-size="3.9" dy="-2.5">1</tspan></text><text x="334.3" y="710.4" font-size="6.6">10<tspan font-size="3.9" dy="-2.5">2</tspan></text><text x="348.5" y="710.4" font-size="6.6">10<tspan font-size="3.9" dy="-2.5">3</tspan></text><text x="362.7" y="710.4" font-size="6.6">10<tspan font-size="3.9" dy="-2.5">4</tspan></text><text x="378.7" y="644.7" text-anchor="end" font-size="6.6">150</text><text x="378.7" y="663.8" text-anchor="end" font-size="6.6">100</text><text x="378.7" y="682.9" text-anchor="end" font-size="6.6">50</text><text x="378.7" y="702" text-anchor="end" font-size="6.6">0</text><text x="378.4" y="710.4" font-size="6.6">10<tspan font-size="3.9" dy="-2.5">0</tspan></text><text x="392.6" y="710.4" font-size="6.6">10<tspan font-size="3.9" dy="-2.5">1</tspan></text><text x="406.8" y="710.4" font-size="6.6">10<tspan font-size="3.9" dy="-2.5">2</tspan></text><text x="421" y="710.4" font-size="6.6">10<tspan font-size="3.9" dy="-2.5">3</tspan></text><text x="435.2" y="710.4" font-size="6.6">10<tspan font-size="3.9" dy="-2.5">4</tspan></text><text x="451.4" y="644.7" text-anchor="end" font-size="6.6">200</text><text x="451.4" y="673.35" text-anchor="end" font-size="6.6">100</text><text x="451.4" y="702" text-anchor="end" font-size="6.6">0</text><text x="451.1" y="710.4" font-size="6.6">10<tspan font-size="3.9" dy="-2.5">0</tspan></text><text x="465.3" y="710.4" font-size="6.6">10<tspan font-size="3.9" dy="-2.5">1</tspan></text><text x="479.5" y="710.4" font-size="6.6">10<tspan font-size="3.9" dy="-2.5">2</tspan></text><text x="493.7" y="710.4" font-size="6.6">10<tspan font-size="3.9" dy="-2.5">3</tspan></text><text x="507.9" y="710.4" font-size="6.6">10<tspan font-size="3.9" dy="-2.5">4</tspan></text></g>
<text x="105.55" y="13.60" font-size="10.2" fill="#111" textLength="30.77" lengthAdjust="spacingAndGlyphs">NTBA</text>
<text x="177.67" y="13.60" font-size="10.2" fill="#111" textLength="35.56" lengthAdjust="spacingAndGlyphs">CD244</text>
<text x="247.61" y="13.60" font-size="10.2" fill="#111" textLength="29.73" lengthAdjust="spacingAndGlyphs">CD84</text>
<text x="323.13" y="13.60" font-size="10.2" fill="#111" textLength="35.11" lengthAdjust="spacingAndGlyphs">CD150</text>
<text x="392.32" y="13.60" font-size="10.2" fill="#111" textLength="40.92" lengthAdjust="spacingAndGlyphs">CRACC</text>
<text x="462.32" y="13.60" font-size="10.2" fill="#111" textLength="35.73" lengthAdjust="spacingAndGlyphs">CD229</text>
<text x="105.55" y="394.00" font-size="10.2" fill="#111" textLength="30.77" lengthAdjust="spacingAndGlyphs">NTBA</text>
<text x="177.67" y="394.00" font-size="10.2" fill="#111" textLength="35.56" lengthAdjust="spacingAndGlyphs">CD244</text>
<text x="247.61" y="394.00" font-size="10.2" fill="#111" textLength="29.73" lengthAdjust="spacingAndGlyphs">CD84</text>
<text x="323.13" y="394.00" font-size="10.2" fill="#111" textLength="35.11" lengthAdjust="spacingAndGlyphs">CD150</text>
<text x="392.32" y="394.00" font-size="10.2" fill="#111" textLength="40.92" lengthAdjust="spacingAndGlyphs">CRACC</text>
<text x="462.32" y="394.00" font-size="10.2" fill="#111" textLength="35.73" lengthAdjust="spacingAndGlyphs">CD229</text>
<text transform="translate(70.90,46.05) rotate(-90)" x="-17.79" y="0" font-size="11" fill="#111" textLength="35.05" lengthAdjust="spacingAndGlyphs">Events</text>
<text transform="translate(70.90,132.50) rotate(-90)" x="-17.79" y="0" font-size="11" fill="#111" textLength="35.05" lengthAdjust="spacingAndGlyphs">Events</text>
<text transform="translate(70.90,231.70) rotate(-90)" x="-17.79" y="0" font-size="11" fill="#111" textLength="35.05" lengthAdjust="spacingAndGlyphs">Events</text>
<text transform="translate(70.90,324.20) rotate(-90)" x="-17.79" y="0" font-size="11" fill="#111" textLength="35.05" lengthAdjust="spacingAndGlyphs">Events</text>
<text transform="translate(70.90,424.90) rotate(-90)" x="-17.79" y="0" font-size="11" fill="#111" textLength="35.05" lengthAdjust="spacingAndGlyphs">Events</text>
<text transform="translate(70.90,508.20) rotate(-90)" x="-17.79" y="0" font-size="11" fill="#111" textLength="35.05" lengthAdjust="spacingAndGlyphs">Events</text>
<text transform="translate(70.90,587.70) rotate(-90)" x="-17.79" y="0" font-size="11" fill="#111" textLength="35.05" lengthAdjust="spacingAndGlyphs">Events</text>
<text transform="translate(70.90,672.00) rotate(-90)" x="-17.79" y="0" font-size="11" fill="#111" textLength="35.05" lengthAdjust="spacingAndGlyphs">Events</text>
<text x="15.67" y="42.50" font-size="11" fill="#111" textLength="38.53" lengthAdjust="spacingAndGlyphs">Normal</text>
<text x="15.72" y="56.60" font-size="11" fill="#111" textLength="40.45" lengthAdjust="spacingAndGlyphs">Donor 7</text>
<text x="15.67" y="129.80" font-size="11" fill="#111" textLength="38.53" lengthAdjust="spacingAndGlyphs">Normal</text>
<text x="15.72" y="142.80" font-size="11" fill="#111" textLength="40.37" lengthAdjust="spacingAndGlyphs">Donor 8</text>
<text x="16.35" y="237.10" font-size="11" fill="#111" textLength="26.99" lengthAdjust="spacingAndGlyphs">XLP1</text>
<text x="15.94" y="330.60" font-size="11" fill="#111" textLength="28.16" lengthAdjust="spacingAndGlyphs">XLP8</text>
<text x="15.67" y="422.40" font-size="11" fill="#111" textLength="38.53" lengthAdjust="spacingAndGlyphs">Normal</text>
<text x="16.11" y="436.20" font-size="11" fill="#111" textLength="18.63" lengthAdjust="spacingAndGlyphs">c64</text>
<text x="16.35" y="504.60" font-size="11" fill="#111" textLength="26.99" lengthAdjust="spacingAndGlyphs">XLP1</text>
<text x="15.69" y="518.10" font-size="11" fill="#111" textLength="19.17" lengthAdjust="spacingAndGlyphs">c30</text>
<text x="15.67" y="584.80" font-size="11" fill="#111" textLength="38.53" lengthAdjust="spacingAndGlyphs">Normal</text>
<text x="15.71" y="598.30" font-size="11" fill="#111" textLength="25.20" lengthAdjust="spacingAndGlyphs">c236</text>
<text x="15.94" y="665.20" font-size="11" fill="#111" textLength="28.16" lengthAdjust="spacingAndGlyphs">XLP8</text>
<text x="15.72" y="679.40" font-size="11" fill="#111" textLength="18.36" lengthAdjust="spacingAndGlyphs">c27</text>
<text x="0.6" y="13.8" font-size="17" font-weight="bold" fill="#000">A</text>
<text x="0.4" y="394.6" font-size="17" font-weight="bold" fill="#000">B</text>
<line x1="13.05" y1="17" x2="13.05" y2="351.7" stroke="#7d7d7d" stroke-width="1.4"/>
<line x1="13.05" y1="397" x2="13.05" y2="543.8" stroke="#7d7d7d" stroke-width="1.4"/>
<line x1="13.05" y1="557.3" x2="13.05" y2="705" stroke="#7d7d7d" stroke-width="1.4"/>
<text transform="translate(10.10,167.40) rotate(-90)" x="-32.42" y="0" font-size="11" fill="#111" textLength="64.70" lengthAdjust="spacingAndGlyphs">CD8+ PBMC</text>
<text transform="translate(10.10,468.55) rotate(-90)" x="-42.59" y="0" font-size="11" fill="#111" textLength="84.75" lengthAdjust="spacingAndGlyphs">KRP T cell clone</text>
<text transform="translate(10.10,630.80) rotate(-90)" x="-40.95" y="0" font-size="11" fill="#111" textLength="82.16" lengthAdjust="spacingAndGlyphs">YVL T cell clone</text>
</svg></body></html>
